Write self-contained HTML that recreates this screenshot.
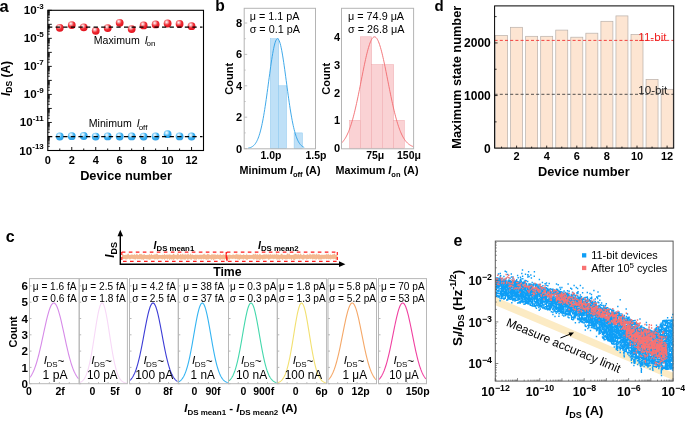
<!DOCTYPE html>
<html><head><meta charset="utf-8"><style>html,body{margin:0;padding:0;background:#fff;width:685px;height:422px;overflow:hidden}svg{display:block;filter:blur(0.35px)}text{font-family:"Liberation Sans",sans-serif}</style></head>
<body><svg width="685" height="422" viewBox="0 0 685 422" font-family="Liberation Sans, sans-serif"><text x="-0.50" y="12.00" font-size="16.5" font-weight="bold" text-anchor="start" fill="#000" >a</text>
<path d="M47.80 150.50h4 M47.80 146.28h2 M47.80 143.81h2 M47.80 142.06h2 M47.80 140.70h2 M47.80 139.59h2 M47.80 138.65h2 M47.80 137.84h2 M47.80 137.12h2 M47.80 136.48h4 M47.80 132.26h2 M47.80 129.79h2 M47.80 128.04h2 M47.80 126.68h2 M47.80 125.57h2 M47.80 124.63h2 M47.80 123.82h2 M47.80 123.10h2 M47.80 122.46h4 M47.80 118.24h2 M47.80 115.77h2 M47.80 114.02h2 M47.80 112.66h2 M47.80 111.55h2 M47.80 110.61h2 M47.80 109.80h2 M47.80 109.08h2 M47.80 108.44h4 M47.80 104.22h2 M47.80 101.75h2 M47.80 100.00h2 M47.80 98.64h2 M47.80 97.53h2 M47.80 96.59h2 M47.80 95.78h2 M47.80 95.06h2 M47.80 94.42h4 M47.80 90.20h2 M47.80 87.73h2 M47.80 85.98h2 M47.80 84.62h2 M47.80 83.51h2 M47.80 82.57h2 M47.80 81.76h2 M47.80 81.04h2 M47.80 80.40h4 M47.80 76.18h2 M47.80 73.71h2 M47.80 71.96h2 M47.80 70.60h2 M47.80 69.49h2 M47.80 68.55h2 M47.80 67.74h2 M47.80 67.02h2 M47.80 66.38h4 M47.80 62.16h2 M47.80 59.69h2 M47.80 57.94h2 M47.80 56.58h2 M47.80 55.47h2 M47.80 54.53h2 M47.80 53.72h2 M47.80 53.00h2 M47.80 52.36h4 M47.80 48.14h2 M47.80 45.67h2 M47.80 43.92h2 M47.80 42.56h2 M47.80 41.45h2 M47.80 40.51h2 M47.80 39.70h2 M47.80 38.98h2 M47.80 38.34h4 M47.80 34.12h2 M47.80 31.65h2 M47.80 29.90h2 M47.80 28.54h2 M47.80 27.43h2 M47.80 26.49h2 M47.80 25.68h2 M47.80 24.96h2 M47.80 24.32h4 M47.80 20.10h2 M47.80 17.63h2 M47.80 15.88h2 M47.80 14.52h2 M47.80 13.41h2 M47.80 12.47h2 M47.80 11.66h2 M47.80 10.94h2 M47.80 10.30h4 M59.78 150.50v-2 M71.76 150.50v-3.5 M83.74 150.50v-2 M95.72 150.50v-3.5 M107.70 150.50v-2 M119.68 150.50v-3.5 M131.66 150.50v-2 M143.64 150.50v-3.5 M155.62 150.50v-2 M167.60 150.50v-3.5 M179.58 150.50v-2 M191.56 150.50v-3.5" stroke="#000" stroke-width="0.9" fill="none"/>
<rect x="47.80" y="10.30" width="155.70" height="140.20" fill="none" stroke="#000" stroke-width="1.1" />
<defs>
<radialGradient id="gr" cx="0.38" cy="0.32" r="0.7"><stop offset="0" stop-color="#fff"/><stop offset="0.25" stop-color="#f7a0a4"/><stop offset="0.55" stop-color="#ee2c34"/><stop offset="1" stop-color="#e0101c"/></radialGradient>
<radialGradient id="gb" cx="0.38" cy="0.32" r="0.7"><stop offset="0" stop-color="#fff"/><stop offset="0.25" stop-color="#b0e0fa"/><stop offset="0.55" stop-color="#3cb0f0"/><stop offset="1" stop-color="#2a9ce4"/></radialGradient>
</defs>
<circle cx="59.78" cy="27.80" r="3.9" fill="url(#gr)"/>
<circle cx="71.76" cy="25.05" r="3.9" fill="url(#gr)"/>
<circle cx="83.74" cy="27.30" r="3.9" fill="url(#gr)"/>
<circle cx="95.72" cy="30.80" r="3.9" fill="url(#gr)"/>
<circle cx="107.70" cy="28.10" r="3.9" fill="url(#gr)"/>
<circle cx="119.68" cy="22.80" r="3.9" fill="url(#gr)"/>
<circle cx="131.66" cy="29.10" r="3.9" fill="url(#gr)"/>
<circle cx="143.64" cy="25.40" r="3.9" fill="url(#gr)"/>
<circle cx="155.62" cy="24.40" r="3.9" fill="url(#gr)"/>
<circle cx="167.60" cy="23.50" r="3.9" fill="url(#gr)"/>
<circle cx="179.58" cy="24.00" r="3.9" fill="url(#gr)"/>
<circle cx="191.56" cy="26.20" r="3.9" fill="url(#gr)"/>
<circle cx="59.78" cy="136.50" r="3.9" fill="url(#gb)"/>
<circle cx="71.76" cy="136.20" r="3.9" fill="url(#gb)"/>
<circle cx="83.74" cy="136.00" r="3.9" fill="url(#gb)"/>
<circle cx="95.72" cy="136.60" r="3.9" fill="url(#gb)"/>
<circle cx="107.70" cy="136.40" r="3.9" fill="url(#gb)"/>
<circle cx="119.68" cy="136.50" r="3.9" fill="url(#gb)"/>
<circle cx="131.66" cy="136.40" r="3.9" fill="url(#gb)"/>
<circle cx="143.64" cy="136.60" r="3.9" fill="url(#gb)"/>
<circle cx="155.62" cy="136.50" r="3.9" fill="url(#gb)"/>
<circle cx="167.60" cy="134.20" r="3.9" fill="url(#gb)"/>
<circle cx="179.58" cy="136.40" r="3.9" fill="url(#gb)"/>
<circle cx="191.56" cy="136.50" r="3.9" fill="url(#gb)"/>
<line x1="48.00" y1="27.10" x2="202.50" y2="27.10" stroke="#000" stroke-width="1.3" stroke-dasharray="4.3 3.3"/>
<line x1="48.00" y1="136.60" x2="202.50" y2="136.60" stroke="#000" stroke-width="1.3" stroke-dasharray="4.3 3.3"/>
<text x="47.80" y="164.20" font-size="11" font-weight="bold" text-anchor="middle" fill="#000" >0</text>
<text x="71.76" y="164.20" font-size="11" font-weight="bold" text-anchor="middle" fill="#000" >2</text>
<text x="95.72" y="164.20" font-size="11" font-weight="bold" text-anchor="middle" fill="#000" >4</text>
<text x="119.68" y="164.20" font-size="11" font-weight="bold" text-anchor="middle" fill="#000" >6</text>
<text x="143.64" y="164.20" font-size="11" font-weight="bold" text-anchor="middle" fill="#000" >8</text>
<text x="167.60" y="164.20" font-size="11" font-weight="bold" text-anchor="middle" fill="#000" >10</text>
<text x="191.56" y="164.20" font-size="11" font-weight="bold" text-anchor="middle" fill="#000" >12</text>
<text x="43.8" y="14.30" font-size="11.6" font-weight="bold" text-anchor="end">10<tspan font-size="8" dy="-5.3">-3</tspan></text>
<text x="43.8" y="42.34" font-size="11.6" font-weight="bold" text-anchor="end">10<tspan font-size="8" dy="-5.3">-5</tspan></text>
<text x="43.8" y="70.38" font-size="11.6" font-weight="bold" text-anchor="end">10<tspan font-size="8" dy="-5.3">-7</tspan></text>
<text x="43.8" y="98.42" font-size="11.6" font-weight="bold" text-anchor="end">10<tspan font-size="8" dy="-5.3">-9</tspan></text>
<text x="43.8" y="126.46" font-size="11.6" font-weight="bold" text-anchor="end">10<tspan font-size="8" dy="-5.3">-11</tspan></text>
<text x="43.8" y="154.50" font-size="11.6" font-weight="bold" text-anchor="end">10<tspan font-size="8" dy="-5.3">-13</tspan></text>
<text x="93.80" y="43.60" font-size="10.6" text-anchor="start" fill="#000" >Maximum <tspan font-style="italic" dx="2">I</tspan><tspan font-size="8" dy="2.5" dx="-1">on</tspan></text>
<text x="88.80" y="127.00" font-size="10.6" text-anchor="start" fill="#000" >Minimum <tspan font-style="italic" dx="2">I</tspan><tspan font-size="8" dy="2.5" dx="-1">off</tspan></text>
<text transform="translate(9.8,78.5) rotate(-90)" font-size="12" font-weight="bold" text-anchor="middle"><tspan font-style="italic">I</tspan><tspan font-size="8.5" dy="2.5">DS</tspan><tspan dy="-2.5"> (A)</tspan></text>
<text x="126.00" y="180.20" font-size="12.8" font-weight="bold" text-anchor="middle" fill="#000" >Device number</text>
<text x="215.30" y="11.20" font-size="15.6" font-weight="bold" text-anchor="start" fill="#000" >b</text>
<rect x="270.40" y="38.70" width="8.30" height="109.90" fill="#bfe0f7" stroke="#8cc8ef" stroke-width="0.5" />
<rect x="278.70" y="85.80" width="7.80" height="62.80" fill="#bfe0f7" stroke="#8cc8ef" stroke-width="0.5" />
<rect x="294.10" y="132.90" width="8.30" height="15.70" fill="#bfe0f7" stroke="#8cc8ef" stroke-width="0.5" />
<path d="M248.20,148.11 L248.70,148.01 L249.20,147.90 L249.70,147.76 L250.20,147.60 L250.70,147.42 L251.20,147.20 L251.70,146.95 L252.20,146.67 L252.70,146.34 L253.20,145.96 L253.70,145.52 L254.20,145.03 L254.70,144.47 L255.20,143.84 L255.70,143.13 L256.20,142.33 L256.70,141.44 L257.20,140.45 L257.70,139.35 L258.20,138.13 L258.70,136.79 L259.20,135.33 L259.70,133.73 L260.20,131.98 L260.70,130.10 L261.20,128.06 L261.70,125.87 L262.20,123.52 L262.70,121.02 L263.20,118.37 L263.70,115.57 L264.20,112.62 L264.70,109.53 L265.20,106.31 L265.70,102.97 L266.20,99.52 L266.70,95.97 L267.20,92.34 L267.70,88.66 L268.20,84.94 L268.70,81.19 L269.20,77.46 L269.70,73.75 L270.20,70.09 L270.70,66.52 L271.20,63.06 L271.70,59.73 L272.20,56.56 L272.70,53.58 L273.20,50.81 L273.70,48.27 L274.20,46.00 L274.70,44.01 L275.20,42.31 L275.70,40.92 L276.20,39.87 L276.70,39.14 L277.20,38.76 L277.70,38.73 L278.20,39.04 L278.70,39.69 L279.20,40.69 L279.70,42.01 L280.20,43.64 L280.70,45.58 L281.20,47.80 L281.70,50.28 L282.20,53.00 L282.70,55.94 L283.20,59.08 L283.70,62.38 L284.20,65.82 L284.70,69.37 L285.20,73.01 L285.70,76.71 L286.20,80.44 L286.70,84.19 L287.20,87.92 L287.70,91.61 L288.20,95.25 L288.70,98.81 L289.20,102.28 L289.70,105.65 L290.20,108.90 L290.70,112.01 L291.20,114.99 L291.70,117.82 L292.20,120.51 L292.70,123.04 L293.20,125.41 L293.70,127.63 L294.20,129.70 L294.70,131.62 L295.20,133.39 L295.70,135.02 L296.20,136.51 L296.70,137.87 L297.20,139.11 L297.70,140.24 L298.20,141.25 L298.70,142.16 L299.20,142.98 L299.70,143.70 L300.20,144.35 L300.70,144.92 L301.20,145.43 L301.70,145.87 L302.20,146.26 L302.70,146.60 L303.20,146.90 L303.70,147.16 L304.20,147.38" stroke="#2a9fe6" stroke-width="0.9" fill="none"/>
<rect x="244.20" y="8.30" width="71.30" height="140.50" fill="none" stroke="#b4b4b4" stroke-width="1" />
<path d="M244.20 148.60h3 M244.20 132.90h1.5 M244.20 117.20h3 M244.20 101.50h1.5 M244.20 85.80h3 M244.20 70.10h1.5 M244.20 54.40h3 M244.20 38.70h1.5 M244.20 23.00h3" stroke="#b4b4b4" stroke-width="0.8"/>
<text x="242.00" y="152.60" font-size="11" font-weight="bold" text-anchor="end" fill="#000" >0</text>
<text x="242.00" y="121.20" font-size="11" font-weight="bold" text-anchor="end" fill="#000" >2</text>
<text x="242.00" y="89.80" font-size="11" font-weight="bold" text-anchor="end" fill="#000" >4</text>
<text x="242.00" y="58.40" font-size="11" font-weight="bold" text-anchor="end" fill="#000" >6</text>
<text x="242.00" y="27.00" font-size="11" font-weight="bold" text-anchor="end" fill="#000" >8</text>
<text x="249.70" y="20.20" font-size="10.8" text-anchor="start" fill="#000" >μ = 1.1 pA</text>
<text x="249.70" y="33.00" font-size="10.8" text-anchor="start" fill="#000" >σ = 0.1 pA</text>
<text x="271.00" y="158.60" font-size="10.5" font-weight="bold" text-anchor="middle" fill="#000" >1.0p</text>
<text x="316.00" y="158.60" font-size="10.5" font-weight="bold" text-anchor="middle" fill="#000" >1.5p</text>
<text transform="translate(233,78.8) rotate(-90)" font-size="11" font-weight="bold" text-anchor="middle">Count</text>
<text x="280.00" y="174.40" font-size="10.8" font-weight="bold" text-anchor="middle" fill="#000" >Minimum <tspan font-style="italic">I</tspan><tspan font-size="7.5" dy="3">off</tspan><tspan dy="-3"> (A)</tspan></text>
<rect x="349.60" y="120.35" width="10.90" height="27.85" fill="#fad2d4" stroke="#f0a8ac" stroke-width="0.5" />
<rect x="360.50" y="36.80" width="11.10" height="111.40" fill="#fad2d4" stroke="#f0a8ac" stroke-width="0.5" />
<rect x="371.60" y="64.65" width="10.70" height="83.55" fill="#fad2d4" stroke="#f0a8ac" stroke-width="0.5" />
<rect x="382.30" y="64.65" width="11.30" height="83.55" fill="#fad2d4" stroke="#f0a8ac" stroke-width="0.5" />
<rect x="393.60" y="120.35" width="10.70" height="27.85" fill="#fad2d4" stroke="#f0a8ac" stroke-width="0.5" />
<path d="M341.50,143.07 L342.00,142.57 L342.50,142.04 L343.00,141.46 L343.50,140.83 L344.00,140.17 L344.50,139.45 L345.00,138.68 L345.50,137.86 L346.00,136.99 L346.50,136.05 L347.00,135.06 L347.50,134.01 L348.00,132.90 L348.50,131.72 L349.00,130.47 L349.50,129.16 L350.00,127.78 L350.50,126.33 L351.00,124.81 L351.50,123.23 L352.00,121.57 L352.50,119.84 L353.00,118.04 L353.50,116.17 L354.00,114.24 L354.50,112.24 L355.00,110.17 L355.50,108.05 L356.00,105.86 L356.50,103.62 L357.00,101.33 L357.50,98.98 L358.00,96.60 L358.50,94.17 L359.00,91.71 L359.50,89.22 L360.00,86.71 L360.50,84.19 L361.00,81.65 L361.50,79.11 L362.00,76.57 L362.50,74.05 L363.00,71.55 L363.50,69.07 L364.00,66.63 L364.50,64.23 L365.00,61.88 L365.50,59.60 L366.00,57.38 L366.50,55.23 L367.00,53.18 L367.50,51.21 L368.00,49.34 L368.50,47.58 L369.00,45.93 L369.50,44.40 L370.00,43.00 L370.50,41.73 L371.00,40.59 L371.50,39.60 L372.00,38.75 L372.50,38.05 L373.00,37.51 L373.50,37.11 L374.00,36.88 L374.50,36.80 L375.00,36.88 L375.50,37.11 L376.00,37.51 L376.50,38.05 L377.00,38.75 L377.50,39.60 L378.00,40.59 L378.50,41.73 L379.00,43.00 L379.50,44.40 L380.00,45.93 L380.50,47.58 L381.00,49.34 L381.50,51.21 L382.00,53.18 L382.50,55.23 L383.00,57.38 L383.50,59.60 L384.00,61.88 L384.50,64.23 L385.00,66.63 L385.50,69.07 L386.00,71.55 L386.50,74.05 L387.00,76.57 L387.50,79.11 L388.00,81.65 L388.50,84.19 L389.00,86.71 L389.50,89.22 L390.00,91.71 L390.50,94.17 L391.00,96.60 L391.50,98.98 L392.00,101.33 L392.50,103.62 L393.00,105.86 L393.50,108.05 L394.00,110.17 L394.50,112.24 L395.00,114.24 L395.50,116.17 L396.00,118.04 L396.50,119.84 L397.00,121.57 L397.50,123.23 L398.00,124.81 L398.50,126.33 L399.00,127.78 L399.50,129.16 L400.00,130.47 L400.50,131.72 L401.00,132.90 L401.50,134.01 L402.00,135.06 L402.50,136.05 L403.00,136.99 L403.50,137.86 L404.00,138.68 L404.50,139.45 L405.00,140.17 L405.50,140.83 L406.00,141.46 L406.50,142.04 L407.00,142.57 L407.50,143.07 L408.00,143.53 L408.50,143.96 L409.00,144.35 L409.50,144.71 L410.00,145.04 L410.50,145.34 L411.00,145.62 L411.50,145.88 L412.00,146.11 L412.50,146.32 L413.00,146.51 L413.50,146.69" stroke="#f26a6e" stroke-width="0.9" fill="none"/>
<rect x="341.50" y="8.30" width="72.10" height="140.50" fill="none" stroke="#b4b4b4" stroke-width="1" />
<text x="340.00" y="152.20" font-size="11" font-weight="bold" text-anchor="end" fill="#000" >0</text>
<text x="340.00" y="124.35" font-size="11" font-weight="bold" text-anchor="end" fill="#000" >1</text>
<text x="340.00" y="96.50" font-size="11" font-weight="bold" text-anchor="end" fill="#000" >2</text>
<text x="340.00" y="68.65" font-size="11" font-weight="bold" text-anchor="end" fill="#000" >3</text>
<text x="340.00" y="40.80" font-size="11" font-weight="bold" text-anchor="end" fill="#000" >4</text>
<text x="348.10" y="20.20" font-size="10.8" text-anchor="start" fill="#000" >μ = 74.9 μA</text>
<text x="348.10" y="33.00" font-size="10.8" text-anchor="start" fill="#000" >σ = 26.8 μA</text>
<text x="375.20" y="158.60" font-size="10.5" font-weight="bold" text-anchor="middle" fill="#000" >75μ</text>
<text x="409.00" y="158.60" font-size="10.5" font-weight="bold" text-anchor="middle" fill="#000" >150μ</text>
<text transform="translate(329.9,78.8) rotate(-90)" font-size="11" font-weight="bold" text-anchor="middle">Count</text>
<text x="377.00" y="174.40" font-size="10.8" font-weight="bold" text-anchor="middle" fill="#000" >Maximum <tspan font-style="italic">I</tspan><tspan font-size="7.5" dy="3">on</tspan><tspan dy="-3"> (A)</tspan></text>
<text x="434.50" y="11.40" font-size="15" font-weight="bold" text-anchor="start" fill="#000" >d</text>
<rect x="495.55" y="35.50" width="12.00" height="112.60" fill="#fde5d2" stroke="#b8b0aa" stroke-width="0.7" />
<rect x="510.60" y="27.30" width="12.00" height="120.80" fill="#fde5d2" stroke="#b8b0aa" stroke-width="0.7" />
<rect x="525.65" y="36.30" width="12.00" height="111.80" fill="#fde5d2" stroke="#b8b0aa" stroke-width="0.7" />
<rect x="540.70" y="36.30" width="12.00" height="111.80" fill="#fde5d2" stroke="#b8b0aa" stroke-width="0.7" />
<rect x="555.75" y="30.10" width="12.00" height="118.00" fill="#fde5d2" stroke="#b8b0aa" stroke-width="0.7" />
<rect x="570.80" y="37.20" width="12.00" height="110.90" fill="#fde5d2" stroke="#b8b0aa" stroke-width="0.7" />
<rect x="585.85" y="33.20" width="12.00" height="114.90" fill="#fde5d2" stroke="#b8b0aa" stroke-width="0.7" />
<rect x="600.90" y="21.30" width="12.00" height="126.80" fill="#fde5d2" stroke="#b8b0aa" stroke-width="0.7" />
<rect x="615.95" y="15.90" width="12.00" height="132.20" fill="#fde5d2" stroke="#b8b0aa" stroke-width="0.7" />
<rect x="631.00" y="34.40" width="12.00" height="113.70" fill="#fde5d2" stroke="#b8b0aa" stroke-width="0.7" />
<rect x="646.05" y="79.40" width="12.00" height="68.70" fill="#fde5d2" stroke="#b8b0aa" stroke-width="0.7" />
<rect x="661.10" y="89.30" width="12.00" height="58.80" fill="#fde5d2" stroke="#b8b0aa" stroke-width="0.7" />
<line x1="494.60" y1="40.40" x2="673.70" y2="40.40" stroke="#f03030" stroke-width="0.9" stroke-dasharray="3 2.2"/>
<line x1="494.60" y1="94.30" x2="673.70" y2="94.30" stroke="#404040" stroke-width="0.9" stroke-dasharray="3 2.2"/>
<rect x="494.60" y="5.90" width="179.10" height="142.20" fill="none" stroke="#000" stroke-width="1" />
<path d="M494.60 121.88h2 M494.60 95.56h3 M494.60 69.24h2 M494.60 42.93h3 M494.60 16.61h2 M501.55 148.10v-1.5 M516.60 148.10v-2.5 M531.65 148.10v-1.5 M546.70 148.10v-2.5 M561.75 148.10v-1.5 M576.80 148.10v-2.5 M591.85 148.10v-1.5 M606.90 148.10v-2.5 M621.95 148.10v-1.5 M637.00 148.10v-2.5 M652.05 148.10v-1.5 M667.10 148.10v-2.5" stroke="#000" stroke-width="0.8"/>
<text x="490.80" y="152.50" font-size="12" font-weight="bold" text-anchor="end" fill="#000" >0</text>
<text x="490.80" y="99.86" font-size="12" font-weight="bold" text-anchor="end" fill="#000" >1000</text>
<text x="490.80" y="47.23" font-size="12" font-weight="bold" text-anchor="end" fill="#000" >2000</text>
<text x="516.60" y="160.40" font-size="11" font-weight="bold" text-anchor="middle" fill="#000" >2</text>
<text x="546.70" y="160.40" font-size="11" font-weight="bold" text-anchor="middle" fill="#000" >4</text>
<text x="576.80" y="160.40" font-size="11" font-weight="bold" text-anchor="middle" fill="#000" >6</text>
<text x="606.90" y="160.40" font-size="11" font-weight="bold" text-anchor="middle" fill="#000" >8</text>
<text x="637.00" y="160.40" font-size="11" font-weight="bold" text-anchor="middle" fill="#000" >10</text>
<text x="667.10" y="160.40" font-size="11" font-weight="bold" text-anchor="middle" fill="#000" >12</text>
<text x="583.80" y="176.20" font-size="12.8" font-weight="bold" text-anchor="middle" fill="#000" >Device number</text>
<text transform="translate(460.6,77.2) rotate(-90)" font-size="12.8" font-weight="bold" text-anchor="middle">Maximum state number</text>
<text x="638.30" y="40.60" font-size="11.6" text-anchor="start" fill="#f02020" >11-bit</text>
<text x="638.30" y="93.50" font-size="11.6" text-anchor="start" fill="#222" >10-bit</text>
<text x="5.80" y="241.70" font-size="16" font-weight="bold" text-anchor="start" fill="#000" >c</text>
<path d="M122.0,254.89 L122.6,254.38 L123.2,254.62 L123.8,255.00 L124.4,255.00 L125.0,255.00 L125.6,254.79 L126.2,254.99 L126.8,254.44 L127.4,254.54 L128.0,253.30 L128.6,253.77 L129.2,254.99 L129.8,254.90 L130.4,254.98 L131.0,254.41 L131.6,254.60 L132.2,255.00 L132.8,254.31 L133.4,254.90 L134.0,254.75 L134.6,253.99 L135.2,254.95 L135.8,254.64 L136.4,254.18 L137.0,253.29 L137.6,254.80 L138.2,254.98 L138.8,255.00 L139.4,254.08 L140.0,253.71 L140.6,254.27 L141.2,254.54 L141.8,253.84 L142.4,254.72 L143.0,255.00 L143.6,254.39 L144.2,253.90 L144.8,254.83 L145.4,255.00 L146.0,254.98 L146.6,255.00 L147.2,254.99 L147.8,254.83 L148.4,255.00 L149.0,254.60 L149.6,253.91 L150.2,254.93 L150.8,254.86 L151.4,253.38 L152.0,254.98 L152.6,254.95 L153.2,254.52 L153.8,255.00 L154.4,254.85 L155.0,253.40 L155.6,254.66 L156.2,254.32 L156.8,253.62 L157.4,253.71 L158.0,254.83 L158.6,254.99 L159.2,255.00 L159.8,254.96 L160.4,254.88 L161.0,255.00 L161.6,254.99 L162.2,255.00 L162.8,254.47 L163.4,254.94 L164.0,254.86 L164.6,253.80 L165.2,254.73 L165.8,255.00 L166.4,254.88 L167.0,253.87 L167.6,255.00 L168.2,254.63 L168.8,254.61 L169.4,254.64 L170.0,253.75 L170.6,254.94 L171.2,254.98 L171.8,254.63 L172.4,254.89 L173.0,253.93 L173.6,253.79 L174.2,253.91 L174.8,254.96 L175.4,254.86 L176.0,255.00 L176.6,254.94 L177.2,253.39 L177.8,253.47 L178.4,253.40 L179.0,254.96 L179.6,254.97 L180.2,254.45 L180.8,253.83 L181.4,254.38 L182.0,255.00 L182.6,253.58 L183.2,254.12 L183.8,254.98 L184.4,254.89 L185.0,253.32 L185.6,254.82 L186.2,254.19 L186.8,254.99 L187.4,253.60 L188.0,254.99 L188.6,253.29 L189.2,254.87 L189.8,254.99 L190.4,253.33 L191.0,254.64 L191.6,254.78 L192.2,253.88 L192.8,254.94 L193.4,254.95 L194.0,254.94 L194.6,254.99 L195.2,254.87 L195.8,254.53 L196.4,254.79 L197.0,254.68 L197.6,254.64 L198.2,254.77 L198.8,255.00 L199.4,254.98 L200.0,254.19 L200.6,254.89 L201.2,254.59 L201.8,254.99 L202.4,254.94 L203.0,254.06 L203.6,254.57 L204.2,253.57 L204.8,254.47 L205.4,254.66 L206.0,254.75 L206.6,254.72 L207.2,254.26 L207.8,253.45 L208.4,254.58 L209.0,253.84 L209.6,254.99 L210.2,255.00 L210.8,255.00 L211.4,254.02 L212.0,254.98 L212.6,254.36 L213.2,253.68 L213.8,254.96 L214.4,254.82 L215.0,253.25 L215.6,254.98 L216.2,254.66 L216.8,254.97 L217.4,254.20 L218.0,254.59 L218.6,255.00 L219.2,254.45 L219.8,255.00 L220.4,254.01 L221.0,254.99 L221.6,255.00 L222.2,254.93 L222.8,254.79 L223.4,253.91 L224.0,254.98 L224.6,254.56 L225.2,255.00 L225.8,254.29 L226.4,255.00 L227.0,254.42 L227.6,255.00 L228.2,255.00 L228.8,254.75 L229.4,254.59 L230.0,254.93 L230.6,254.64 L231.2,254.99 L231.8,255.00 L232.4,254.90 L233.0,254.10 L233.6,254.68 L234.2,254.87 L234.8,254.94 L235.4,254.17 L236.0,254.97 L236.6,253.48 L237.2,253.91 L237.8,254.69 L238.4,254.83 L239.0,254.29 L239.6,254.88 L240.2,254.24 L240.8,254.81 L241.4,255.00 L242.0,255.00 L242.6,254.94 L243.2,255.00 L243.8,253.73 L244.4,254.92 L245.0,254.92 L245.6,254.98 L246.2,254.94 L246.8,253.32 L247.4,254.95 L248.0,254.90 L248.6,255.00 L249.2,254.72 L249.8,254.97 L250.4,255.00 L251.0,255.00 L251.6,255.00 L252.2,254.91 L252.8,254.53 L253.4,254.12 L254.0,254.22 L254.6,254.83 L255.2,253.27 L255.8,254.20 L256.4,255.00 L257.0,253.65 L257.6,254.17 L258.2,254.99 L258.8,254.67 L259.4,253.95 L260.0,254.53 L260.6,254.31 L261.2,254.95 L261.8,254.99 L262.4,254.99 L263.0,254.58 L263.6,254.44 L264.2,254.70 L264.8,253.98 L265.4,254.68 L266.0,254.36 L266.6,254.16 L267.2,255.00 L267.8,254.18 L268.4,254.15 L269.0,254.69 L269.6,254.71 L270.2,254.07 L270.8,254.40 L271.4,254.98 L272.0,254.14 L272.6,254.56 L273.2,255.00 L273.8,254.33 L274.4,254.32 L275.0,254.65 L275.6,254.73 L276.2,253.64 L276.8,253.30 L277.4,255.00 L278.0,253.90 L278.6,254.76 L279.2,254.96 L279.8,254.96 L280.4,254.99 L281.0,253.41 L281.6,253.90 L282.2,253.67 L282.8,254.95 L283.4,254.70 L284.0,255.00 L284.6,254.75 L285.2,254.99 L285.8,254.90 L286.4,255.00 L287.0,253.84 L287.6,253.51 L288.2,253.61 L288.8,254.85 L289.4,253.21 L290.0,254.86 L290.6,254.93 L291.2,254.99 L291.8,254.92 L292.4,254.94 L293.0,254.66 L293.6,254.85 L294.2,253.68 L294.8,254.43 L295.4,253.46 L296.0,254.21 L296.6,254.17 L297.2,254.12 L297.8,254.92 L298.4,253.51 L299.0,254.72 L299.6,254.91 L300.2,253.30 L300.8,254.37 L301.4,254.58 L302.0,254.98 L302.6,254.96 L303.2,254.69 L303.8,253.59 L304.4,254.76 L305.0,254.97 L305.6,254.88 L306.2,254.95 L306.8,254.56 L307.4,254.12 L308.0,254.80 L308.6,254.84 L309.2,255.00 L309.8,253.34 L310.4,254.68 L311.0,253.76 L311.6,254.93 L312.2,254.82 L312.8,253.40 L313.4,253.72 L314.0,255.00 L314.6,253.63 L315.2,254.52 L315.8,254.83 L316.4,253.89 L317.0,253.32 L317.6,254.99 L318.2,254.65 L318.8,253.45 L319.4,254.39 L320.0,254.75 L320.6,255.00 L321.2,254.95 L321.8,254.40 L322.4,254.99 L323.0,254.42 L323.6,254.99 L324.2,254.64 L324.8,254.83 L325.4,254.50 L326.0,254.91 L326.6,253.38 L327.2,253.68 L327.8,254.95 L328.4,253.37 L329.0,254.91 L329.6,254.68 L330.2,254.79 L330.8,254.35 L331.4,254.96 L332.0,254.88 L332.6,254.31 L333.2,253.98 L333.8,254.67 L334.4,253.33 L335.0,253.90 L335.6,254.96 L336.2,254.91 L336.8,254.69 L337.4,254.96 L337.4,258.97 L336.8,258.82 L336.2,260.13 L335.6,259.56 L335.0,258.84 L334.4,258.88 L333.8,258.83 L333.2,259.50 L332.6,258.83 L332.0,258.97 L331.4,258.80 L330.8,260.03 L330.2,258.85 L329.6,259.36 L329.0,258.80 L328.4,259.43 L327.8,258.85 L327.2,259.03 L326.6,259.30 L326.0,259.02 L325.4,258.80 L324.8,258.84 L324.2,259.19 L323.6,258.80 L323.0,259.41 L322.4,258.85 L321.8,258.88 L321.2,260.02 L320.6,259.61 L320.0,259.14 L319.4,259.57 L318.8,259.46 L318.2,259.38 L317.6,258.81 L317.0,258.85 L316.4,259.82 L315.8,260.04 L315.2,258.80 L314.6,259.03 L314.0,259.44 L313.4,258.80 L312.8,259.80 L312.2,259.00 L311.6,258.85 L311.0,258.83 L310.4,259.27 L309.8,258.81 L309.2,258.86 L308.6,258.90 L308.0,259.10 L307.4,258.96 L306.8,259.91 L306.2,258.85 L305.6,258.80 L305.0,258.80 L304.4,258.81 L303.8,260.29 L303.2,258.83 L302.6,259.97 L302.0,258.82 L301.4,258.95 L300.8,258.87 L300.2,258.85 L299.6,259.50 L299.0,258.90 L298.4,258.81 L297.8,258.80 L297.2,259.30 L296.6,259.00 L296.0,258.80 L295.4,259.14 L294.8,260.00 L294.2,259.69 L293.6,260.14 L293.0,258.82 L292.4,258.85 L291.8,260.07 L291.2,259.75 L290.6,258.80 L290.0,258.98 L289.4,259.20 L288.8,258.95 L288.2,258.87 L287.6,259.44 L287.0,258.81 L286.4,259.53 L285.8,259.77 L285.2,258.90 L284.6,258.88 L284.0,259.05 L283.4,258.80 L282.8,259.95 L282.2,259.42 L281.6,259.08 L281.0,258.81 L280.4,259.10 L279.8,259.19 L279.2,260.10 L278.6,258.86 L278.0,260.18 L277.4,259.01 L276.8,260.07 L276.2,258.83 L275.6,258.81 L275.0,259.02 L274.4,258.87 L273.8,259.40 L273.2,258.86 L272.6,258.80 L272.0,258.88 L271.4,258.85 L270.8,258.80 L270.2,259.25 L269.6,259.38 L269.0,258.94 L268.4,260.21 L267.8,258.83 L267.2,258.85 L266.6,258.85 L266.0,258.80 L265.4,259.11 L264.8,259.53 L264.2,258.80 L263.6,259.37 L263.0,259.27 L262.4,259.76 L261.8,258.92 L261.2,258.80 L260.6,259.40 L260.0,259.93 L259.4,259.73 L258.8,259.76 L258.2,259.10 L257.6,259.69 L257.0,259.27 L256.4,259.76 L255.8,259.30 L255.2,258.81 L254.6,258.89 L254.0,259.89 L253.4,259.33 L252.8,259.11 L252.2,258.84 L251.6,258.80 L251.0,258.95 L250.4,258.85 L249.8,259.07 L249.2,259.07 L248.6,258.93 L248.0,258.91 L247.4,260.17 L246.8,259.13 L246.2,260.16 L245.6,259.00 L245.0,259.01 L244.4,258.84 L243.8,259.35 L243.2,259.77 L242.6,258.82 L242.0,259.51 L241.4,258.81 L240.8,258.91 L240.2,259.28 L239.6,259.75 L239.0,260.24 L238.4,259.07 L237.8,259.75 L237.2,258.98 L236.6,258.81 L236.0,259.03 L235.4,259.14 L234.8,258.80 L234.2,258.80 L233.6,258.82 L233.0,258.87 L232.4,258.88 L231.8,258.83 L231.2,258.82 L230.6,258.84 L230.0,258.81 L229.4,260.04 L228.8,258.90 L228.2,259.84 L227.6,259.82 L227.0,259.66 L226.4,260.08 L225.8,258.98 L225.2,258.80 L224.6,259.42 L224.0,260.02 L223.4,258.85 L222.8,259.99 L222.2,258.81 L221.6,259.60 L221.0,258.85 L220.4,260.20 L219.8,260.24 L219.2,259.08 L218.6,258.89 L218.0,258.99 L217.4,258.80 L216.8,258.89 L216.2,258.90 L215.6,258.98 L215.0,259.75 L214.4,259.05 L213.8,260.13 L213.2,260.18 L212.6,258.81 L212.0,259.45 L211.4,259.94 L210.8,259.35 L210.2,258.84 L209.6,258.99 L209.0,258.81 L208.4,260.10 L207.8,258.85 L207.2,259.88 L206.6,260.09 L206.0,259.11 L205.4,259.40 L204.8,259.07 L204.2,259.00 L203.6,259.56 L203.0,259.08 L202.4,258.86 L201.8,259.15 L201.2,259.62 L200.6,259.09 L200.0,259.15 L199.4,259.03 L198.8,259.66 L198.2,258.82 L197.6,258.80 L197.0,259.11 L196.4,260.01 L195.8,259.97 L195.2,259.01 L194.6,259.98 L194.0,258.97 L193.4,259.20 L192.8,258.87 L192.2,258.83 L191.6,259.86 L191.0,260.06 L190.4,259.31 L189.8,258.80 L189.2,259.13 L188.6,259.33 L188.0,259.73 L187.4,259.68 L186.8,258.81 L186.2,258.82 L185.6,260.11 L185.0,258.95 L184.4,259.66 L183.8,259.63 L183.2,259.04 L182.6,259.61 L182.0,259.33 L181.4,259.66 L180.8,259.04 L180.2,259.95 L179.6,258.83 L179.0,258.84 L178.4,258.92 L177.8,260.26 L177.2,259.00 L176.6,259.40 L176.0,258.86 L175.4,258.80 L174.8,259.09 L174.2,259.51 L173.6,259.68 L173.0,260.24 L172.4,258.84 L171.8,259.60 L171.2,259.59 L170.6,258.92 L170.0,259.41 L169.4,260.22 L168.8,258.80 L168.2,258.81 L167.6,260.12 L167.0,258.82 L166.4,258.85 L165.8,258.81 L165.2,259.04 L164.6,260.27 L164.0,258.81 L163.4,258.91 L162.8,258.81 L162.2,259.87 L161.6,258.92 L161.0,258.81 L160.4,258.80 L159.8,258.82 L159.2,258.80 L158.6,259.28 L158.0,258.95 L157.4,259.65 L156.8,259.61 L156.2,258.80 L155.6,259.25 L155.0,259.39 L154.4,259.16 L153.8,258.97 L153.2,258.85 L152.6,259.05 L152.0,258.84 L151.4,258.81 L150.8,259.90 L150.2,258.97 L149.6,259.84 L149.0,259.90 L148.4,259.00 L147.8,259.86 L147.2,258.85 L146.6,259.58 L146.0,258.81 L145.4,259.02 L144.8,259.35 L144.2,258.86 L143.6,260.27 L143.0,259.42 L142.4,259.34 L141.8,260.10 L141.2,259.01 L140.6,259.21 L140.0,258.88 L139.4,259.17 L138.8,259.35 L138.2,259.05 L137.6,259.55 L137.0,258.81 L136.4,258.87 L135.8,259.87 L135.2,259.18 L134.6,259.41 L134.0,258.87 L133.4,259.19 L132.8,258.98 L132.2,258.83 L131.6,258.80 L131.0,258.93 L130.4,259.19 L129.8,259.70 L129.2,258.81 L128.6,258.87 L128.0,258.80 L127.4,258.95 L126.8,260.11 L126.2,258.84 L125.6,259.73 L125.0,258.80 L124.4,258.99 L123.8,259.08 L123.2,258.92 L122.6,258.80 L122.0,258.81Z" fill="#f4b890"/>
<line x1="121.80" y1="252.10" x2="337.30" y2="252.10" stroke="#ff1c1c" stroke-width="1.3" stroke-dasharray="3.6 3.4"/>
<line x1="121.80" y1="261.30" x2="337.30" y2="261.30" stroke="#ff1c1c" stroke-width="1.3" stroke-dasharray="3.6 3.4" stroke-dashoffset="-1.2"/>
<line x1="337.30" y1="252.10" x2="337.30" y2="261.30" stroke="#ff1c1c" stroke-width="1.2" stroke-dasharray="3 2"/>
<line x1="121.80" y1="252.10" x2="121.80" y2="261.30" stroke="#ff1c1c" stroke-width="1.2" stroke-dasharray="3 2"/>
<path d="M225.6 252.1 L227.6 252.1 L226.6 254.5 L227.6 257.5 L227.6 261.3 L226.6 261.3 L225.6 257.5 Z" fill="#ff1c1c"/>
<line x1="120.30" y1="264.20" x2="341.00" y2="264.20" stroke="#000" stroke-width="1.4" />
<line x1="120.30" y1="264.90" x2="120.30" y2="234.00" stroke="#000" stroke-width="1.4" />
<path d="M117.5 236.2 L120.3 229.8 L123.1 236.2 Z" fill="#000"/>
<path d="M339 261.3 L345.4 264.2 L339 267.1 Z" fill="#000"/>
<text transform="translate(114.3,249.8) rotate(-90)" font-size="12" font-weight="bold" text-anchor="middle"><tspan font-style="italic">I</tspan><tspan font-size="9" dy="2.5">DS</tspan></text>
<text x="153.60" y="248.70" font-size="10.5" font-weight="bold" text-anchor="start" fill="#000" ><tspan font-style="italic">I</tspan><tspan font-size="7.8" dy="2.2">DS mean1</tspan></text>
<text x="258.00" y="248.70" font-size="10.5" font-weight="bold" text-anchor="start" fill="#000" ><tspan font-style="italic">I</tspan><tspan font-size="7.8" dy="2.2">DS mean2</tspan></text>
<text x="227.40" y="275.80" font-size="12.3" font-weight="bold" text-anchor="middle" fill="#000" >Time</text>
<path d="M30.00,377.42 L30.50,376.73 L31.00,375.97 L31.50,375.16 L32.00,374.27 L32.50,373.32 L33.00,372.29 L33.50,371.19 L34.00,370.01 L34.50,368.75 L35.00,367.40 L35.50,365.98 L36.00,364.48 L36.50,362.89 L37.00,361.22 L37.50,359.47 L38.00,357.65 L38.50,355.74 L39.00,353.77 L39.50,351.73 L40.00,349.63 L40.50,347.47 L41.00,345.26 L41.50,343.01 L42.00,340.72 L42.50,338.40 L43.00,336.08 L43.50,333.74 L44.00,331.41 L44.50,329.09 L45.00,326.80 L45.50,324.55 L46.00,322.35 L46.50,320.22 L47.00,318.16 L47.50,316.18 L48.00,314.31 L48.50,312.54 L49.00,310.90 L49.50,309.39 L50.00,308.02 L50.50,306.80 L51.00,305.74 L51.50,304.84 L52.00,304.12 L52.50,303.57 L53.00,303.21 L53.50,303.02 L54.00,303.02 L54.50,303.21 L55.00,303.57 L55.50,304.12 L56.00,304.84 L56.50,305.74 L57.00,306.80 L57.50,308.02 L58.00,309.39 L58.50,310.90 L59.00,312.54 L59.50,314.31 L60.00,316.18 L60.50,318.16 L61.00,320.22 L61.50,322.35 L62.00,324.55 L62.50,326.80 L63.00,329.09 L63.50,331.41 L64.00,333.74 L64.50,336.08 L65.00,338.40 L65.50,340.72 L66.00,343.01 L66.50,345.26 L67.00,347.47 L67.50,349.63 L68.00,351.73 L68.50,353.77 L69.00,355.74 L69.50,357.65 L70.00,359.47 L70.50,361.22 L71.00,362.89 L71.50,364.48 L72.00,365.98 L72.50,367.40 L73.00,368.75 L73.50,370.01 L74.00,371.19 L74.50,372.29 L75.00,373.32 L75.50,374.27 L76.00,375.16 L76.50,375.97 L77.00,376.73 L77.50,377.42 L78.00,378.05 L78.50,378.63" stroke="#d68ae8" stroke-width="1.1" fill="none"/>
<path d="M29.50 383.70h2 M29.50 367.40h2 M29.50 351.10h2 M29.50 334.80h2 M29.50 318.50h2 M29.50 302.20h2 M29.50 285.90h2 M39.44 383.70v-1.5 M49.38 383.70v-1.5 M59.32 383.70v-1.5 M69.26 383.70v-1.5" stroke="#999" stroke-width="0.7"/>
<rect x="29.50" y="278.60" width="49.70" height="105.10" fill="none" stroke="#b8b8b8" stroke-width="1" />
<text x="54.65" y="289.70" font-size="10.1" text-anchor="middle" fill="#000" >μ = 1.6 fA</text>
<text x="54.65" y="301.50" font-size="10.1" text-anchor="middle" fill="#000" >σ = 0.6 fA</text>
<text x="54.15" y="364.20" font-size="11.8" text-anchor="middle" fill="#000" ><tspan font-style="italic">I</tspan><tspan font-size="8" dy="3" dx="-0.6">DS</tspan><tspan dy="-2.6">~</tspan></text>
<text x="55.05" y="378.80" font-size="12" text-anchor="middle" fill="#000" textLength="25.1" lengthAdjust="spacingAndGlyphs">1 pA</text>
<text x="29.00" y="394.80" font-size="10.5" font-weight="bold" text-anchor="middle" fill="#000" >0</text>
<text x="60.10" y="394.80" font-size="10.5" font-weight="bold" text-anchor="middle" fill="#000" >2f</text>
<path d="M79.70,382.57 L80.20,382.37 L80.70,382.13 L81.20,381.84 L81.70,381.51 L82.20,381.12 L82.70,380.66 L83.20,380.14 L83.70,379.53 L84.20,378.83 L84.70,378.04 L85.20,377.14 L85.70,376.13 L86.20,374.99 L86.70,373.72 L87.20,372.31 L87.70,370.76 L88.20,369.05 L88.70,367.18 L89.20,365.16 L89.70,362.98 L90.20,360.64 L90.70,358.14 L91.20,355.50 L91.70,352.72 L92.20,349.81 L92.70,346.80 L93.20,343.69 L93.70,340.51 L94.20,337.28 L94.70,334.02 L95.20,330.78 L95.70,327.57 L96.20,324.42 L96.70,321.38 L97.20,318.47 L97.70,315.73 L98.20,313.18 L98.70,310.86 L99.20,308.80 L99.70,307.02 L100.20,305.54 L100.70,304.39 L101.20,303.58 L101.70,303.11 L102.20,303.01 L102.70,303.26 L103.20,303.86 L103.70,304.81 L104.20,306.09 L104.70,307.69 L105.20,309.59 L105.70,311.76 L106.20,314.17 L106.70,316.80 L107.20,319.62 L107.70,322.58 L108.20,325.67 L108.70,328.84 L109.20,332.07 L109.70,335.33 L110.20,338.57 L110.70,341.79 L111.20,344.94 L111.70,348.02 L112.20,350.99 L112.70,353.85 L113.20,356.57 L113.70,359.16 L114.20,361.59 L114.70,363.87 L115.20,365.99 L115.70,367.95 L116.20,369.75 L116.70,371.40 L117.20,372.89 L117.70,374.25 L118.20,375.46 L118.70,376.55 L119.20,377.52 L119.70,378.37 L120.20,379.12 L120.70,379.78 L121.20,380.36 L121.70,380.85 L122.20,381.28 L122.70,381.65 L123.20,381.96 L123.70,382.23 L124.20,382.45 L124.70,382.64 L125.20,382.80 L125.70,382.93 L126.20,383.04 L126.70,383.13" stroke="#f7d8f7" stroke-width="1.1" fill="none"/>
<path d="M79.20 383.70h2 M79.20 367.40h2 M79.20 351.10h2 M79.20 334.80h2 M79.20 318.50h2 M79.20 302.20h2 M79.20 285.90h2 M88.84 383.70v-1.5 M98.48 383.70v-1.5 M108.12 383.70v-1.5 M117.76 383.70v-1.5" stroke="#999" stroke-width="0.7"/>
<rect x="79.20" y="278.60" width="48.20" height="105.10" fill="none" stroke="#b8b8b8" stroke-width="1" />
<text x="103.60" y="289.70" font-size="10.1" text-anchor="middle" fill="#000" >μ = 2.5 fA</text>
<text x="103.60" y="301.50" font-size="10.1" text-anchor="middle" fill="#000" >σ = 1.8 fA</text>
<text x="101.60" y="364.20" font-size="11.8" text-anchor="middle" fill="#000" ><tspan font-style="italic">I</tspan><tspan font-size="8" dy="3" dx="-0.6">DS</tspan><tspan dy="-2.6">~</tspan></text>
<text x="102.35" y="378.80" font-size="12" text-anchor="middle" fill="#000" textLength="30.7" lengthAdjust="spacingAndGlyphs">10 pA</text>
<text x="92.50" y="394.80" font-size="10.5" font-weight="bold" text-anchor="middle" fill="#000" >0</text>
<text x="114.90" y="394.80" font-size="10.5" font-weight="bold" text-anchor="middle" fill="#000" >5f</text>
<path d="M130.00,380.31 L130.50,379.84 L131.00,379.31 L131.50,378.71 L132.00,378.05 L132.50,377.31 L133.00,376.50 L133.50,375.60 L134.00,374.61 L134.50,373.54 L135.00,372.36 L135.50,371.09 L136.00,369.71 L136.50,368.22 L137.00,366.63 L137.50,364.93 L138.00,363.12 L138.50,361.20 L139.00,359.17 L139.50,357.04 L140.00,354.81 L140.50,352.49 L141.00,350.08 L141.50,347.59 L142.00,345.04 L142.50,342.43 L143.00,339.78 L143.50,337.10 L144.00,334.40 L144.50,331.71 L145.00,329.04 L145.50,326.40 L146.00,323.81 L146.50,321.30 L147.00,318.88 L147.50,316.57 L148.00,314.39 L148.50,312.36 L149.00,310.49 L149.50,308.80 L150.00,307.30 L150.50,306.01 L151.00,304.94 L151.50,304.10 L152.00,303.49 L152.50,303.12 L153.00,303.00 L153.50,303.12 L154.00,303.49 L154.50,304.10 L155.00,304.94 L155.50,306.01 L156.00,307.30 L156.50,308.80 L157.00,310.49 L157.50,312.36 L158.00,314.39 L158.50,316.57 L159.00,318.88 L159.50,321.30 L160.00,323.81 L160.50,326.40 L161.00,329.04 L161.50,331.71 L162.00,334.40 L162.50,337.10 L163.00,339.78 L163.50,342.43 L164.00,345.04 L164.50,347.59 L165.00,350.08 L165.50,352.49 L166.00,354.81 L166.50,357.04 L167.00,359.17 L167.50,361.20 L168.00,363.12 L168.50,364.93 L169.00,366.63 L169.50,368.22 L170.00,369.71 L170.50,371.09 L171.00,372.36 L171.50,373.54 L172.00,374.61 L172.50,375.60 L173.00,376.50 L173.50,377.31 L174.00,378.05 L174.50,378.71 L175.00,379.31 L175.50,379.84 L176.00,380.31 L176.50,380.74 L177.00,381.11 L177.50,381.44" stroke="#3c3cd6" stroke-width="1.1" fill="none"/>
<path d="M129.50 383.70h2 M129.50 367.40h2 M129.50 351.10h2 M129.50 334.80h2 M129.50 318.50h2 M129.50 302.20h2 M129.50 285.90h2 M139.26 383.70v-1.5 M149.02 383.70v-1.5 M158.78 383.70v-1.5 M168.54 383.70v-1.5" stroke="#999" stroke-width="0.7"/>
<rect x="129.50" y="278.60" width="48.80" height="105.10" fill="none" stroke="#b8b8b8" stroke-width="1" />
<text x="154.20" y="289.70" font-size="10.1" text-anchor="middle" fill="#000" >μ = 4.2 fA</text>
<text x="154.20" y="301.50" font-size="10.1" text-anchor="middle" fill="#000" >σ = 2.5 fA</text>
<text x="153.75" y="364.20" font-size="11.8" text-anchor="middle" fill="#000" ><tspan font-style="italic">I</tspan><tspan font-size="8" dy="3" dx="-0.6">DS</tspan><tspan dy="-2.6">~</tspan></text>
<text x="154.20" y="378.80" font-size="12" text-anchor="middle" fill="#000" textLength="38.0" lengthAdjust="spacingAndGlyphs">100 pA</text>
<text x="138.20" y="394.80" font-size="10.5" font-weight="bold" text-anchor="middle" fill="#000" >0</text>
<text x="167.90" y="394.80" font-size="10.5" font-weight="bold" text-anchor="middle" fill="#000" >8f</text>
<path d="M178.80,381.82 L179.30,381.52 L179.80,381.18 L180.30,380.78 L180.80,380.34 L181.30,379.83 L181.80,379.26 L182.30,378.61 L182.80,377.88 L183.30,377.07 L183.80,376.17 L184.30,375.17 L184.80,374.07 L185.30,372.86 L185.80,371.54 L186.30,370.10 L186.80,368.53 L187.30,366.85 L187.80,365.03 L188.30,363.10 L188.80,361.03 L189.30,358.85 L189.80,356.55 L190.30,354.13 L190.80,351.61 L191.30,349.00 L191.80,346.30 L192.30,343.54 L192.80,340.71 L193.30,337.85 L193.80,334.96 L194.30,332.08 L194.80,329.21 L195.30,326.38 L195.80,323.62 L196.30,320.94 L196.80,318.37 L197.30,315.93 L197.80,313.64 L198.30,311.53 L198.80,309.62 L199.30,307.92 L199.80,306.45 L200.30,305.22 L200.80,304.26 L201.30,303.56 L201.80,303.14 L202.30,303.00 L202.80,303.14 L203.30,303.56 L203.80,304.26 L204.30,305.22 L204.80,306.45 L205.30,307.92 L205.80,309.62 L206.30,311.53 L206.80,313.64 L207.30,315.93 L207.80,318.37 L208.30,320.94 L208.80,323.62 L209.30,326.38 L209.80,329.21 L210.30,332.08 L210.80,334.96 L211.30,337.85 L211.80,340.71 L212.30,343.54 L212.80,346.30 L213.30,349.00 L213.80,351.61 L214.30,354.13 L214.80,356.55 L215.30,358.85 L215.80,361.03 L216.30,363.10 L216.80,365.03 L217.30,366.85 L217.80,368.53 L218.30,370.10 L218.80,371.54 L219.30,372.86 L219.80,374.07 L220.30,375.17 L220.80,376.17 L221.30,377.07 L221.80,377.88 L222.30,378.61 L222.80,379.26 L223.30,379.83 L223.80,380.34 L224.30,380.78 L224.80,381.18 L225.30,381.52 L225.80,381.82 L226.30,382.07 L226.80,382.30 L227.30,382.49 L227.80,382.65" stroke="#34b4f2" stroke-width="1.1" fill="none"/>
<path d="M178.30 383.70h2 M178.30 367.40h2 M178.30 351.10h2 M178.30 334.80h2 M178.30 318.50h2 M178.30 302.20h2 M178.30 285.90h2 M188.34 383.70v-1.5 M198.38 383.70v-1.5 M208.42 383.70v-1.5 M218.46 383.70v-1.5" stroke="#999" stroke-width="0.7"/>
<rect x="178.30" y="278.60" width="50.20" height="105.10" fill="none" stroke="#b8b8b8" stroke-width="1" />
<text x="203.70" y="289.70" font-size="10.1" text-anchor="middle" fill="#000" >μ = 38 fA</text>
<text x="203.70" y="301.50" font-size="10.1" text-anchor="middle" fill="#000" >σ = 37 fA</text>
<text x="202.30" y="364.20" font-size="11.8" text-anchor="middle" fill="#000" ><tspan font-style="italic">I</tspan><tspan font-size="8" dy="3" dx="-0.6">DS</tspan><tspan dy="-2.6">~</tspan></text>
<text x="202.70" y="378.80" font-size="12" text-anchor="middle" fill="#000" textLength="24.2" lengthAdjust="spacingAndGlyphs">1 nA</text>
<text x="194.30" y="394.80" font-size="10.5" font-weight="bold" text-anchor="middle" fill="#000" >0</text>
<text x="213.00" y="394.80" font-size="10.5" font-weight="bold" text-anchor="middle" fill="#000" >90f</text>
<path d="M229.00,380.89 L229.50,380.46 L230.00,379.96 L230.50,379.40 L231.00,378.77 L231.50,378.06 L232.00,377.27 L232.50,376.38 L233.00,375.40 L233.50,374.31 L234.00,373.12 L234.50,371.81 L235.00,370.38 L235.50,368.83 L236.00,367.16 L236.50,365.36 L237.00,363.43 L237.50,361.37 L238.00,359.19 L238.50,356.90 L239.00,354.48 L239.50,351.96 L240.00,349.35 L240.50,346.64 L241.00,343.87 L241.50,341.03 L242.00,338.16 L242.50,335.26 L243.00,332.35 L243.50,329.46 L244.00,326.61 L244.50,323.83 L245.00,321.13 L245.50,318.53 L246.00,316.07 L246.50,313.76 L247.00,311.63 L247.50,309.69 L248.00,307.97 L248.50,306.49 L249.00,305.25 L249.50,304.27 L250.00,303.57 L250.50,303.14 L251.00,303.00 L251.50,303.14 L252.00,303.57 L252.50,304.27 L253.00,305.25 L253.50,306.49 L254.00,307.97 L254.50,309.69 L255.00,311.63 L255.50,313.76 L256.00,316.07 L256.50,318.53 L257.00,321.13 L257.50,323.83 L258.00,326.61 L258.50,329.46 L259.00,332.35 L259.50,335.26 L260.00,338.16 L260.50,341.03 L261.00,343.87 L261.50,346.64 L262.00,349.35 L262.50,351.96 L263.00,354.48 L263.50,356.90 L264.00,359.19 L264.50,361.37 L265.00,363.43 L265.50,365.36 L266.00,367.16 L266.50,368.83 L267.00,370.38 L267.50,371.81 L268.00,373.12 L268.50,374.31 L269.00,375.40 L269.50,376.38 L270.00,377.27 L270.50,378.06 L271.00,378.77 L271.50,379.40 L272.00,379.96 L272.50,380.46 L273.00,380.89 L273.50,381.27 L274.00,381.60 L274.50,381.89 L275.00,382.14 L275.50,382.36 L276.00,382.54 L276.50,382.70" stroke="#44d8ac" stroke-width="1.1" fill="none"/>
<path d="M228.50 383.70h2 M228.50 367.40h2 M228.50 351.10h2 M228.50 334.80h2 M228.50 318.50h2 M228.50 302.20h2 M228.50 285.90h2 M238.26 383.70v-1.5 M248.02 383.70v-1.5 M257.78 383.70v-1.5 M267.54 383.70v-1.5" stroke="#999" stroke-width="0.7"/>
<rect x="228.50" y="278.60" width="48.80" height="105.10" fill="none" stroke="#b8b8b8" stroke-width="1" />
<text x="253.20" y="289.70" font-size="10.1" text-anchor="middle" fill="#000" >μ = 0.3 pA</text>
<text x="253.20" y="301.50" font-size="10.1" text-anchor="middle" fill="#000" >σ = 0.3 pA</text>
<text x="251.35" y="364.20" font-size="11.8" text-anchor="middle" fill="#000" ><tspan font-style="italic">I</tspan><tspan font-size="8" dy="3" dx="-0.6">DS</tspan><tspan dy="-2.6">~</tspan></text>
<text x="251.50" y="378.80" font-size="12" text-anchor="middle" fill="#000" textLength="31.2" lengthAdjust="spacingAndGlyphs">10 nA</text>
<text x="243.40" y="394.80" font-size="10.5" font-weight="bold" text-anchor="middle" fill="#000" >0</text>
<text x="263.70" y="394.80" font-size="10.5" font-weight="bold" text-anchor="middle" fill="#000" >900f</text>
<path d="M277.80,382.69 L278.30,382.52 L278.80,382.31 L279.30,382.08 L279.80,381.80 L280.30,381.47 L280.80,381.09 L281.30,380.66 L281.80,380.16 L282.30,379.58 L282.80,378.93 L283.30,378.18 L283.80,377.34 L284.30,376.40 L284.80,375.35 L285.30,374.18 L285.80,372.88 L286.30,371.45 L286.80,369.89 L287.30,368.18 L287.80,366.33 L288.30,364.34 L288.80,362.20 L289.30,359.91 L289.80,357.49 L290.30,354.93 L290.80,352.26 L291.30,349.46 L291.80,346.57 L292.30,343.60 L292.80,340.56 L293.30,337.47 L293.80,334.36 L294.30,331.26 L294.80,328.18 L295.30,325.16 L295.80,322.23 L296.30,319.41 L296.80,316.73 L297.30,314.21 L297.80,311.90 L298.30,309.81 L298.80,307.96 L299.30,306.38 L299.80,305.09 L300.30,304.10 L300.80,303.42 L301.30,303.06 L301.80,303.03 L302.30,303.32 L302.80,303.94 L303.30,304.87 L303.80,306.10 L304.30,307.62 L304.80,309.42 L305.30,311.46 L305.80,313.74 L306.30,316.21 L306.80,318.86 L307.30,321.65 L307.80,324.57 L308.30,327.57 L308.80,330.64 L309.30,333.74 L309.80,336.85 L310.30,339.94 L310.80,342.99 L311.30,345.98 L311.80,348.89 L312.30,351.71 L312.80,354.41 L313.30,356.99 L313.80,359.44 L314.30,361.75 L314.80,363.92 L315.30,365.94 L315.80,367.82 L316.30,369.56 L316.80,371.15 L317.30,372.61 L317.80,373.93 L318.30,375.12 L318.80,376.20 L319.30,377.16 L319.80,378.02 L320.30,378.78 L320.80,379.46 L321.30,380.05 L321.80,380.56 L322.30,381.01 L322.80,381.40 L323.30,381.74 L323.80,382.02 L324.30,382.27 L324.80,382.48 L325.30,382.66 L325.80,382.80" stroke="#f2e070" stroke-width="1.1" fill="none"/>
<path d="M277.30 383.70h2 M277.30 367.40h2 M277.30 351.10h2 M277.30 334.80h2 M277.30 318.50h2 M277.30 302.20h2 M277.30 285.90h2 M287.16 383.70v-1.5 M297.02 383.70v-1.5 M306.88 383.70v-1.5 M316.74 383.70v-1.5" stroke="#999" stroke-width="0.7"/>
<rect x="277.30" y="278.60" width="49.30" height="105.10" fill="none" stroke="#b8b8b8" stroke-width="1" />
<text x="302.25" y="289.70" font-size="10.1" text-anchor="middle" fill="#000" >μ = 1.8 pA</text>
<text x="302.25" y="301.50" font-size="10.1" text-anchor="middle" fill="#000" >σ = 1.3 pA</text>
<text x="303.05" y="364.20" font-size="11.8" text-anchor="middle" fill="#000" ><tspan font-style="italic">I</tspan><tspan font-size="8" dy="3" dx="-0.6">DS</tspan><tspan dy="-2.6">~</tspan></text>
<text x="303.45" y="378.80" font-size="12" text-anchor="middle" fill="#000" textLength="37.3" lengthAdjust="spacingAndGlyphs">100 nA</text>
<text x="295.60" y="394.80" font-size="10.5" font-weight="bold" text-anchor="middle" fill="#000" >0</text>
<text x="321.60" y="394.80" font-size="10.5" font-weight="bold" text-anchor="middle" fill="#000" >6p</text>
<path d="M328.50,379.61 L329.00,379.08 L329.50,378.50 L330.00,377.86 L330.50,377.15 L331.00,376.37 L331.50,375.52 L332.00,374.60 L332.50,373.59 L333.00,372.49 L333.50,371.31 L334.00,370.04 L334.50,368.67 L335.00,367.21 L335.50,365.65 L336.00,364.00 L336.50,362.25 L337.00,360.41 L337.50,358.47 L338.00,356.44 L338.50,354.33 L339.00,352.14 L339.50,349.87 L340.00,347.54 L340.50,345.14 L341.00,342.70 L341.50,340.22 L342.00,337.71 L342.50,335.18 L343.00,332.65 L343.50,330.13 L344.00,327.64 L344.50,325.19 L345.00,322.79 L345.50,320.47 L346.00,318.23 L346.50,316.09 L347.00,314.07 L347.50,312.18 L348.00,310.44 L348.50,308.85 L349.00,307.44 L349.50,306.20 L350.00,305.16 L350.50,304.31 L351.00,303.67 L351.50,303.24 L352.00,303.03 L352.50,303.03 L353.00,303.24 L353.50,303.67 L354.00,304.31 L354.50,305.16 L355.00,306.20 L355.50,307.44 L356.00,308.85 L356.50,310.44 L357.00,312.18 L357.50,314.07 L358.00,316.09 L358.50,318.23 L359.00,320.47 L359.50,322.79 L360.00,325.19 L360.50,327.64 L361.00,330.13 L361.50,332.65 L362.00,335.18 L362.50,337.71 L363.00,340.22 L363.50,342.70 L364.00,345.14 L364.50,347.54 L365.00,349.87 L365.50,352.14 L366.00,354.33 L366.50,356.44 L367.00,358.47 L367.50,360.41 L368.00,362.25 L368.50,364.00 L369.00,365.65 L369.50,367.21 L370.00,368.67 L370.50,370.04 L371.00,371.31 L371.50,372.49 L372.00,373.59 L372.50,374.60 L373.00,375.52 L373.50,376.37 L374.00,377.15 L374.50,377.86 L375.00,378.50 L375.50,379.08 L376.00,379.61" stroke="#f5a868" stroke-width="1.1" fill="none"/>
<path d="M328.00 383.70h2 M328.00 367.40h2 M328.00 351.10h2 M328.00 334.80h2 M328.00 318.50h2 M328.00 302.20h2 M328.00 285.90h2 M337.70 383.70v-1.5 M347.40 383.70v-1.5 M357.10 383.70v-1.5 M366.80 383.70v-1.5" stroke="#999" stroke-width="0.7"/>
<rect x="328.00" y="278.60" width="48.50" height="105.10" fill="none" stroke="#b8b8b8" stroke-width="1" />
<text x="352.55" y="289.70" font-size="10.1" text-anchor="middle" fill="#000" >μ = 5.8 pA</text>
<text x="352.55" y="301.50" font-size="10.1" text-anchor="middle" fill="#000" >σ = 5.2 pA</text>
<text x="354.15" y="364.20" font-size="11.8" text-anchor="middle" fill="#000" ><tspan font-style="italic">I</tspan><tspan font-size="8" dy="3" dx="-0.6">DS</tspan><tspan dy="-2.6">~</tspan></text>
<text x="354.80" y="378.80" font-size="12" text-anchor="middle" fill="#000" textLength="24.6" lengthAdjust="spacingAndGlyphs">1 μA</text>
<text x="340.70" y="394.80" font-size="10.5" font-weight="bold" text-anchor="middle" fill="#000" >0</text>
<text x="360.60" y="394.80" font-size="10.5" font-weight="bold" text-anchor="middle" fill="#000" >12p</text>
<path d="M379.00,379.43 L379.50,378.89 L380.00,378.29 L380.50,377.63 L381.00,376.91 L381.50,376.11 L382.00,375.24 L382.50,374.29 L383.00,373.26 L383.50,372.15 L384.00,370.95 L384.50,369.65 L385.00,368.27 L385.50,366.79 L386.00,365.21 L386.50,363.54 L387.00,361.78 L387.50,359.92 L388.00,357.97 L388.50,355.93 L389.00,353.81 L389.50,351.61 L390.00,349.34 L390.50,347.00 L391.00,344.61 L391.50,342.17 L392.00,339.69 L392.50,337.19 L393.00,334.67 L393.50,332.16 L394.00,329.66 L394.50,327.19 L395.00,324.76 L395.50,322.38 L396.00,320.08 L396.50,317.87 L397.00,315.76 L397.50,313.77 L398.00,311.92 L398.50,310.20 L399.00,308.65 L399.50,307.26 L400.00,306.06 L400.50,305.04 L401.00,304.23 L401.50,303.61 L402.00,303.21 L402.50,303.02 L403.00,303.04 L403.50,303.27 L404.00,303.72 L404.50,304.37 L405.00,305.23 L405.50,306.28 L406.00,307.53 L406.50,308.95 L407.00,310.53 L407.50,312.28 L408.00,314.16 L408.50,316.18 L409.00,318.31 L409.50,320.54 L410.00,322.85 L410.50,325.24 L411.00,327.68 L411.50,330.16 L412.00,332.66 L412.50,335.18 L413.00,337.69 L413.50,340.19 L414.00,342.66 L414.50,345.09 L415.00,347.47 L415.50,349.80 L416.00,352.05 L416.50,354.24 L417.00,356.34 L417.50,358.36 L418.00,360.30 L418.50,362.14 L419.00,363.88 L419.50,365.54 L420.00,367.09 L420.50,368.55 L421.00,369.92 L421.50,371.19 L422.00,372.38 L422.50,373.48 L423.00,374.49 L423.50,375.42 L424.00,376.28 L424.50,377.06 L425.00,377.77 L425.50,378.42 L426.00,379.00" stroke="#f040a0" stroke-width="1.1" fill="none"/>
<path d="M378.50 383.70h2 M378.50 367.40h2 M378.50 351.10h2 M378.50 334.80h2 M378.50 318.50h2 M378.50 302.20h2 M378.50 285.90h2 M388.10 383.70v-1.5 M397.70 383.70v-1.5 M407.30 383.70v-1.5 M416.90 383.70v-1.5" stroke="#999" stroke-width="0.7"/>
<rect x="378.50" y="278.60" width="48.00" height="105.10" fill="none" stroke="#b8b8b8" stroke-width="1" />
<text x="402.80" y="289.70" font-size="10.1" text-anchor="middle" fill="#000" >μ = 70 pA</text>
<text x="402.80" y="301.50" font-size="10.1" text-anchor="middle" fill="#000" >σ = 53 pA</text>
<text x="403.80" y="364.20" font-size="11.8" text-anchor="middle" fill="#000" ><tspan font-style="italic">I</tspan><tspan font-size="8" dy="3" dx="-0.6">DS</tspan><tspan dy="-2.6">~</tspan></text>
<text x="403.95" y="378.80" font-size="12" text-anchor="middle" fill="#000" textLength="29.5" lengthAdjust="spacingAndGlyphs">10 μA</text>
<text x="389.10" y="394.80" font-size="10.5" font-weight="bold" text-anchor="middle" fill="#000" >0</text>
<text x="417.60" y="394.80" font-size="10.5" font-weight="bold" text-anchor="middle" fill="#000" >150p</text>
<text x="28.00" y="387.90" font-size="11.6" font-weight="bold" text-anchor="end" fill="#000" >0</text>
<text x="28.00" y="371.60" font-size="11.6" font-weight="bold" text-anchor="end" fill="#000" >1</text>
<text x="28.00" y="355.30" font-size="11.6" font-weight="bold" text-anchor="end" fill="#000" >2</text>
<text x="28.00" y="339.00" font-size="11.6" font-weight="bold" text-anchor="end" fill="#000" >3</text>
<text x="28.00" y="322.70" font-size="11.6" font-weight="bold" text-anchor="end" fill="#000" >4</text>
<text x="28.00" y="306.40" font-size="11.6" font-weight="bold" text-anchor="end" fill="#000" >5</text>
<text x="28.00" y="290.10" font-size="11.6" font-weight="bold" text-anchor="end" fill="#000" >6</text>
<text transform="translate(16.9,332) rotate(-90)" font-size="10.8" font-weight="bold" text-anchor="middle">Count</text>
<text x="240.80" y="412.20" font-size="11.5" font-weight="bold" text-anchor="middle" fill="#000" ><tspan font-style="italic">I</tspan><tspan font-size="8" dy="2.7">DS mean1</tspan><tspan dy="-2.7"> - </tspan><tspan font-style="italic">I</tspan><tspan font-size="8" dy="2.7">DS mean2</tspan><tspan dy="-2.7"> (A)</tspan></text>
<text x="453.50" y="246.20" font-size="16" font-weight="bold" text-anchor="start" fill="#000" >e</text>
<path d="M495.3 296.93 L673.1 372.85 L673.1 380.00 L495.3 305.33 Z" fill="#fcebc4"/>
<path d="M495.6 278.1h1.4M495.5 279.2h1.4M495.7 280.3h1.4M495.5 281.5h1.4M496.1 282.7h1.4M495.6 284.1h1.4M496.0 285.3h1.4M495.8 286.6h1.4M495.6 287.8h1.4M495.5 289.1h1.4M496.0 290.1h1.4M495.5 291.9h1.4M495.9 293.1h1.4M495.7 294.4h1.4M495.7 295.5h1.4M495.7 296.3h1.4M496.8 277.9h1.4M497.2 279.3h1.4M497.0 280.7h1.4M497.2 282.1h1.4M496.8 283.3h1.4M497.1 284.3h1.4M496.9 285.5h1.4M496.8 287.1h1.4M496.9 288.0h1.4M496.9 290.8h1.4M497.3 291.6h1.4M497.2 293.3h1.4M496.9 295.4h1.4M497.3 296.9h1.4M498.3 278.2h1.4M498.5 279.9h1.4M498.1 281.0h1.4M498.0 282.3h1.4M498.5 283.3h1.4M498.3 284.4h1.4M498.3 285.9h1.4M498.1 287.1h1.4M498.3 288.1h1.4M498.3 289.8h1.4M498.3 291.0h1.4M498.1 293.6h1.4M498.0 296.1h1.4M498.5 297.1h1.4M499.6 273.5h1.4M499.4 278.5h1.4M499.3 279.7h1.4M499.5 281.0h1.4M499.6 282.0h1.4M499.7 283.5h1.4M499.6 284.7h1.4M499.3 286.3h1.4M499.7 288.4h1.4M499.8 291.3h1.4M499.7 292.5h1.4M499.5 293.7h1.4M499.8 294.7h1.4M499.3 296.0h1.4M499.4 298.5h1.4M499.4 300.8h1.4M500.9 278.6h1.4M500.5 279.8h1.4M500.8 281.3h1.4M500.6 282.3h1.4M500.5 283.5h1.4M500.6 284.9h1.4M500.9 286.3h1.4M500.9 287.5h1.4M501.1 288.6h1.4M500.6 290.1h1.4M501.0 291.2h1.4M500.5 292.6h1.4M500.7 293.8h1.4M501.1 295.1h1.4M501.0 296.0h1.4M500.7 297.3h1.4M501.0 298.5h1.4M502.3 279.9h1.4M501.9 281.6h1.4M502.2 282.6h1.4M501.9 283.8h1.4M502.1 285.3h1.4M502.3 286.5h1.4M502.2 287.9h1.4M502.2 289.0h1.4M501.9 290.3h1.4M502.3 291.3h1.4M501.8 293.0h1.4M501.8 293.7h1.4M502.2 295.3h1.4M502.2 296.2h1.4M502.0 297.9h1.4M503.2 276.6h1.4M503.4 279.2h1.4M503.5 280.2h1.4M503.1 281.4h1.4M503.5 283.2h1.4M503.3 284.2h1.4M503.1 285.4h1.4M503.5 286.5h1.4M503.2 287.8h1.4M503.3 289.0h1.4M503.0 290.6h1.4M503.5 291.8h1.4M503.2 292.9h1.4M503.1 294.4h1.4M503.1 295.3h1.4M503.2 298.2h1.4M503.3 299.2h1.4M504.4 279.5h1.4M504.4 280.6h1.4M504.5 282.1h1.4M504.6 283.2h1.4M504.3 284.5h1.4M504.7 285.9h1.4M504.6 287.1h1.4M504.4 288.3h1.4M504.7 289.5h1.4M504.7 290.7h1.4M504.4 292.0h1.4M504.5 293.3h1.4M504.6 294.3h1.4M504.5 295.7h1.4M504.7 297.2h1.4M504.6 298.3h1.4M505.8 272.1h1.4M505.6 281.1h1.4M505.6 281.9h1.4M506.0 283.4h1.4M505.8 284.5h1.4M505.7 286.0h1.4M506.0 287.1h1.4M505.8 288.1h1.4M505.7 289.8h1.4M505.7 290.7h1.4M505.6 291.8h1.4M505.7 293.2h1.4M505.8 294.6h1.4M505.9 295.8h1.4M506.0 299.9h1.4M507.0 274.6h1.4M507.3 281.1h1.4M507.1 282.5h1.4M507.0 283.9h1.4M507.1 284.9h1.4M507.1 286.2h1.4M506.9 287.6h1.4M507.0 288.8h1.4M507.2 289.9h1.4M507.3 291.0h1.4M507.1 292.5h1.4M507.0 293.5h1.4M507.2 294.7h1.4M507.0 296.1h1.4M507.1 297.6h1.4M507.2 298.5h1.4M506.9 299.9h1.4M508.2 279.9h1.4M508.2 281.3h1.4M508.6 282.3h1.4M508.0 283.6h1.4M508.3 285.3h1.4M508.0 286.2h1.4M508.6 287.8h1.4M508.2 288.6h1.4M508.1 289.8h1.4M508.0 291.4h1.4M508.6 292.3h1.4M508.1 293.5h1.4M508.1 295.2h1.4M508.0 296.5h1.4M508.5 297.7h1.4M508.4 298.9h1.4M509.5 280.5h1.4M509.7 281.6h1.4M509.7 282.6h1.4M509.4 284.0h1.4M509.7 285.5h1.4M509.7 286.7h1.4M509.6 287.6h1.4M509.7 289.1h1.4M509.5 290.0h1.4M509.7 291.3h1.4M509.8 292.6h1.4M509.7 294.0h1.4M509.4 295.4h1.4M509.5 296.3h1.4M509.7 297.6h1.4M509.8 299.2h1.4M510.6 274.0h1.4M510.8 277.0h1.4M510.9 281.7h1.4M511.1 282.8h1.4M510.9 284.5h1.4M510.7 285.5h1.4M511.1 287.0h1.4M510.5 287.8h1.4M511.0 289.5h1.4M510.5 290.7h1.4M510.9 292.0h1.4M510.6 293.1h1.4M510.9 294.1h1.4M511.0 295.2h1.4M510.7 296.5h1.4M510.6 297.8h1.4M510.9 298.9h1.4M511.1 302.8h1.4M512.3 277.1h1.4M511.9 280.5h1.4M512.3 282.2h1.4M511.9 284.7h1.4M512.2 285.6h1.4M512.2 288.1h1.4M511.8 289.7h1.4M511.9 290.7h1.4M511.9 292.0h1.4M511.9 293.4h1.4M511.9 294.2h1.4M512.1 295.7h1.4M511.9 297.0h1.4M512.2 298.3h1.4M511.8 299.6h1.4M512.2 300.4h1.4M513.1 281.0h1.4M513.0 282.2h1.4M513.3 283.5h1.4M513.5 284.8h1.4M513.1 285.9h1.4M513.2 286.9h1.4M513.1 288.5h1.4M513.1 289.7h1.4M513.1 291.1h1.4M513.2 292.1h1.4M513.3 293.4h1.4M513.5 294.6h1.4M513.2 295.9h1.4M513.5 298.6h1.4M513.0 299.7h1.4M514.6 280.9h1.4M514.3 282.3h1.4M514.4 283.5h1.4M514.6 285.1h1.4M514.6 286.2h1.4M514.7 287.4h1.4M514.6 288.6h1.4M514.4 289.7h1.4M514.5 291.2h1.4M514.5 292.6h1.4M514.6 293.6h1.4M514.8 294.8h1.4M514.3 295.9h1.4M514.5 297.1h1.4M514.5 298.8h1.4M514.4 300.2h1.4M514.3 301.0h1.4M516.0 281.3h1.4M515.6 282.5h1.4M515.8 283.9h1.4M516.1 285.0h1.4M516.0 286.6h1.4M515.8 287.8h1.4M515.5 288.9h1.4M516.1 290.3h1.4M516.1 291.4h1.4M515.9 292.5h1.4M515.9 293.8h1.4M515.9 295.1h1.4M515.7 296.3h1.4M515.8 297.8h1.4M515.8 300.2h1.4M516.9 275.5h1.4M516.9 281.7h1.4M517.3 282.9h1.4M516.8 283.9h1.4M516.8 285.1h1.4M517.1 286.8h1.4M517.2 287.6h1.4M517.2 289.0h1.4M517.0 290.1h1.4M516.8 291.8h1.4M517.0 292.8h1.4M516.8 294.3h1.4M517.3 295.3h1.4M516.9 296.3h1.4M517.3 297.7h1.4M517.2 298.9h1.4M517.3 300.3h1.4M517.0 302.9h1.4M518.2 282.1h1.4M518.6 283.0h1.4M518.3 284.1h1.4M518.2 285.8h1.4M518.2 286.6h1.4M518.1 288.3h1.4M518.3 289.3h1.4M518.5 290.5h1.4M518.3 291.7h1.4M518.1 292.8h1.4M518.2 294.4h1.4M518.3 295.4h1.4M518.2 296.5h1.4M518.1 297.8h1.4M518.2 299.2h1.4M518.5 302.0h1.4M518.2 302.8h1.4M519.8 277.2h1.4M519.8 279.6h1.4M519.4 280.5h1.4M519.4 282.2h1.4M519.3 283.4h1.4M519.7 284.7h1.4M519.3 286.0h1.4M519.8 287.1h1.4M519.7 288.3h1.4M519.3 289.6h1.4M519.6 291.0h1.4M519.7 291.7h1.4M519.7 293.1h1.4M519.8 294.6h1.4M519.4 295.5h1.4M519.5 296.8h1.4M519.3 298.4h1.4M519.4 299.3h1.4M519.5 301.0h1.4M519.4 302.2h1.4M519.6 303.1h1.4M521.1 273.6h1.4M520.5 281.1h1.4M520.7 282.0h1.4M521.0 283.7h1.4M521.0 284.9h1.4M520.7 285.8h1.4M520.7 287.1h1.4M520.7 288.7h1.4M520.5 289.8h1.4M521.0 291.1h1.4M521.1 292.2h1.4M520.6 293.3h1.4M520.5 294.8h1.4M520.8 296.2h1.4M520.5 297.2h1.4M520.9 298.2h1.4M521.0 299.9h1.4M520.7 301.1h1.4M520.8 302.1h1.4M521.9 276.3h1.4M522.1 278.7h1.4M522.1 282.4h1.4M521.9 284.0h1.4M521.8 285.2h1.4M521.8 286.3h1.4M522.0 287.5h1.4M522.1 288.5h1.4M522.1 289.7h1.4M521.8 291.2h1.4M522.1 292.6h1.4M521.8 294.0h1.4M521.8 295.2h1.4M521.9 296.5h1.4M522.2 297.3h1.4M521.8 298.6h1.4M521.8 300.0h1.4M521.9 301.4h1.4M522.3 302.6h1.4M523.5 281.6h1.4M523.5 283.1h1.4M523.2 283.8h1.4M523.5 285.5h1.4M523.1 286.7h1.4M523.2 287.8h1.4M523.5 289.0h1.4M523.4 290.0h1.4M523.1 291.8h1.4M523.0 292.6h1.4M523.3 294.1h1.4M523.2 295.0h1.4M523.2 296.2h1.4M523.6 297.5h1.4M523.4 298.9h1.4M523.3 300.1h1.4M523.3 301.8h1.4M523.3 304.2h1.4M524.8 274.3h1.4M524.4 280.5h1.4M524.8 283.0h1.4M524.3 285.4h1.4M524.8 286.7h1.4M524.5 288.3h1.4M524.5 289.6h1.4M524.4 290.3h1.4M524.4 291.9h1.4M524.5 292.9h1.4M524.8 294.4h1.4M524.7 295.8h1.4M524.3 297.0h1.4M524.5 297.9h1.4M524.6 299.5h1.4M524.8 300.4h1.4M524.7 301.9h1.4M524.7 303.0h1.4M524.5 304.0h1.4M525.5 280.8h1.4M525.7 283.7h1.4M526.0 284.4h1.4M525.6 285.6h1.4M525.8 286.9h1.4M525.7 288.1h1.4M525.9 289.9h1.4M525.5 291.0h1.4M526.1 292.1h1.4M525.7 293.5h1.4M525.7 294.8h1.4M525.9 295.6h1.4M525.7 297.3h1.4M525.8 298.3h1.4M526.1 299.7h1.4M525.7 300.7h1.4M525.6 301.9h1.4M525.9 303.2h1.4M527.3 274.7h1.4M527.0 281.4h1.4M526.9 286.3h1.4M526.8 287.4h1.4M527.0 288.4h1.4M527.3 289.8h1.4M526.8 291.1h1.4M527.0 292.2h1.4M526.8 293.8h1.4M526.8 294.8h1.4M527.3 296.1h1.4M527.3 297.6h1.4M526.9 298.5h1.4M526.8 299.6h1.4M527.0 301.2h1.4M526.8 302.5h1.4M527.1 303.7h1.4M528.4 276.6h1.4M528.2 284.1h1.4M528.3 285.3h1.4M528.2 286.5h1.4M528.1 287.8h1.4M528.5 288.9h1.4M528.3 290.2h1.4M528.1 291.7h1.4M528.3 292.7h1.4M528.1 293.7h1.4M528.3 295.3h1.4M528.5 296.7h1.4M528.2 297.9h1.4M528.1 298.7h1.4M528.1 300.1h1.4M528.3 301.4h1.4M528.2 303.0h1.4M528.3 303.9h1.4M529.4 284.0h1.4M529.5 285.5h1.4M529.8 286.9h1.4M529.6 288.0h1.4M529.8 289.2h1.4M529.8 290.4h1.4M529.6 291.9h1.4M529.7 292.9h1.4M529.7 294.3h1.4M529.7 295.2h1.4M529.3 296.9h1.4M529.3 298.1h1.4M529.3 299.3h1.4M529.5 300.2h1.4M529.5 301.8h1.4M529.8 304.0h1.4M529.6 305.2h1.4M530.9 284.5h1.4M531.0 286.7h1.4M530.9 288.0h1.4M530.5 289.6h1.4M531.1 290.8h1.4M530.8 292.1h1.4M530.7 293.1h1.4M530.6 294.8h1.4M530.6 295.5h1.4M531.1 297.0h1.4M530.7 298.5h1.4M530.6 299.2h1.4M530.5 301.0h1.4M530.6 302.1h1.4M530.8 303.1h1.4M531.0 305.6h1.4M532.1 285.1h1.4M532.3 286.1h1.4M531.9 287.3h1.4M532.2 288.4h1.4M531.9 289.5h1.4M531.8 291.1h1.4M532.1 292.3h1.4M532.1 293.3h1.4M531.8 294.8h1.4M532.0 296.1h1.4M531.9 297.6h1.4M532.3 298.8h1.4M531.8 299.6h1.4M531.8 301.0h1.4M531.8 302.3h1.4M532.1 303.6h1.4M531.9 304.7h1.4M531.8 305.9h1.4M533.6 276.3h1.4M533.2 283.6h1.4M533.1 285.0h1.4M533.3 288.8h1.4M533.5 290.2h1.4M533.1 291.4h1.4M533.5 292.3h1.4M533.2 293.6h1.4M533.4 295.2h1.4M533.5 296.6h1.4M533.4 297.8h1.4M533.4 298.8h1.4M533.5 300.3h1.4M533.6 301.4h1.4M533.6 304.0h1.4M533.5 304.9h1.4M533.3 306.2h1.4M534.7 283.9h1.4M534.8 285.3h1.4M534.8 286.7h1.4M534.5 287.9h1.4M534.8 290.2h1.4M534.3 291.6h1.4M534.4 293.1h1.4M534.7 294.0h1.4M534.3 295.4h1.4M534.6 296.6h1.4M534.8 298.0h1.4M534.6 299.1h1.4M534.6 301.7h1.4M534.6 303.0h1.4M534.5 305.7h1.4M534.8 306.7h1.4M535.9 284.2h1.4M535.5 285.5h1.4M536.1 287.2h1.4M535.7 288.4h1.4M535.7 289.4h1.4M535.7 290.6h1.4M536.1 291.8h1.4M536.0 293.1h1.4M535.9 294.6h1.4M535.6 295.8h1.4M535.8 297.0h1.4M535.7 298.1h1.4M535.8 299.3h1.4M535.7 300.8h1.4M536.0 302.0h1.4M536.1 303.0h1.4M535.5 304.4h1.4M535.9 305.6h1.4M535.7 308.3h1.4M537.1 286.2h1.4M537.2 287.3h1.4M536.9 288.2h1.4M537.2 289.6h1.4M536.9 290.7h1.4M537.3 292.4h1.4M537.2 293.2h1.4M536.9 294.4h1.4M536.8 295.8h1.4M537.0 297.2h1.4M536.8 298.7h1.4M536.9 299.8h1.4M536.9 301.0h1.4M537.2 302.0h1.4M537.2 303.5h1.4M537.2 304.4h1.4M537.0 305.7h1.4M538.4 286.0h1.4M538.0 287.7h1.4M538.4 288.6h1.4M538.1 290.1h1.4M538.0 292.3h1.4M538.5 293.9h1.4M538.1 294.8h1.4M538.5 296.2h1.4M538.5 298.7h1.4M538.1 299.8h1.4M538.3 301.1h1.4M538.0 302.7h1.4M538.6 304.0h1.4M538.4 304.9h1.4M538.5 306.0h1.4M538.1 307.5h1.4M538.5 310.2h1.4M539.4 284.3h1.4M539.7 286.7h1.4M539.7 287.5h1.4M539.8 289.2h1.4M539.3 290.1h1.4M539.4 291.6h1.4M539.6 293.0h1.4M539.3 293.7h1.4M539.3 295.6h1.4M539.4 296.7h1.4M539.6 297.5h1.4M539.8 299.3h1.4M539.8 300.3h1.4M539.6 301.6h1.4M539.7 302.5h1.4M539.6 303.9h1.4M539.3 305.4h1.4M539.7 306.7h1.4M539.6 308.9h1.4M540.9 286.7h1.4M540.7 288.0h1.4M540.8 289.6h1.4M541.1 290.7h1.4M541.1 292.0h1.4M540.6 293.0h1.4M540.6 294.6h1.4M540.7 295.7h1.4M541.0 297.0h1.4M540.6 298.3h1.4M540.9 299.2h1.4M541.1 300.4h1.4M540.9 301.8h1.4M540.7 303.3h1.4M541.1 304.1h1.4M540.7 305.8h1.4M540.7 306.9h1.4M542.2 285.7h1.4M542.2 288.2h1.4M541.9 289.9h1.4M542.1 290.9h1.4M541.9 291.9h1.4M542.3 293.3h1.4M542.1 294.4h1.4M541.8 296.1h1.4M542.3 297.0h1.4M541.8 298.5h1.4M542.0 299.6h1.4M541.9 301.0h1.4M542.0 302.3h1.4M541.9 303.2h1.4M542.0 304.7h1.4M542.3 305.6h1.4M542.3 306.9h1.4M542.0 308.1h1.4M543.1 287.7h1.4M543.1 288.4h1.4M543.3 289.6h1.4M543.4 291.2h1.4M543.3 292.5h1.4M543.1 293.8h1.4M543.4 295.1h1.4M543.5 296.0h1.4M543.4 297.6h1.4M543.1 298.4h1.4M543.1 299.7h1.4M543.3 301.4h1.4M543.4 302.1h1.4M543.3 304.9h1.4M543.6 307.5h1.4M543.5 308.5h1.4M544.4 283.8h1.4M544.6 287.9h1.4M544.6 288.9h1.4M544.4 290.3h1.4M544.7 291.7h1.4M544.3 294.2h1.4M544.4 295.3h1.4M544.4 296.4h1.4M544.7 297.4h1.4M544.6 298.9h1.4M544.7 299.9h1.4M544.7 301.6h1.4M544.4 303.0h1.4M544.4 303.9h1.4M544.5 306.7h1.4M544.7 308.9h1.4M545.8 283.1h1.4M545.5 285.3h1.4M545.6 287.8h1.4M546.1 288.9h1.4M546.1 290.8h1.4M545.7 291.7h1.4M545.8 293.0h1.4M545.5 294.0h1.4M545.6 295.5h1.4M545.7 296.9h1.4M545.7 298.0h1.4M546.1 299.3h1.4M545.6 300.6h1.4M545.9 301.6h1.4M546.0 302.7h1.4M545.6 304.3h1.4M546.0 305.3h1.4M545.9 306.8h1.4M545.6 308.0h1.4M545.9 309.1h1.4M547.1 285.8h1.4M547.1 288.4h1.4M546.8 289.4h1.4M546.9 290.9h1.4M546.9 292.0h1.4M547.2 293.2h1.4M547.3 294.8h1.4M546.8 295.7h1.4M546.9 296.7h1.4M546.8 299.5h1.4M546.9 300.5h1.4M547.2 302.0h1.4M547.0 303.0h1.4M546.9 305.9h1.4M546.8 306.8h1.4M547.1 308.5h1.4M546.9 309.7h1.4M548.5 283.6h1.4M548.2 289.8h1.4M548.2 291.0h1.4M548.1 292.6h1.4M548.4 293.8h1.4M548.1 295.1h1.4M548.6 296.2h1.4M548.5 297.2h1.4M548.2 298.8h1.4M548.3 299.7h1.4M548.2 301.3h1.4M548.5 302.1h1.4M548.4 303.7h1.4M548.0 305.1h1.4M548.3 306.0h1.4M548.5 307.6h1.4M548.2 308.4h1.4M548.2 309.6h1.4M549.5 288.7h1.4M549.7 290.0h1.4M549.8 291.4h1.4M549.7 292.9h1.4M549.4 293.8h1.4M549.4 295.2h1.4M549.7 296.2h1.4M549.8 297.7h1.4M549.4 299.2h1.4M549.7 300.4h1.4M549.8 301.2h1.4M549.6 302.9h1.4M549.8 303.9h1.4M549.6 304.9h1.4M549.7 306.4h1.4M549.4 307.5h1.4M549.6 308.9h1.4M549.3 310.1h1.4M551.1 289.2h1.4M550.6 291.8h1.4M550.6 292.7h1.4M551.1 294.2h1.4M550.8 295.4h1.4M550.7 296.5h1.4M550.8 297.7h1.4M550.9 299.1h1.4M551.1 300.4h1.4M550.7 301.8h1.4M550.9 303.2h1.4M550.7 304.4h1.4M550.9 305.6h1.4M551.1 306.8h1.4M550.6 307.7h1.4M550.7 311.7h1.4M552.3 289.3h1.4M551.8 290.5h1.4M552.1 291.8h1.4M551.9 293.4h1.4M552.3 294.5h1.4M552.0 296.9h1.4M552.3 298.6h1.4M551.9 299.4h1.4M552.0 300.9h1.4M552.1 302.2h1.4M552.0 303.5h1.4M552.0 304.8h1.4M552.0 305.7h1.4M552.3 308.3h1.4M551.9 309.5h1.4M552.2 312.2h1.4M552.2 314.5h1.4M553.3 290.1h1.4M553.5 290.9h1.4M553.1 292.6h1.4M553.4 293.5h1.4M553.4 294.6h1.4M553.4 296.0h1.4M553.2 297.3h1.4M553.6 298.9h1.4M553.3 300.1h1.4M553.3 301.3h1.4M553.6 302.4h1.4M553.4 303.4h1.4M553.0 305.2h1.4M553.4 305.9h1.4M553.2 307.2h1.4M553.0 308.6h1.4M553.5 310.1h1.4M553.3 311.1h1.4M554.3 290.2h1.4M554.4 291.4h1.4M554.7 292.7h1.4M554.8 293.9h1.4M554.6 298.0h1.4M554.6 298.8h1.4M554.4 300.0h1.4M554.6 301.5h1.4M554.7 302.6h1.4M554.6 304.0h1.4M554.7 305.1h1.4M554.4 306.7h1.4M554.8 307.4h1.4M554.6 308.8h1.4M554.3 310.4h1.4M554.7 311.7h1.4M554.3 316.4h1.4M555.9 289.3h1.4M556.0 290.4h1.4M555.6 291.6h1.4M556.0 292.8h1.4M555.8 294.3h1.4M555.8 295.2h1.4M555.8 296.6h1.4M555.6 298.2h1.4M555.6 299.3h1.4M555.7 300.7h1.4M555.9 302.0h1.4M555.8 303.3h1.4M555.6 304.0h1.4M555.7 305.3h1.4M555.8 306.7h1.4M556.1 307.9h1.4M555.7 309.2h1.4M555.8 311.6h1.4M555.6 313.2h1.4M557.0 289.4h1.4M557.2 290.9h1.4M557.2 293.5h1.4M556.9 294.3h1.4M557.2 295.7h1.4M557.0 297.2h1.4M557.3 298.3h1.4M556.8 299.7h1.4M557.1 300.6h1.4M557.2 301.9h1.4M557.2 303.0h1.4M557.0 304.8h1.4M557.3 307.3h1.4M557.1 308.6h1.4M557.3 309.6h1.4M557.1 310.8h1.4M557.0 312.1h1.4M558.2 290.9h1.4M558.4 292.4h1.4M558.2 293.7h1.4M558.5 295.1h1.4M558.3 296.1h1.4M558.6 297.2h1.4M558.2 298.9h1.4M558.2 300.1h1.4M558.3 301.0h1.4M558.2 302.2h1.4M558.3 303.6h1.4M558.2 304.6h1.4M558.2 305.9h1.4M558.5 307.3h1.4M558.4 308.5h1.4M558.4 310.0h1.4M558.1 311.4h1.4M558.4 313.7h1.4M558.2 316.2h1.4M559.3 287.5h1.4M559.4 291.6h1.4M559.8 292.5h1.4M559.5 293.9h1.4M559.4 295.5h1.4M559.5 296.6h1.4M559.4 297.5h1.4M559.5 298.8h1.4M559.6 300.1h1.4M559.8 301.4h1.4M559.8 302.6h1.4M559.3 304.1h1.4M559.5 305.2h1.4M559.7 306.5h1.4M559.5 307.9h1.4M559.4 309.3h1.4M559.7 310.2h1.4M559.4 311.3h1.4M559.7 312.6h1.4M560.5 291.7h1.4M560.5 293.1h1.4M560.6 294.2h1.4M561.1 295.8h1.4M561.1 296.8h1.4M560.7 298.3h1.4M560.9 299.1h1.4M561.1 300.6h1.4M561.0 301.6h1.4M560.8 303.2h1.4M560.6 304.6h1.4M560.9 305.8h1.4M560.9 306.7h1.4M560.6 308.3h1.4M560.8 309.3h1.4M561.0 310.7h1.4M560.7 311.6h1.4M560.9 313.1h1.4M562.1 292.3h1.4M562.3 293.2h1.4M562.2 294.7h1.4M561.9 296.0h1.4M562.2 297.0h1.4M562.1 298.3h1.4M561.8 299.7h1.4M561.8 300.9h1.4M561.8 302.3h1.4M561.8 303.2h1.4M561.9 304.4h1.4M561.9 305.8h1.4M562.0 307.3h1.4M561.8 308.2h1.4M561.9 309.4h1.4M562.2 311.2h1.4M561.8 312.3h1.4M562.3 313.3h1.4M561.8 314.9h1.4M563.4 290.9h1.4M563.4 293.6h1.4M563.2 294.9h1.4M563.1 296.2h1.4M563.6 297.4h1.4M563.1 299.0h1.4M563.4 300.1h1.4M563.5 301.1h1.4M563.0 302.4h1.4M563.1 303.7h1.4M563.2 304.7h1.4M563.3 306.5h1.4M563.1 307.5h1.4M563.0 308.7h1.4M563.2 310.0h1.4M563.0 311.5h1.4M563.2 312.6h1.4M563.2 313.5h1.4M563.1 316.0h1.4M564.6 292.6h1.4M564.7 295.3h1.4M564.8 296.3h1.4M564.6 297.6h1.4M564.7 298.8h1.4M564.3 300.3h1.4M564.7 301.2h1.4M564.8 302.7h1.4M564.5 304.1h1.4M564.6 305.2h1.4M564.6 306.3h1.4M564.8 307.9h1.4M564.8 310.1h1.4M564.7 311.8h1.4M564.8 312.6h1.4M564.5 313.9h1.4M564.7 315.5h1.4M565.6 293.2h1.4M566.0 294.4h1.4M566.1 295.8h1.4M565.7 297.1h1.4M565.6 298.0h1.4M566.1 299.4h1.4M566.1 300.8h1.4M565.8 302.0h1.4M565.6 303.2h1.4M565.6 304.5h1.4M565.6 305.4h1.4M565.7 307.1h1.4M566.0 309.4h1.4M566.1 310.4h1.4M565.8 311.6h1.4M565.7 313.4h1.4M566.0 314.5h1.4M567.0 293.3h1.4M567.1 294.6h1.4M567.3 296.0h1.4M567.1 297.5h1.4M567.0 298.4h1.4M567.3 299.7h1.4M567.1 300.9h1.4M567.3 301.9h1.4M567.3 303.2h1.4M566.8 304.8h1.4M566.9 305.8h1.4M567.2 307.2h1.4M566.9 308.5h1.4M567.2 309.9h1.4M567.1 310.8h1.4M567.2 312.0h1.4M567.2 313.7h1.4M566.9 314.7h1.4M567.3 317.1h1.4M568.1 293.9h1.4M568.2 294.7h1.4M568.5 296.2h1.4M568.1 297.3h1.4M568.5 298.5h1.4M568.5 299.7h1.4M568.1 301.1h1.4M568.5 302.4h1.4M568.0 303.6h1.4M568.5 305.1h1.4M568.3 306.4h1.4M568.2 307.4h1.4M568.4 308.6h1.4M568.2 310.2h1.4M568.3 311.2h1.4M568.6 312.5h1.4M568.5 313.6h1.4M568.1 315.0h1.4M568.3 317.8h1.4M569.5 296.3h1.4M569.6 297.9h1.4M569.8 299.0h1.4M569.5 300.1h1.4M569.6 301.6h1.4M569.4 302.7h1.4M569.5 304.3h1.4M569.4 305.0h1.4M569.5 306.7h1.4M569.4 308.0h1.4M569.6 309.1h1.4M569.3 310.4h1.4M569.5 311.8h1.4M569.4 312.5h1.4M569.6 313.9h1.4M569.5 315.0h1.4M571.0 289.1h1.4M570.6 294.6h1.4M571.0 295.6h1.4M571.0 296.7h1.4M570.5 298.0h1.4M571.0 299.5h1.4M570.9 300.7h1.4M570.8 301.9h1.4M570.6 303.0h1.4M570.6 304.3h1.4M570.8 305.4h1.4M570.6 307.0h1.4M570.6 308.0h1.4M570.7 309.6h1.4M570.7 310.8h1.4M570.8 311.7h1.4M570.7 315.5h1.4M570.8 317.1h1.4M571.0 318.0h1.4M571.0 319.2h1.4M572.1 294.9h1.4M571.9 296.1h1.4M572.3 297.1h1.4M572.3 298.4h1.4M571.9 301.0h1.4M571.8 302.4h1.4M572.2 303.5h1.4M572.3 304.5h1.4M572.2 305.8h1.4M572.0 307.4h1.4M572.3 308.4h1.4M572.0 309.9h1.4M572.1 310.7h1.4M571.8 312.4h1.4M572.0 313.7h1.4M572.2 317.3h1.4M572.3 319.7h1.4M573.2 293.7h1.4M573.3 294.7h1.4M573.5 297.6h1.4M573.5 298.7h1.4M573.1 300.1h1.4M573.5 301.1h1.4M573.5 302.7h1.4M573.1 304.8h1.4M573.4 306.4h1.4M573.3 307.6h1.4M573.4 308.9h1.4M573.3 310.2h1.4M573.1 311.2h1.4M573.3 312.6h1.4M573.2 313.7h1.4M573.6 314.8h1.4M573.4 316.2h1.4M573.4 317.4h1.4M573.0 319.0h1.4M574.4 295.5h1.4M574.8 296.9h1.4M574.6 297.6h1.4M574.6 299.2h1.4M574.3 300.1h1.4M574.4 301.5h1.4M574.8 302.9h1.4M574.6 304.0h1.4M574.3 305.2h1.4M574.8 306.4h1.4M574.3 307.7h1.4M574.5 309.3h1.4M574.5 310.3h1.4M574.8 311.6h1.4M574.4 313.1h1.4M574.7 314.0h1.4M574.3 315.6h1.4M574.7 316.6h1.4M574.4 317.7h1.4M574.7 322.8h1.4M576.1 292.9h1.4M575.6 295.6h1.4M575.6 298.2h1.4M575.8 299.2h1.4M575.6 300.5h1.4M575.8 301.9h1.4M575.9 303.4h1.4M575.5 304.6h1.4M575.7 305.5h1.4M576.0 306.7h1.4M576.0 308.3h1.4M575.9 309.6h1.4M575.6 310.8h1.4M575.6 311.7h1.4M575.6 313.1h1.4M575.8 314.4h1.4M575.6 315.6h1.4M576.9 292.5h1.4M577.2 293.5h1.4M577.0 296.0h1.4M577.3 297.0h1.4M577.2 298.6h1.4M577.2 300.0h1.4M576.8 300.8h1.4M576.8 302.3h1.4M576.8 303.5h1.4M577.2 304.7h1.4M576.9 306.3h1.4M577.2 307.1h1.4M577.0 308.7h1.4M577.3 309.9h1.4M577.1 311.2h1.4M577.3 311.9h1.4M577.2 313.5h1.4M576.8 314.6h1.4M577.2 315.9h1.4M576.8 318.3h1.4M577.1 319.6h1.4M578.3 297.4h1.4M578.4 299.1h1.4M578.0 300.0h1.4M578.4 301.1h1.4M578.2 302.8h1.4M578.2 303.6h1.4M578.4 305.3h1.4M578.3 306.5h1.4M578.1 308.7h1.4M578.6 311.2h1.4M578.6 312.4h1.4M578.2 313.9h1.4M578.6 315.3h1.4M578.5 316.0h1.4M578.6 317.4h1.4M578.3 318.7h1.4M578.4 319.8h1.4M578.4 322.5h1.4M579.7 285.4h1.4M579.7 295.1h1.4M579.5 296.9h1.4M579.4 297.9h1.4M579.5 299.3h1.4M579.7 300.2h1.4M579.6 301.6h1.4M579.3 303.0h1.4M579.5 303.9h1.4M579.7 305.4h1.4M579.7 306.7h1.4M579.4 307.9h1.4M579.8 309.4h1.4M579.4 310.2h1.4M579.7 311.5h1.4M579.8 312.8h1.4M579.5 314.2h1.4M579.4 315.3h1.4M579.4 317.9h1.4M579.6 319.4h1.4M579.3 320.1h1.4M579.5 321.4h1.4M580.8 296.8h1.4M581.0 298.5h1.4M580.6 299.3h1.4M581.0 301.0h1.4M580.6 302.3h1.4M580.7 303.0h1.4M581.0 306.0h1.4M581.1 307.2h1.4M581.1 308.1h1.4M580.6 309.5h1.4M581.1 310.6h1.4M580.6 312.4h1.4M580.9 313.3h1.4M580.7 314.5h1.4M580.9 316.1h1.4M581.0 317.2h1.4M580.7 318.4h1.4M580.6 319.5h1.4M580.5 321.0h1.4M580.9 321.9h1.4M581.9 292.8h1.4M582.1 298.9h1.4M581.9 300.1h1.4M582.1 301.4h1.4M581.8 302.3h1.4M582.3 304.1h1.4M582.2 304.9h1.4M581.9 306.5h1.4M582.2 307.5h1.4M581.9 308.9h1.4M581.9 310.0h1.4M582.2 311.1h1.4M581.9 312.7h1.4M582.1 314.0h1.4M581.9 315.1h1.4M581.9 316.1h1.4M582.0 317.8h1.4M581.8 318.7h1.4M582.1 319.8h1.4M582.1 321.4h1.4M582.2 322.4h1.4M583.3 298.0h1.4M583.0 299.4h1.4M583.2 301.7h1.4M583.3 303.2h1.4M583.1 304.1h1.4M583.2 305.5h1.4M583.3 306.9h1.4M583.4 308.1h1.4M583.2 309.0h1.4M583.3 310.6h1.4M583.4 311.7h1.4M583.2 313.3h1.4M583.2 314.6h1.4M583.2 315.6h1.4M583.1 318.2h1.4M583.2 319.5h1.4M583.5 320.3h1.4M583.5 323.1h1.4M584.6 297.6h1.4M584.3 299.8h1.4M584.7 300.9h1.4M584.8 302.0h1.4M584.3 303.7h1.4M584.8 304.7h1.4M584.4 305.8h1.4M584.3 307.3h1.4M584.5 308.7h1.4M584.6 309.8h1.4M584.6 311.0h1.4M584.7 312.4h1.4M584.3 313.3h1.4M584.6 315.1h1.4M584.3 317.5h1.4M584.5 318.9h1.4M584.3 319.6h1.4M584.6 321.1h1.4M584.3 322.0h1.4M584.4 325.0h1.4M584.7 326.3h1.4M584.6 329.9h1.4M585.9 297.5h1.4M585.7 300.3h1.4M585.6 301.5h1.4M585.9 302.9h1.4M585.6 303.9h1.4M585.9 305.4h1.4M585.8 306.8h1.4M585.8 307.7h1.4M586.1 309.1h1.4M585.7 310.1h1.4M585.8 311.6h1.4M586.0 312.6h1.4M585.9 314.1h1.4M585.8 315.0h1.4M586.0 316.6h1.4M585.6 318.1h1.4M585.6 319.2h1.4M586.0 320.4h1.4M585.6 321.5h1.4M585.7 322.6h1.4M585.5 326.6h1.4M587.0 298.5h1.4M586.8 299.7h1.4M587.0 300.9h1.4M586.9 302.2h1.4M586.9 303.5h1.4M587.1 304.7h1.4M587.0 305.9h1.4M587.0 306.8h1.4M587.1 309.4h1.4M586.9 311.0h1.4M587.1 312.2h1.4M587.3 313.3h1.4M587.3 314.4h1.4M587.0 315.6h1.4M587.2 317.1h1.4M587.3 318.1h1.4M587.2 319.6h1.4M586.9 320.7h1.4M587.0 322.3h1.4M587.1 325.6h1.4M587.1 328.6h1.4M588.6 299.8h1.4M588.2 301.1h1.4M588.2 304.0h1.4M588.4 305.0h1.4M588.6 306.2h1.4M588.3 307.4h1.4M588.3 309.0h1.4M588.0 310.3h1.4M588.5 311.0h1.4M588.1 312.4h1.4M588.5 313.8h1.4M588.2 315.1h1.4M588.6 316.1h1.4M588.3 317.5h1.4M588.0 318.9h1.4M588.6 320.0h1.4M588.2 321.3h1.4M588.4 322.5h1.4M588.2 323.8h1.4M588.4 325.2h1.4M588.1 326.1h1.4M588.1 327.4h1.4M589.3 293.4h1.4M589.6 300.4h1.4M589.8 301.9h1.4M589.4 303.1h1.4M589.7 304.1h1.4M589.6 305.5h1.4M589.5 306.8h1.4M589.4 307.9h1.4M589.7 309.2h1.4M589.3 310.3h1.4M589.5 311.6h1.4M589.8 313.0h1.4M589.5 314.3h1.4M589.8 315.6h1.4M589.4 316.6h1.4M589.8 318.0h1.4M589.6 319.1h1.4M589.7 320.4h1.4M589.3 321.5h1.4M589.6 323.1h1.4M589.6 325.3h1.4M589.8 330.6h1.4M590.8 294.6h1.4M591.0 297.2h1.4M591.0 298.7h1.4M590.8 301.3h1.4M590.8 302.3h1.4M590.9 303.3h1.4M591.1 305.0h1.4M590.7 305.8h1.4M590.8 307.5h1.4M590.6 308.7h1.4M590.8 310.0h1.4M590.7 311.1h1.4M590.8 312.2h1.4M590.7 313.5h1.4M590.8 314.9h1.4M590.9 316.1h1.4M591.1 317.2h1.4M591.1 318.4h1.4M590.6 319.6h1.4M590.8 320.8h1.4M590.8 322.1h1.4M591.0 323.5h1.4M590.9 324.6h1.4M590.9 325.8h1.4M590.7 327.5h1.4M591.9 301.5h1.4M591.9 302.9h1.4M592.2 304.1h1.4M591.8 305.5h1.4M592.1 306.4h1.4M592.0 308.0h1.4M591.8 309.0h1.4M591.8 310.4h1.4M592.2 311.5h1.4M592.0 313.0h1.4M592.1 313.9h1.4M591.9 315.1h1.4M592.3 316.5h1.4M592.2 317.7h1.4M591.8 319.3h1.4M591.8 320.3h1.4M592.2 321.4h1.4M592.1 322.6h1.4M592.3 324.0h1.4M592.3 325.5h1.4M592.3 326.4h1.4M592.2 327.8h1.4M593.2 290.6h1.4M593.5 302.2h1.4M593.4 303.2h1.4M593.2 304.7h1.4M593.1 305.7h1.4M593.0 306.8h1.4M593.1 308.6h1.4M593.4 309.7h1.4M593.3 311.1h1.4M593.2 312.4h1.4M593.6 313.2h1.4M593.2 314.7h1.4M593.4 315.6h1.4M593.3 318.5h1.4M593.4 319.7h1.4M593.4 320.6h1.4M593.2 322.1h1.4M593.3 323.3h1.4M593.5 324.4h1.4M593.1 325.6h1.4M593.6 326.8h1.4M593.5 328.5h1.4M594.6 299.0h1.4M594.6 301.4h1.4M594.5 302.6h1.4M594.8 303.8h1.4M594.7 304.8h1.4M594.4 306.2h1.4M594.4 307.9h1.4M594.5 308.9h1.4M594.3 310.1h1.4M594.5 311.5h1.4M594.4 312.4h1.4M594.5 313.7h1.4M594.7 315.3h1.4M594.7 316.1h1.4M594.3 317.4h1.4M594.4 318.8h1.4M594.6 320.0h1.4M594.7 321.2h1.4M594.8 322.7h1.4M594.4 323.7h1.4M594.3 325.3h1.4M594.6 326.1h1.4M594.5 327.9h1.4M594.6 328.6h1.4M596.0 297.1h1.4M595.8 303.2h1.4M595.5 304.3h1.4M595.7 305.5h1.4M595.7 307.0h1.4M595.8 308.3h1.4M595.8 309.5h1.4M595.7 310.4h1.4M595.9 311.9h1.4M595.6 313.1h1.4M596.0 314.4h1.4M595.8 315.7h1.4M596.1 316.9h1.4M595.6 317.8h1.4M595.9 319.4h1.4M595.8 320.7h1.4M596.0 321.6h1.4M595.5 323.1h1.4M595.5 324.3h1.4M596.0 325.3h1.4M596.0 326.6h1.4M596.1 328.0h1.4M595.6 329.2h1.4M595.9 330.8h1.4M595.8 336.5h1.4M596.9 298.4h1.4M597.3 302.1h1.4M597.3 306.3h1.4M597.3 307.0h1.4M597.1 308.7h1.4M596.8 309.8h1.4M597.2 310.9h1.4M597.3 312.2h1.4M597.3 313.7h1.4M597.0 314.8h1.4M596.8 315.9h1.4M597.3 317.2h1.4M597.1 318.8h1.4M597.2 319.8h1.4M597.1 321.0h1.4M596.8 322.4h1.4M597.0 323.6h1.4M597.3 327.6h1.4M597.1 328.4h1.4M597.0 330.0h1.4M598.1 302.8h1.4M598.2 305.5h1.4M598.6 306.3h1.4M598.2 308.0h1.4M598.4 309.3h1.4M598.0 311.6h1.4M598.1 312.7h1.4M598.3 313.8h1.4M598.0 315.6h1.4M598.3 316.8h1.4M598.1 317.7h1.4M598.4 319.1h1.4M598.5 320.3h1.4M598.4 321.8h1.4M598.3 322.6h1.4M598.3 324.3h1.4M598.6 325.4h1.4M598.6 326.8h1.4M598.1 328.1h1.4M598.6 329.3h1.4M598.6 330.4h1.4M598.4 331.4h1.4M598.4 332.8h1.4M598.3 333.9h1.4M599.3 296.1h1.4M599.8 304.7h1.4M599.7 307.0h1.4M599.7 308.6h1.4M599.5 309.6h1.4M599.3 310.8h1.4M599.7 312.0h1.4M599.7 313.2h1.4M599.8 314.5h1.4M599.5 316.0h1.4M599.4 317.0h1.4M599.3 318.6h1.4M599.7 319.5h1.4M599.5 320.9h1.4M599.8 322.1h1.4M599.3 323.2h1.4M599.6 324.4h1.4M599.4 325.9h1.4M599.6 327.2h1.4M599.3 328.4h1.4M599.7 329.8h1.4M599.8 330.7h1.4M599.3 332.3h1.4M599.5 333.3h1.4M600.9 302.9h1.4M600.7 305.3h1.4M600.6 307.9h1.4M600.8 308.8h1.4M601.1 310.1h1.4M600.7 311.3h1.4M601.1 312.8h1.4M601.0 314.1h1.4M600.8 315.1h1.4M600.8 316.3h1.4M601.1 317.5h1.4M600.5 318.8h1.4M600.9 320.2h1.4M600.6 321.6h1.4M600.8 322.7h1.4M600.8 323.9h1.4M600.9 325.3h1.4M601.0 326.3h1.4M600.7 327.9h1.4M600.7 330.0h1.4M600.9 331.1h1.4M601.1 332.4h1.4M602.3 305.4h1.4M602.1 308.3h1.4M602.2 309.7h1.4M602.0 310.5h1.4M602.3 312.0h1.4M602.1 313.0h1.4M602.0 314.5h1.4M602.1 315.6h1.4M602.2 316.9h1.4M602.2 318.1h1.4M602.3 319.5h1.4M602.2 320.7h1.4M601.8 322.2h1.4M602.0 323.4h1.4M602.1 324.2h1.4M602.0 325.7h1.4M601.8 327.2h1.4M601.9 327.9h1.4M601.9 329.5h1.4M601.9 331.9h1.4M602.0 333.3h1.4M601.8 334.5h1.4M601.8 337.0h1.4M602.3 338.3h1.4M603.2 306.1h1.4M603.2 307.5h1.4M603.4 308.8h1.4M603.4 310.2h1.4M603.2 311.3h1.4M603.6 312.7h1.4M603.2 313.5h1.4M603.5 314.8h1.4M603.4 316.3h1.4M603.2 317.8h1.4M603.2 318.8h1.4M603.3 320.2h1.4M603.5 321.1h1.4M603.3 322.6h1.4M603.5 323.7h1.4M603.5 325.1h1.4M603.4 326.3h1.4M603.0 327.4h1.4M603.4 328.6h1.4M603.1 329.8h1.4M603.3 331.3h1.4M603.3 332.4h1.4M603.0 333.6h1.4M603.1 335.0h1.4M603.4 336.5h1.4M603.0 337.8h1.4M603.4 338.9h1.4M603.5 339.8h1.4M604.8 305.5h1.4M604.5 307.9h1.4M604.6 309.6h1.4M604.4 310.3h1.4M604.7 311.9h1.4M604.7 313.2h1.4M604.3 314.6h1.4M604.3 315.4h1.4M604.4 317.1h1.4M604.5 318.1h1.4M604.4 319.6h1.4M604.6 320.9h1.4M604.7 321.9h1.4M604.4 323.2h1.4M604.6 324.3h1.4M604.7 325.8h1.4M604.5 326.9h1.4M604.6 329.1h1.4M604.3 330.4h1.4M604.4 332.0h1.4M604.3 333.3h1.4M604.8 335.8h1.4M604.7 337.1h1.4M604.5 339.5h1.4M605.6 303.8h1.4M605.5 307.7h1.4M605.8 308.7h1.4M605.7 309.8h1.4M606.0 311.3h1.4M605.8 312.7h1.4M605.7 313.7h1.4M605.9 316.2h1.4M606.0 317.2h1.4M605.7 318.8h1.4M605.7 319.7h1.4M605.9 321.2h1.4M606.1 322.3h1.4M606.0 323.5h1.4M605.7 325.2h1.4M606.1 326.4h1.4M605.7 327.4h1.4M606.0 328.6h1.4M605.6 329.9h1.4M605.6 331.1h1.4M605.8 332.5h1.4M606.0 333.7h1.4M605.6 334.8h1.4M605.6 336.4h1.4M605.9 337.4h1.4M606.0 338.9h1.4M607.0 307.8h1.4M607.3 310.3h1.4M607.1 311.7h1.4M607.3 312.9h1.4M606.9 314.5h1.4M607.2 315.4h1.4M607.2 316.8h1.4M606.8 317.9h1.4M607.3 319.2h1.4M606.8 320.6h1.4M607.2 321.6h1.4M606.9 323.1h1.4M607.3 324.2h1.4M607.2 325.4h1.4M607.0 326.7h1.4M606.9 328.2h1.4M607.3 329.4h1.4M607.3 330.2h1.4M607.1 331.5h1.4M606.8 333.1h1.4M607.0 334.2h1.4M606.9 335.6h1.4M606.8 337.0h1.4M606.9 337.9h1.4M607.0 339.5h1.4M607.1 340.6h1.4M608.2 308.9h1.4M608.4 310.0h1.4M608.2 311.4h1.4M608.4 312.3h1.4M608.0 313.8h1.4M608.4 314.8h1.4M608.0 316.0h1.4M608.4 317.2h1.4M608.5 318.5h1.4M608.0 320.0h1.4M608.3 320.8h1.4M608.0 322.6h1.4M608.2 323.6h1.4M608.1 324.9h1.4M608.6 325.8h1.4M608.1 327.2h1.4M608.0 328.8h1.4M608.4 330.0h1.4M608.0 331.1h1.4M608.4 332.4h1.4M608.5 333.6h1.4M608.3 334.8h1.4M608.4 336.3h1.4M608.0 337.3h1.4M608.1 338.6h1.4M608.3 339.7h1.4M608.4 340.9h1.4M609.8 309.3h1.4M609.3 312.9h1.4M609.5 314.3h1.4M609.8 315.2h1.4M609.7 316.5h1.4M609.4 317.9h1.4M609.4 319.4h1.4M609.8 320.2h1.4M609.5 321.8h1.4M609.8 323.2h1.4M609.4 324.1h1.4M609.5 325.6h1.4M609.4 326.7h1.4M609.6 327.7h1.4M609.4 329.3h1.4M609.5 330.6h1.4M609.5 331.9h1.4M609.6 333.0h1.4M609.6 334.1h1.4M609.6 335.5h1.4M609.7 336.6h1.4M609.5 337.8h1.4M609.7 339.2h1.4M609.7 340.1h1.4M609.7 341.4h1.4M611.0 309.9h1.4M610.9 310.8h1.4M610.9 312.1h1.4M610.6 313.8h1.4M611.1 314.8h1.4M610.9 316.1h1.4M610.9 317.4h1.4M610.6 318.8h1.4M610.8 320.0h1.4M610.6 322.1h1.4M610.6 323.3h1.4M610.5 324.8h1.4M610.9 325.8h1.4M610.6 326.9h1.4M610.7 328.4h1.4M610.7 329.8h1.4M610.7 331.2h1.4M611.0 332.5h1.4M610.5 333.3h1.4M610.8 334.7h1.4M610.6 336.0h1.4M610.6 337.4h1.4M611.0 338.6h1.4M610.8 339.6h1.4M610.9 340.9h1.4M610.7 342.1h1.4M611.0 343.4h1.4M612.1 310.1h1.4M612.1 311.4h1.4M612.1 312.5h1.4M612.0 313.9h1.4M612.1 315.4h1.4M612.1 316.7h1.4M612.3 318.1h1.4M612.2 319.1h1.4M611.8 320.3h1.4M612.2 321.8h1.4M612.3 322.7h1.4M612.0 324.1h1.4M611.9 325.0h1.4M611.9 326.8h1.4M611.8 327.8h1.4M611.9 329.3h1.4M611.8 330.4h1.4M612.1 331.8h1.4M611.8 332.8h1.4M612.0 334.0h1.4M611.9 335.4h1.4M611.9 336.8h1.4M611.9 337.6h1.4M612.2 339.0h1.4M612.1 340.2h1.4M612.1 341.3h1.4M612.2 343.0h1.4M611.9 344.0h1.4M613.0 310.6h1.4M613.0 312.2h1.4M613.3 313.5h1.4M613.1 314.8h1.4M613.6 317.4h1.4M613.3 318.3h1.4M613.1 319.5h1.4M613.3 321.2h1.4M613.0 322.1h1.4M613.1 323.4h1.4M613.5 324.5h1.4M613.6 326.2h1.4M613.2 327.2h1.4M613.4 328.5h1.4M613.4 329.5h1.4M613.1 330.9h1.4M613.2 332.0h1.4M613.2 333.7h1.4M613.3 334.6h1.4M613.5 335.9h1.4M613.2 336.9h1.4M613.1 338.3h1.4M613.2 339.7h1.4M613.5 340.9h1.4M613.3 342.3h1.4M613.1 343.4h1.4M613.4 344.6h1.4M613.6 346.9h1.4M614.6 312.6h1.4M614.5 313.9h1.4M614.4 315.2h1.4M614.3 316.6h1.4M614.4 317.6h1.4M614.5 319.1h1.4M614.6 320.3h1.4M614.3 321.5h1.4M614.7 322.7h1.4M614.3 324.1h1.4M614.5 325.0h1.4M614.7 326.6h1.4M614.8 327.6h1.4M614.4 329.2h1.4M614.3 330.1h1.4M614.5 331.2h1.4M614.6 332.6h1.4M614.6 334.2h1.4M614.8 335.4h1.4M614.3 336.4h1.4M614.5 337.5h1.4M614.8 339.1h1.4M614.5 340.4h1.4M614.6 341.3h1.4M614.8 343.9h1.4M615.8 312.2h1.4M615.9 313.5h1.4M616.1 315.8h1.4M615.9 316.8h1.4M615.6 318.4h1.4M615.7 319.4h1.4M615.9 320.7h1.4M615.6 322.2h1.4M616.0 323.4h1.4M615.8 325.8h1.4M615.7 326.9h1.4M616.0 328.6h1.4M615.8 329.5h1.4M615.9 331.1h1.4M615.7 331.9h1.4M616.0 333.2h1.4M615.5 334.5h1.4M615.7 335.9h1.4M615.9 337.1h1.4M615.9 338.3h1.4M615.7 341.0h1.4M615.7 342.1h1.4M615.6 343.5h1.4M616.0 344.4h1.4M615.6 346.0h1.4M615.7 347.0h1.4M615.6 348.4h1.4M615.6 349.5h1.4M617.1 306.5h1.4M617.3 312.5h1.4M617.0 313.6h1.4M617.1 315.4h1.4M616.9 317.4h1.4M616.8 319.0h1.4M617.2 319.9h1.4M617.3 321.4h1.4M617.3 322.8h1.4M617.2 323.8h1.4M616.9 325.0h1.4M616.9 326.2h1.4M617.0 327.7h1.4M617.2 328.7h1.4M617.3 330.3h1.4M617.2 331.5h1.4M617.0 332.7h1.4M617.3 334.0h1.4M617.3 335.0h1.4M616.8 336.5h1.4M617.0 337.6h1.4M617.1 339.0h1.4M616.9 340.3h1.4M616.8 341.3h1.4M616.9 342.5h1.4M617.3 344.1h1.4M617.1 344.8h1.4M617.0 346.4h1.4M616.8 347.8h1.4M616.8 348.6h1.4M616.9 350.2h1.4M618.3 312.1h1.4M618.4 313.3h1.4M618.2 314.5h1.4M618.5 315.5h1.4M618.2 316.7h1.4M618.4 319.5h1.4M618.5 320.4h1.4M618.1 322.0h1.4M618.6 323.0h1.4M618.6 324.6h1.4M618.2 325.8h1.4M618.4 326.8h1.4M618.0 328.4h1.4M618.0 329.2h1.4M618.5 330.6h1.4M618.3 331.8h1.4M618.2 333.0h1.4M618.4 334.3h1.4M618.4 335.6h1.4M618.3 337.2h1.4M618.2 338.2h1.4M618.4 341.7h1.4M618.1 343.2h1.4M618.5 347.1h1.4M618.5 348.1h1.4M619.5 299.8h1.4M619.3 313.7h1.4M619.3 315.0h1.4M619.6 316.1h1.4M619.3 317.3h1.4M619.6 318.6h1.4M619.3 320.3h1.4M619.7 321.5h1.4M619.6 322.4h1.4M619.7 323.5h1.4M619.3 325.0h1.4M619.5 326.4h1.4M619.4 327.3h1.4M619.8 328.8h1.4M619.7 330.1h1.4M619.8 331.4h1.4M619.3 332.4h1.4M619.6 334.0h1.4M619.4 334.8h1.4M619.3 336.3h1.4M619.5 337.6h1.4M619.6 338.5h1.4M619.7 340.3h1.4M619.6 341.5h1.4M619.6 342.2h1.4M619.7 344.0h1.4M619.4 345.0h1.4M619.7 346.1h1.4M619.4 347.7h1.4M619.8 348.7h1.4M619.5 349.8h1.4M619.5 352.5h1.4M621.1 314.1h1.4M620.7 315.8h1.4M620.9 316.7h1.4M620.9 319.1h1.4M621.0 322.0h1.4M620.9 323.0h1.4M621.0 324.4h1.4M620.5 325.7h1.4M620.6 326.6h1.4M620.9 328.0h1.4M621.0 330.7h1.4M620.9 331.6h1.4M621.1 333.1h1.4M620.6 334.2h1.4M620.7 335.5h1.4M620.5 337.0h1.4M620.7 337.8h1.4M621.0 339.5h1.4M621.1 340.7h1.4M621.1 342.0h1.4M621.0 343.2h1.4M620.5 344.2h1.4M620.5 345.4h1.4M620.8 346.6h1.4M620.8 348.3h1.4M621.9 316.2h1.4M621.8 317.3h1.4M621.8 318.4h1.4M622.3 320.1h1.4M621.8 321.4h1.4M622.0 322.5h1.4M621.9 323.5h1.4M622.2 325.2h1.4M621.9 326.2h1.4M622.0 327.4h1.4M621.8 328.6h1.4M621.8 329.9h1.4M622.1 331.1h1.4M622.2 332.7h1.4M622.0 333.6h1.4M622.1 335.0h1.4M622.3 336.1h1.4M621.9 337.3h1.4M622.3 338.7h1.4M622.0 339.9h1.4M622.3 341.1h1.4M622.2 342.6h1.4M622.0 345.1h1.4M621.9 346.2h1.4M621.9 347.6h1.4M622.1 348.6h1.4M622.2 350.1h1.4M623.6 315.4h1.4M623.1 316.8h1.4M623.1 317.9h1.4M623.4 319.2h1.4M623.1 320.7h1.4M623.5 321.7h1.4M623.5 323.1h1.4M623.3 324.4h1.4M623.6 326.7h1.4M623.5 328.2h1.4M623.3 329.2h1.4M623.1 330.3h1.4M623.2 331.7h1.4M623.3 332.7h1.4M623.3 334.0h1.4M623.5 335.6h1.4M623.5 336.8h1.4M623.0 338.0h1.4M623.2 339.0h1.4M623.3 340.5h1.4M623.3 341.8h1.4M623.5 342.7h1.4M623.2 344.2h1.4M623.5 345.5h1.4M623.3 346.5h1.4M623.0 347.9h1.4M623.0 349.0h1.4M623.3 350.8h1.4M623.6 351.9h1.4M623.0 352.8h1.4M623.4 354.1h1.4M623.4 355.8h1.4M623.6 356.8h1.4M624.4 318.3h1.4M624.8 319.9h1.4M624.8 320.9h1.4M624.4 323.4h1.4M624.5 326.1h1.4M624.7 327.6h1.4M624.4 328.6h1.4M624.6 330.1h1.4M624.6 331.3h1.4M624.7 332.5h1.4M624.7 333.7h1.4M624.6 335.0h1.4M624.8 336.0h1.4M624.6 337.5h1.4M624.5 338.4h1.4M624.7 339.5h1.4M624.3 341.1h1.4M624.5 342.1h1.4M624.6 343.5h1.4M624.5 344.7h1.4M624.5 346.2h1.4M624.4 347.2h1.4M624.8 348.8h1.4M624.4 349.6h1.4M624.5 351.2h1.4M625.5 309.1h1.4M625.7 316.4h1.4M626.1 318.2h1.4M625.8 320.6h1.4M625.5 321.5h1.4M625.9 323.0h1.4M625.9 325.6h1.4M625.5 326.9h1.4M625.5 327.7h1.4M625.6 329.1h1.4M625.6 330.4h1.4M626.0 331.4h1.4M625.5 332.9h1.4M625.7 334.4h1.4M625.9 335.5h1.4M625.9 336.9h1.4M626.0 337.8h1.4M625.9 339.4h1.4M625.6 340.4h1.4M625.8 342.0h1.4M625.8 342.7h1.4M625.9 344.4h1.4M625.8 345.5h1.4M626.1 346.6h1.4M626.0 348.0h1.4M625.6 349.3h1.4M625.6 350.2h1.4M625.7 351.8h1.4M626.8 314.0h1.4M627.3 317.5h1.4M626.9 318.7h1.4M627.1 320.1h1.4M627.1 321.1h1.4M626.8 323.9h1.4M626.9 326.5h1.4M627.1 327.6h1.4M627.3 329.0h1.4M627.3 329.9h1.4M626.8 331.3h1.4M627.3 332.6h1.4M627.3 333.5h1.4M627.1 334.7h1.4M626.8 336.5h1.4M627.1 337.5h1.4M627.3 338.8h1.4M626.9 339.8h1.4M626.8 341.1h1.4M627.0 342.7h1.4M626.9 343.8h1.4M626.9 344.8h1.4M627.0 346.2h1.4M626.9 347.4h1.4M626.9 348.5h1.4M626.9 352.5h1.4M627.2 354.0h1.4M628.4 317.3h1.4M628.1 318.2h1.4M628.1 319.9h1.4M628.2 322.2h1.4M628.2 323.5h1.4M628.5 324.8h1.4M628.3 326.1h1.4M628.4 327.0h1.4M628.3 328.2h1.4M628.5 330.8h1.4M628.3 332.0h1.4M628.1 334.5h1.4M628.3 335.9h1.4M628.4 337.1h1.4M628.4 338.2h1.4M628.0 339.5h1.4M628.6 340.9h1.4M628.6 341.9h1.4M628.0 343.5h1.4M628.2 344.9h1.4M628.3 345.8h1.4M628.0 347.2h1.4M628.1 348.4h1.4M628.2 349.7h1.4M628.3 350.7h1.4M628.1 352.4h1.4M628.4 355.6h1.4M629.3 319.2h1.4M629.5 320.6h1.4M629.6 321.9h1.4M629.6 323.3h1.4M629.6 324.3h1.4M629.5 325.7h1.4M629.6 326.9h1.4M629.6 328.0h1.4M629.6 329.3h1.4M629.5 330.4h1.4M629.8 331.6h1.4M629.6 333.1h1.4M629.5 334.0h1.4M629.6 335.6h1.4M629.6 336.9h1.4M629.7 337.8h1.4M629.5 339.3h1.4M629.6 340.8h1.4M629.3 341.8h1.4M629.4 343.3h1.4M629.4 344.2h1.4M629.4 345.3h1.4M629.5 347.8h1.4M629.3 350.8h1.4M629.8 351.7h1.4M629.3 353.1h1.4M629.8 354.1h1.4M629.7 356.9h1.4M630.8 320.1h1.4M631.0 321.7h1.4M631.0 322.6h1.4M630.6 323.9h1.4M630.9 325.4h1.4M630.7 326.2h1.4M630.7 327.9h1.4M630.8 329.1h1.4M630.8 330.1h1.4M631.0 331.5h1.4M631.0 334.0h1.4M630.6 335.2h1.4M630.6 336.7h1.4M630.8 338.9h1.4M630.6 340.0h1.4M631.0 341.7h1.4M630.8 342.4h1.4M630.8 344.2h1.4M630.9 344.9h1.4M630.6 346.5h1.4M630.6 347.7h1.4M630.6 348.9h1.4M630.9 350.5h1.4M630.7 351.4h1.4M630.9 352.8h1.4M630.7 353.7h1.4M630.5 355.4h1.4M631.0 356.2h1.4M630.9 357.9h1.4M630.6 359.1h1.4M630.6 360.2h1.4M630.9 362.7h1.4M632.1 320.8h1.4M632.3 322.4h1.4M632.1 323.9h1.4M632.0 324.6h1.4M631.9 326.2h1.4M631.8 327.4h1.4M631.9 328.7h1.4M631.9 329.9h1.4M631.8 331.3h1.4M632.3 332.6h1.4M632.1 333.6h1.4M632.3 335.1h1.4M631.9 336.1h1.4M632.2 337.6h1.4M631.8 338.6h1.4M632.1 340.0h1.4M632.0 340.9h1.4M632.3 342.3h1.4M632.2 343.5h1.4M632.0 344.7h1.4M632.1 346.1h1.4M632.2 347.3h1.4M631.9 348.6h1.4M632.1 350.0h1.4M632.2 351.1h1.4M631.8 352.4h1.4M632.3 353.8h1.4M632.1 354.7h1.4M632.3 355.9h1.4M632.1 357.0h1.4M631.9 358.7h1.4M633.3 320.7h1.4M633.1 323.1h1.4M633.2 324.2h1.4M633.1 326.8h1.4M633.5 328.0h1.4M633.6 329.6h1.4M633.2 330.8h1.4M633.1 331.8h1.4M633.4 333.4h1.4M633.2 334.6h1.4M633.1 335.4h1.4M633.3 336.9h1.4M633.1 338.0h1.4M633.2 339.5h1.4M633.3 340.9h1.4M633.3 341.7h1.4M633.1 343.1h1.4M633.6 344.3h1.4M633.0 345.6h1.4M633.3 347.2h1.4M633.4 348.2h1.4M633.3 349.2h1.4M633.5 350.4h1.4M633.4 352.1h1.4M633.4 353.2h1.4M633.0 354.4h1.4M633.2 357.0h1.4M633.2 359.7h1.4M633.1 360.8h1.4M633.2 362.1h1.4M633.5 363.2h1.4M633.2 365.4h1.4M634.4 320.6h1.4M634.3 322.8h1.4M634.3 324.3h1.4M634.6 325.2h1.4M634.3 326.6h1.4M634.3 327.7h1.4M634.8 329.2h1.4M634.8 330.2h1.4M634.7 331.7h1.4M634.3 332.7h1.4M634.8 334.0h1.4M634.6 335.2h1.4M634.8 336.8h1.4M634.7 338.1h1.4M634.7 338.8h1.4M634.5 340.6h1.4M634.5 341.7h1.4M634.6 342.6h1.4M634.4 344.2h1.4M634.6 345.5h1.4M634.3 346.5h1.4M634.7 347.8h1.4M634.5 349.0h1.4M634.5 350.4h1.4M634.8 351.3h1.4M634.5 353.1h1.4M634.3 354.2h1.4M634.7 355.5h1.4M634.6 356.7h1.4M634.4 357.9h1.4M634.3 358.9h1.4M634.3 360.4h1.4M634.4 361.8h1.4M634.3 362.9h1.4M635.7 322.7h1.4M635.7 323.6h1.4M636.0 324.7h1.4M635.8 326.4h1.4M636.0 327.6h1.4M636.1 328.9h1.4M635.7 329.9h1.4M636.0 331.3h1.4M636.0 332.5h1.4M635.9 334.9h1.4M635.9 337.4h1.4M635.6 338.7h1.4M635.9 339.8h1.4M635.9 341.2h1.4M635.5 342.5h1.4M636.0 343.7h1.4M635.7 344.7h1.4M635.6 346.5h1.4M635.7 347.5h1.4M635.9 348.6h1.4M635.5 350.2h1.4M635.7 351.1h1.4M635.6 352.4h1.4M635.6 353.8h1.4M635.6 355.2h1.4M635.7 356.1h1.4M635.7 357.5h1.4M635.7 358.7h1.4M637.3 324.9h1.4M637.3 326.2h1.4M637.0 327.2h1.4M637.0 328.4h1.4M636.8 329.8h1.4M637.2 330.9h1.4M636.9 331.9h1.4M636.9 333.2h1.4M637.0 334.9h1.4M637.0 335.9h1.4M636.8 337.0h1.4M637.3 338.5h1.4M637.3 339.8h1.4M637.0 340.6h1.4M636.9 342.3h1.4M637.2 343.4h1.4M636.8 344.7h1.4M637.1 346.1h1.4M637.0 347.2h1.4M636.9 348.5h1.4M636.8 349.5h1.4M637.3 350.7h1.4M637.0 351.9h1.4M637.1 353.1h1.4M637.0 356.2h1.4M636.8 357.1h1.4M636.9 358.4h1.4M636.8 360.8h1.4M636.9 364.5h1.4M638.4 325.4h1.4M638.5 328.2h1.4M638.4 330.7h1.4M638.0 332.0h1.4M638.4 333.2h1.4M638.5 334.4h1.4M638.3 335.8h1.4M638.1 336.8h1.4M638.2 337.8h1.4M638.0 339.5h1.4M638.4 340.6h1.4M638.2 341.6h1.4M638.2 343.1h1.4M638.1 344.4h1.4M638.6 345.5h1.4M638.4 347.0h1.4M638.4 347.9h1.4M638.0 350.2h1.4M638.4 351.7h1.4M638.2 353.0h1.4M638.3 354.4h1.4M638.5 355.4h1.4M638.1 356.9h1.4M638.3 358.0h1.4M638.1 359.6h1.4M638.2 360.7h1.4M638.5 361.7h1.4M638.3 362.9h1.4M639.3 319.1h1.4M639.7 326.2h1.4M639.4 327.8h1.4M639.8 329.1h1.4M639.8 330.5h1.4M639.3 331.4h1.4M639.6 332.7h1.4M639.3 333.9h1.4M639.5 335.2h1.4M639.7 336.6h1.4M639.4 337.9h1.4M639.4 338.7h1.4M639.6 339.9h1.4M639.6 341.5h1.4M639.7 342.5h1.4M639.3 344.1h1.4M639.7 345.2h1.4M639.5 346.2h1.4M639.7 347.4h1.4M639.3 349.1h1.4M639.5 351.7h1.4M639.4 353.0h1.4M639.5 354.0h1.4M639.5 354.9h1.4M639.7 356.7h1.4M639.5 357.6h1.4M639.3 359.2h1.4M639.3 361.3h1.4M639.7 362.9h1.4M639.8 363.8h1.4M639.5 365.1h1.4M639.8 366.6h1.4M641.0 326.0h1.4M640.6 327.2h1.4M641.0 329.3h1.4M641.0 331.0h1.4M640.8 332.0h1.4M640.7 333.2h1.4M640.9 334.5h1.4M640.7 335.8h1.4M640.7 337.0h1.4M640.7 338.2h1.4M640.8 339.8h1.4M640.7 340.6h1.4M641.0 342.2h1.4M641.0 343.2h1.4M640.6 344.5h1.4M640.6 345.8h1.4M640.6 347.1h1.4M641.1 348.2h1.4M640.5 349.4h1.4M640.5 350.6h1.4M640.8 352.3h1.4M640.6 353.1h1.4M641.1 354.7h1.4M640.7 355.8h1.4M640.7 356.9h1.4M641.0 358.6h1.4M640.9 360.6h1.4M640.5 362.0h1.4M640.8 363.1h1.4M640.8 364.4h1.4M641.1 365.8h1.4M640.6 368.6h1.4M640.8 369.4h1.4M640.6 370.8h1.4M640.7 372.3h1.4M642.2 327.4h1.4M641.8 330.1h1.4M642.2 331.3h1.4M642.1 332.4h1.4M641.8 333.6h1.4M641.8 335.0h1.4M642.1 336.3h1.4M642.1 337.5h1.4M641.8 338.7h1.4M642.3 340.3h1.4M642.3 341.3h1.4M642.3 342.4h1.4M642.0 344.1h1.4M642.0 344.8h1.4M642.3 346.2h1.4M642.3 347.8h1.4M642.0 348.7h1.4M642.2 350.2h1.4M642.1 351.4h1.4M641.9 352.5h1.4M641.8 353.6h1.4M641.8 355.2h1.4M641.9 356.1h1.4M642.1 357.7h1.4M642.2 358.8h1.4M642.2 360.2h1.4M642.0 361.1h1.4M641.8 362.8h1.4M641.8 363.9h1.4M642.0 365.0h1.4M643.5 328.0h1.4M643.1 329.4h1.4M643.6 330.4h1.4M643.5 331.6h1.4M643.5 332.8h1.4M643.2 334.1h1.4M643.5 335.6h1.4M643.4 337.0h1.4M643.5 338.0h1.4M643.5 339.1h1.4M643.4 340.2h1.4M643.3 341.7h1.4M643.5 342.8h1.4M643.2 344.0h1.4M643.1 345.5h1.4M643.3 346.6h1.4M643.3 349.3h1.4M643.1 350.7h1.4M643.0 351.7h1.4M643.2 353.2h1.4M643.5 354.5h1.4M643.0 355.5h1.4M643.2 356.6h1.4M643.1 357.8h1.4M643.6 359.2h1.4M643.4 362.0h1.4M643.4 363.0h1.4M643.5 364.0h1.4M643.4 366.5h1.4M644.4 328.8h1.4M644.8 330.8h1.4M644.8 332.0h1.4M644.4 333.7h1.4M644.6 334.8h1.4M644.8 335.7h1.4M644.8 337.3h1.4M644.7 338.5h1.4M644.7 339.9h1.4M644.5 340.7h1.4M644.6 342.0h1.4M644.3 343.7h1.4M644.7 344.6h1.4M644.6 347.5h1.4M644.8 348.4h1.4M644.4 349.7h1.4M644.3 351.2h1.4M644.7 352.5h1.4M644.7 353.7h1.4M644.5 354.6h1.4M644.5 356.2h1.4M644.6 357.4h1.4M644.4 358.3h1.4M644.5 359.6h1.4M644.4 360.8h1.4M644.3 362.1h1.4M644.8 363.6h1.4M644.8 365.0h1.4M645.7 322.5h1.4M646.0 325.1h1.4M645.8 329.2h1.4M645.9 330.4h1.4M645.7 331.5h1.4M645.8 332.9h1.4M646.0 333.9h1.4M645.6 335.1h1.4M645.5 336.4h1.4M645.8 337.6h1.4M645.5 338.9h1.4M646.0 340.2h1.4M646.0 341.5h1.4M645.6 342.8h1.4M645.9 343.8h1.4M645.9 345.2h1.4M645.6 346.7h1.4M646.0 347.8h1.4M645.7 349.0h1.4M645.6 350.5h1.4M645.9 351.4h1.4M645.5 354.1h1.4M646.0 355.0h1.4M645.8 356.3h1.4M645.6 357.5h1.4M645.6 358.7h1.4M645.9 360.3h1.4M646.0 361.2h1.4M646.1 362.5h1.4M645.8 363.9h1.4M646.0 365.4h1.4M646.9 329.6h1.4M647.0 330.9h1.4M646.8 332.1h1.4M647.1 333.5h1.4M647.1 334.4h1.4M646.9 335.6h1.4M647.2 337.1h1.4M647.2 338.5h1.4M647.2 339.6h1.4M646.9 340.4h1.4M646.9 342.2h1.4M647.3 343.4h1.4M647.2 344.7h1.4M647.3 345.6h1.4M646.8 346.8h1.4M647.1 348.5h1.4M646.8 349.3h1.4M647.2 350.7h1.4M646.8 352.2h1.4M646.9 353.2h1.4M647.0 354.6h1.4M647.2 355.6h1.4M647.3 357.1h1.4M647.2 358.2h1.4M647.1 359.7h1.4M647.2 360.7h1.4M647.3 363.2h1.4M646.9 364.3h1.4M646.9 365.8h1.4M647.2 367.1h1.4M648.3 330.0h1.4M648.4 330.9h1.4M648.6 332.4h1.4M648.4 333.6h1.4M648.3 336.3h1.4M648.2 337.2h1.4M648.1 338.9h1.4M648.5 340.1h1.4M648.5 341.4h1.4M648.2 342.2h1.4M648.1 343.8h1.4M648.6 344.9h1.4M648.5 346.4h1.4M648.0 347.7h1.4M648.5 348.5h1.4M648.5 350.1h1.4M648.1 351.4h1.4M648.5 352.5h1.4M648.1 353.9h1.4M648.1 355.2h1.4M648.5 356.0h1.4M648.1 357.2h1.4M648.1 358.7h1.4M648.1 360.2h1.4M648.3 361.1h1.4M648.5 362.4h1.4M648.6 363.6h1.4M648.0 365.1h1.4M648.2 365.9h1.4M649.7 330.3h1.4M649.6 331.9h1.4M649.5 332.8h1.4M649.4 334.4h1.4M649.6 335.2h1.4M649.6 336.4h1.4M649.4 338.0h1.4M649.8 339.1h1.4M649.3 340.6h1.4M649.5 341.6h1.4M649.4 342.8h1.4M649.6 344.2h1.4M649.7 345.6h1.4M649.4 346.6h1.4M649.5 347.7h1.4M649.4 349.1h1.4M649.4 350.3h1.4M649.5 351.7h1.4M649.8 353.0h1.4M649.7 353.9h1.4M649.4 356.6h1.4M649.7 358.1h1.4M649.4 359.3h1.4M649.3 360.2h1.4M649.8 361.6h1.4M649.3 363.2h1.4M649.7 365.6h1.4M649.4 368.9h1.4M650.5 330.8h1.4M651.0 332.2h1.4M650.8 333.1h1.4M651.1 334.4h1.4M651.0 336.1h1.4M651.0 338.2h1.4M651.0 342.0h1.4M650.6 343.4h1.4M650.8 345.8h1.4M650.8 347.0h1.4M650.8 348.3h1.4M650.7 349.7h1.4M651.0 351.1h1.4M651.0 352.0h1.4M650.7 353.2h1.4M651.0 354.7h1.4M650.6 356.1h1.4M650.6 357.4h1.4M651.1 358.7h1.4M651.1 359.9h1.4M650.7 360.9h1.4M650.6 362.0h1.4M651.1 363.4h1.4M652.0 331.3h1.4M651.9 332.9h1.4M652.1 333.9h1.4M651.8 334.9h1.4M652.3 336.5h1.4M651.9 337.5h1.4M652.0 338.8h1.4M652.3 340.2h1.4M651.8 342.8h1.4M652.2 343.8h1.4M651.8 345.3h1.4M652.1 346.5h1.4M652.0 347.6h1.4M652.3 348.8h1.4M652.0 349.9h1.4M651.8 351.6h1.4M651.9 352.8h1.4M651.9 353.9h1.4M652.1 355.1h1.4M651.9 356.1h1.4M652.2 357.8h1.4M652.2 358.7h1.4M652.3 360.3h1.4M652.1 361.5h1.4M652.0 362.9h1.4M652.3 363.7h1.4M652.3 365.4h1.4M652.3 366.2h1.4M651.8 367.6h1.4M652.0 368.7h1.4M652.2 370.2h1.4M653.5 331.6h1.4M653.0 332.6h1.4M653.3 334.0h1.4M653.0 335.1h1.4M653.3 336.3h1.4M653.1 337.7h1.4M653.1 339.2h1.4M653.5 340.4h1.4M653.5 341.2h1.4M653.2 342.5h1.4M653.4 343.7h1.4M653.5 345.4h1.4M653.1 346.1h1.4M653.6 347.5h1.4M653.3 349.1h1.4M653.4 349.9h1.4M653.5 351.2h1.4M653.5 352.8h1.4M653.6 354.0h1.4M653.0 355.2h1.4M653.3 356.3h1.4M653.2 357.4h1.4M653.5 358.9h1.4M653.5 360.5h1.4M653.1 361.3h1.4M653.5 362.8h1.4M653.4 364.1h1.4M653.3 366.5h1.4M654.5 329.0h1.4M654.3 330.0h1.4M654.5 331.2h1.4M654.6 332.5h1.4M654.4 334.0h1.4M654.6 335.0h1.4M654.5 336.2h1.4M654.3 337.5h1.4M654.8 339.0h1.4M654.4 340.1h1.4M654.5 341.2h1.4M654.5 342.3h1.4M654.4 343.5h1.4M654.4 345.0h1.4M654.8 346.4h1.4M654.6 347.7h1.4M654.3 348.7h1.4M654.7 350.0h1.4M654.3 351.6h1.4M654.3 352.5h1.4M654.4 353.9h1.4M654.3 355.3h1.4M654.8 356.6h1.4M654.7 357.2h1.4M654.7 358.9h1.4M654.4 359.8h1.4M654.6 361.2h1.4M654.6 362.4h1.4M654.3 363.9h1.4M654.5 366.4h1.4M655.8 325.2h1.4M655.7 327.6h1.4M655.6 328.6h1.4M655.6 329.7h1.4M655.7 331.4h1.4M656.0 332.1h1.4M655.6 333.4h1.4M655.9 335.0h1.4M655.9 336.3h1.4M655.9 337.2h1.4M656.1 338.9h1.4M655.6 340.1h1.4M655.9 341.4h1.4M655.5 342.7h1.4M655.6 343.6h1.4M655.9 344.9h1.4M655.7 347.2h1.4M655.9 348.5h1.4M656.0 349.9h1.4M655.6 351.3h1.4M655.9 353.9h1.4M655.7 354.9h1.4M655.8 356.4h1.4M656.0 357.3h1.4M655.9 358.9h1.4M655.7 361.3h1.4M656.0 362.3h1.4M656.0 363.7h1.4M655.9 364.7h1.4M655.8 366.3h1.4M655.7 367.3h1.4M657.3 327.2h1.4M657.3 328.5h1.4M657.2 330.1h1.4M657.1 330.8h1.4M657.0 332.4h1.4M657.2 333.7h1.4M657.1 334.6h1.4M657.1 336.2h1.4M657.2 337.4h1.4M656.8 338.6h1.4M657.2 339.9h1.4M657.3 341.3h1.4M656.9 342.5h1.4M657.3 343.4h1.4M657.0 344.8h1.4M657.1 345.8h1.4M657.0 347.3h1.4M657.0 348.8h1.4M657.2 349.7h1.4M657.0 351.0h1.4M657.0 352.5h1.4M657.0 353.7h1.4M656.8 355.0h1.4M657.1 356.0h1.4M657.3 357.3h1.4M657.1 358.4h1.4M657.1 359.6h1.4M657.0 361.2h1.4M657.2 362.6h1.4M657.0 364.8h1.4M657.3 366.2h1.4M658.2 327.0h1.4M658.1 328.5h1.4M658.4 329.7h1.4M658.6 330.9h1.4M658.3 332.2h1.4M658.0 333.4h1.4M658.2 334.8h1.4M658.4 336.1h1.4M658.6 337.1h1.4M658.0 338.3h1.4M658.5 339.6h1.4M658.4 340.7h1.4M658.5 341.9h1.4M658.3 343.5h1.4M658.2 344.9h1.4M658.2 348.3h1.4M658.4 349.7h1.4M658.5 351.2h1.4M658.2 351.9h1.4M658.1 353.2h1.4M658.4 354.6h1.4M658.6 355.8h1.4M658.4 357.1h1.4M658.2 359.5h1.4M658.3 361.2h1.4M658.2 362.1h1.4M658.5 363.3h1.4M658.2 364.9h1.4M658.4 366.0h1.4M658.3 366.9h1.4M658.1 368.6h1.4M659.7 324.5h1.4M659.6 325.6h1.4M659.7 327.0h1.4M659.4 329.4h1.4M659.5 330.5h1.4M659.3 332.0h1.4M659.8 333.5h1.4M659.6 334.3h1.4M659.7 335.5h1.4M659.4 336.9h1.4M659.4 338.6h1.4M659.6 339.4h1.4M659.8 340.8h1.4M659.7 342.3h1.4M659.3 343.0h1.4M659.8 344.5h1.4M659.8 345.7h1.4M659.7 347.1h1.4M659.3 348.2h1.4M659.6 349.5h1.4M659.4 350.6h1.4M659.6 351.9h1.4M659.8 353.3h1.4M659.6 354.8h1.4M659.4 355.6h1.4M659.8 356.9h1.4M659.7 358.2h1.4M659.3 359.5h1.4M659.7 360.7h1.4M659.7 361.8h1.4M659.7 363.4h1.4M659.3 364.3h1.4M659.5 365.9h1.4M660.5 323.2h1.4M660.5 324.3h1.4M660.9 325.5h1.4M661.0 326.8h1.4M660.9 328.3h1.4M660.6 329.6h1.4M660.7 330.7h1.4M660.9 332.1h1.4M660.9 334.7h1.4M660.8 335.9h1.4M660.8 337.0h1.4M660.7 338.2h1.4M660.8 339.3h1.4M660.6 341.8h1.4M660.7 344.6h1.4M661.0 345.4h1.4M661.1 347.0h1.4M660.6 348.4h1.4M661.1 349.4h1.4M660.9 350.8h1.4M660.5 351.8h1.4M661.0 352.9h1.4M660.7 354.5h1.4M660.7 355.7h1.4M660.5 356.8h1.4M660.7 358.1h1.4M660.7 359.5h1.4M661.1 360.4h1.4M660.9 362.0h1.4M660.7 363.3h1.4M661.0 364.7h1.4M660.9 365.5h1.4M661.0 367.0h1.4M660.7 368.0h1.4M660.7 369.4h1.4M660.6 370.7h1.4M660.6 371.7h1.4M660.6 373.0h1.4M660.8 375.6h1.4M662.2 320.8h1.4M661.9 322.0h1.4M662.1 323.2h1.4M662.2 324.3h1.4M661.8 325.5h1.4M662.0 326.9h1.4M662.3 327.8h1.4M661.8 329.5h1.4M661.9 331.6h1.4M662.2 332.9h1.4M662.0 334.3h1.4M662.0 335.3h1.4M662.3 336.7h1.4M662.3 337.9h1.4M662.3 339.2h1.4M661.9 340.3h1.4M662.2 341.8h1.4M662.2 343.1h1.4M661.9 344.1h1.4M662.3 345.4h1.4M662.2 346.9h1.4M661.8 348.2h1.4M661.8 349.3h1.4M662.2 350.7h1.4M662.0 352.1h1.4M662.0 352.8h1.4M662.2 354.3h1.4M661.8 355.6h1.4M662.2 356.9h1.4M662.1 358.2h1.4M662.3 359.3h1.4M662.0 360.8h1.4M662.1 361.9h1.4M662.3 362.9h1.4M662.0 365.7h1.4M662.0 366.7h1.4M662.0 368.0h1.4M661.8 369.6h1.4M663.4 320.6h1.4M663.5 321.7h1.4M663.0 324.2h1.4M663.4 325.6h1.4M663.1 328.4h1.4M663.4 329.2h1.4M663.2 330.8h1.4M663.3 331.9h1.4M663.3 333.5h1.4M663.6 334.4h1.4M663.5 335.8h1.4M663.6 336.9h1.4M663.3 338.1h1.4M663.6 340.9h1.4M663.5 341.7h1.4M663.6 343.4h1.4M663.4 344.6h1.4M663.6 345.6h1.4M663.2 346.7h1.4M663.3 348.5h1.4M663.3 349.5h1.4M663.4 350.6h1.4M663.5 352.0h1.4M663.5 353.0h1.4M663.3 354.7h1.4M663.3 355.8h1.4M663.2 356.8h1.4M663.1 358.1h1.4M663.3 359.3h1.4M663.6 360.9h1.4M663.3 362.0h1.4M663.4 367.2h1.4M663.3 368.3h1.4M664.7 320.4h1.4M664.7 321.6h1.4M664.8 323.0h1.4M664.7 324.2h1.4M664.7 325.3h1.4M664.6 327.9h1.4M664.5 329.4h1.4M664.4 330.6h1.4M664.6 331.5h1.4M664.5 333.2h1.4M664.5 335.4h1.4M664.6 336.6h1.4M664.8 337.9h1.4M664.6 339.2h1.4M664.3 340.7h1.4M664.8 341.7h1.4M664.6 343.2h1.4M664.4 344.3h1.4M664.7 345.5h1.4M664.6 346.6h1.4M664.5 348.2h1.4M664.3 349.4h1.4M664.3 350.3h1.4M664.6 351.6h1.4M664.6 353.0h1.4M664.6 354.3h1.4M664.3 355.3h1.4M664.3 356.8h1.4M664.8 358.1h1.4M664.3 359.5h1.4M664.6 360.5h1.4M664.5 361.9h1.4M664.5 363.0h1.4M664.8 364.5h1.4M664.5 365.7h1.4M664.8 366.7h1.4M664.6 368.2h1.4M664.8 369.1h1.4M665.7 320.2h1.4M665.9 321.7h1.4M665.6 323.1h1.4M665.8 325.7h1.4M665.9 326.7h1.4M665.7 327.7h1.4M665.9 328.9h1.4M665.8 330.4h1.4M665.6 331.9h1.4M665.8 333.0h1.4M666.0 334.5h1.4M665.7 335.6h1.4M666.0 336.5h1.4M665.8 337.7h1.4M665.6 339.2h1.4M665.6 340.7h1.4M665.7 341.4h1.4M665.8 343.2h1.4M665.9 344.1h1.4M665.7 345.3h1.4M665.6 346.8h1.4M665.9 347.8h1.4M666.0 349.1h1.4M665.9 351.9h1.4M665.7 352.8h1.4M666.1 354.1h1.4M665.5 355.7h1.4M666.0 356.6h1.4M665.8 357.9h1.4M665.6 358.9h1.4M665.6 360.3h1.4M665.9 361.7h1.4M665.7 363.2h1.4M666.0 364.1h1.4M665.7 365.5h1.4M665.9 366.4h1.4M665.7 367.9h1.4M665.7 369.2h1.4M666.9 317.8h1.4M667.0 320.4h1.4M666.9 321.5h1.4M667.1 322.7h1.4M666.9 324.1h1.4M666.8 325.1h1.4M667.1 326.6h1.4M666.8 328.1h1.4M666.9 330.5h1.4M667.1 331.4h1.4M667.0 333.8h1.4M667.2 335.5h1.4M667.3 336.3h1.4M666.9 337.7h1.4M666.8 339.2h1.4M667.3 340.4h1.4M666.9 341.3h1.4M667.1 342.9h1.4M667.2 344.3h1.4M667.0 345.3h1.4M667.1 346.4h1.4M667.2 347.5h1.4M666.8 349.0h1.4M666.9 350.3h1.4M666.8 351.6h1.4M667.0 353.1h1.4M667.2 354.3h1.4M667.2 355.2h1.4M666.8 356.8h1.4M667.0 358.0h1.4M667.1 359.1h1.4M667.0 360.5h1.4M667.3 361.3h1.4M667.1 363.0h1.4M666.8 364.2h1.4M666.9 365.5h1.4M666.9 366.6h1.4M666.8 367.8h1.4M666.9 369.3h1.4M668.3 320.3h1.4M668.0 322.7h1.4M668.5 324.1h1.4M668.3 326.1h1.4M668.1 327.4h1.4M668.1 329.1h1.4M668.4 330.3h1.4M668.1 331.2h1.4M668.1 332.5h1.4M668.0 333.9h1.4M668.2 334.9h1.4M668.5 336.6h1.4M668.2 337.5h1.4M668.1 338.9h1.4M668.1 339.9h1.4M668.3 341.4h1.4M668.4 342.9h1.4M668.2 343.8h1.4M668.2 345.2h1.4M668.2 346.6h1.4M668.6 347.7h1.4M668.4 349.2h1.4M668.5 350.2h1.4M668.5 351.3h1.4M668.3 352.5h1.4M668.6 353.8h1.4M668.4 355.1h1.4M668.1 356.4h1.4M668.3 357.6h1.4M668.6 358.7h1.4M668.2 359.9h1.4M668.4 361.6h1.4M668.1 362.5h1.4M668.6 363.7h1.4M668.3 365.0h1.4M668.4 366.5h1.4M668.4 367.6h1.4M668.0 369.0h1.4M669.8 320.2h1.4M669.5 321.5h1.4M669.5 322.5h1.4M669.5 323.7h1.4M669.6 324.8h1.4M669.6 326.3h1.4M669.6 327.4h1.4M669.6 329.9h1.4M669.4 331.2h1.4M669.5 332.5h1.4M669.7 333.5h1.4M669.4 335.0h1.4M669.8 336.4h1.4M669.6 337.6h1.4M669.7 338.6h1.4M669.4 340.0h1.4M669.8 341.3h1.4M669.4 342.5h1.4M669.4 343.7h1.4M669.3 344.9h1.4M669.6 346.4h1.4M669.4 347.8h1.4M669.4 348.8h1.4M669.8 350.2h1.4M669.5 351.2h1.4M669.5 353.9h1.4M669.3 355.2h1.4M669.7 356.1h1.4M669.3 357.2h1.4M669.7 358.9h1.4M669.3 359.7h1.4M669.7 361.2h1.4M669.5 362.5h1.4M669.7 363.9h1.4M669.7 365.2h1.4M669.6 366.3h1.4M669.8 367.8h1.4M669.6 368.9h1.4M671.0 317.5h1.4M670.9 320.1h1.4M671.0 321.4h1.4M671.0 323.4h1.4M671.0 324.8h1.4M670.7 326.3h1.4M670.8 327.5h1.4M670.6 328.5h1.4M670.9 330.2h1.4M670.6 331.3h1.4M670.5 332.1h1.4M670.9 333.6h1.4M670.9 334.6h1.4M671.0 335.9h1.4M670.5 337.4h1.4M670.5 338.4h1.4M671.1 339.7h1.4M670.7 341.1h1.4M670.7 342.7h1.4M671.0 343.8h1.4M670.9 344.9h1.4M671.0 347.6h1.4M671.1 348.4h1.4M670.9 349.6h1.4M671.0 351.2h1.4M671.0 352.6h1.4M670.6 353.8h1.4M670.8 355.2h1.4M670.7 357.1h1.4M670.7 358.6h1.4M670.6 360.1h1.4M670.7 360.9h1.4M671.0 363.7h1.4M670.7 364.9h1.4M670.7 365.9h1.4M670.9 367.3h1.4M671.0 368.7h1.4M672.0 314.6h1.4M672.3 320.0h1.4M671.8 321.2h1.4M671.8 322.4h1.4M671.9 323.4h1.4M672.1 325.0h1.4M672.3 325.9h1.4M671.9 327.4h1.4M672.0 328.7h1.4M672.0 330.0h1.4M671.9 331.1h1.4M672.2 332.4h1.4M671.9 333.6h1.4M671.8 334.6h1.4M672.1 335.8h1.4M672.0 337.5h1.4M672.2 338.7h1.4M672.1 339.5h1.4M672.3 341.3h1.4M671.9 342.1h1.4M671.9 343.3h1.4M672.3 344.7h1.4M672.3 346.0h1.4M671.9 347.3h1.4M671.8 348.8h1.4M672.1 349.9h1.4M671.8 351.3h1.4M672.0 352.1h1.4M671.9 353.8h1.4M671.8 354.8h1.4M672.0 356.3h1.4M672.1 357.5h1.4M672.0 358.7h1.4M672.1 359.8h1.4M672.2 361.3h1.4M671.9 362.1h1.4M672.2 363.7h1.4M671.9 364.5h1.4M671.8 365.7h1.4M672.2 367.5h1.4M672.0 368.3h1.4M671.9 369.9h1.4M596.8 297.3h1.4M579.7 294.9h1.4M521.8 269.9h1.4M509.3 278.2h1.4M599.1 300.2h1.4M596.5 297.3h1.4M557.5 284.7h1.4M589.7 298.3h1.4M559.8 289.3h1.4M527.1 277.0h1.4M530.1 275.1h1.4M561.2 287.6h1.4M573.4 285.5h1.4M577.4 291.7h1.4M504.5 271.2h1.4M497.8 274.1h1.4M597.3 291.9h1.4M597.8 296.0h1.4M499.5 276.6h1.4M527.1 274.9h1.4M570.0 288.2h1.4M538.7 279.5h1.4M576.9 288.5h1.4M586.6 296.9h1.4M541.7 282.6h1.4M505.7 278.7h1.4M568.4 291.3h1.4M531.5 282.5h1.4M571.8 292.3h1.4M567.4 284.0h1.4M586.6 292.6h1.4M517.5 277.7h1.4M530.7 278.1h1.4M533.7 271.8h1.4M520.4 279.1h1.4M536.4 284.7h1.4M538.4 284.9h1.4M566.8 290.7h1.4M500.0 275.8h1.4M575.6 287.6h1.4M516.0 279.8h1.4M512.3 278.7h1.4M527.9 271.8h1.4M555.8 283.9h1.4M582.2 288.1h1.4" stroke="#0e9ef6" stroke-width="1.5" fill="none"/>
<path d="M495.8 279.0h1.4M496.0 281.6h1.4M497.1 275.3h1.4M496.9 278.9h1.4M496.9 284.1h1.4M498.1 282.1h1.4M498.3 284.6h1.4M499.6 277.4h1.4M500.7 278.9h1.4M501.0 280.4h1.4M501.0 282.9h1.4M501.8 278.3h1.4M503.3 280.0h1.4M503.3 282.5h1.4M503.1 283.4h1.4M504.6 279.0h1.4M505.5 274.6h1.4M505.6 277.9h1.4M506.0 282.0h1.4M506.0 283.2h1.4M506.9 277.0h1.4M508.0 275.3h1.4M508.2 277.8h1.4M508.2 282.7h1.4M508.5 286.3h1.4M509.3 283.4h1.4M509.6 285.7h1.4M509.6 286.7h1.4M509.3 289.6h1.4M511.1 279.9h1.4M511.0 283.5h1.4M510.6 285.7h1.4M512.3 277.6h1.4M512.2 281.3h1.4M512.0 282.7h1.4M512.1 283.8h1.4M512.2 286.6h1.4M513.3 279.3h1.4M513.1 280.8h1.4M513.4 289.1h1.4M514.8 288.1h1.4M516.0 282.5h1.4M515.7 288.6h1.4M517.3 282.5h1.4M517.1 285.1h1.4M516.8 287.8h1.4M518.1 285.6h1.4M518.0 288.9h1.4M519.4 284.3h1.4M519.3 285.5h1.4M519.7 286.8h1.4M519.4 288.1h1.4M519.3 292.2h1.4M520.6 283.3h1.4M522.0 285.0h1.4M522.1 288.4h1.4M523.5 286.5h1.4M524.8 281.7h1.4M524.6 284.3h1.4M524.3 285.2h1.4M524.7 286.4h1.4M525.8 285.9h1.4M525.9 286.9h1.4M527.3 286.8h1.4M527.1 290.8h1.4M528.1 286.2h1.4M528.1 287.5h1.4M528.2 288.5h1.4M528.4 291.4h1.4M528.3 292.6h1.4M529.4 286.6h1.4M529.4 289.9h1.4M530.8 285.5h1.4M531.0 288.9h1.4M532.2 286.7h1.4M531.8 288.1h1.4M532.3 290.4h1.4M532.1 293.3h1.4M531.9 295.7h1.4M533.1 288.5h1.4M533.4 291.1h1.4M533.3 293.1h1.4M533.5 294.6h1.4M534.4 283.4h1.4M534.6 287.4h1.4M534.5 288.8h1.4M534.7 291.0h1.4M536.0 287.6h1.4M536.0 288.9h1.4M535.7 293.6h1.4M537.3 288.9h1.4M536.8 290.4h1.4M538.2 284.5h1.4M538.1 289.7h1.4M538.1 290.7h1.4M538.1 291.9h1.4M539.7 284.9h1.4M539.5 287.0h1.4M539.6 289.9h1.4M539.3 291.9h1.4M540.9 287.3h1.4M541.1 288.8h1.4M540.5 294.7h1.4M540.7 296.0h1.4M541.8 287.8h1.4M541.9 293.0h1.4M543.2 288.0h1.4M543.4 290.6h1.4M543.3 292.1h1.4M543.1 293.0h1.4M543.1 295.7h1.4M543.1 299.3h1.4M544.3 286.0h1.4M544.6 288.9h1.4M544.7 291.0h1.4M544.5 292.0h1.4M544.5 295.1h1.4M545.7 294.1h1.4M545.6 295.0h1.4M547.3 291.9h1.4M547.0 293.2h1.4M546.9 295.8h1.4M547.2 296.7h1.4M548.4 292.4h1.4M548.5 293.6h1.4M548.5 294.7h1.4M548.4 296.1h1.4M549.6 290.2h1.4M549.8 295.3h1.4M549.8 296.3h1.4M549.3 297.7h1.4M549.5 300.1h1.4M550.7 291.7h1.4M550.7 294.1h1.4M551.0 295.4h1.4M550.7 296.9h1.4M550.9 297.6h1.4M550.5 299.4h1.4M550.6 300.2h1.4M552.0 294.4h1.4M553.1 289.9h1.4M553.1 291.4h1.4M553.5 294.7h1.4M554.5 290.5h1.4M554.4 293.8h1.4M554.8 296.4h1.4M555.9 290.8h1.4M555.9 293.1h1.4M556.0 295.3h1.4M555.7 296.7h1.4M555.9 298.4h1.4M555.7 299.5h1.4M555.7 300.8h1.4M557.2 292.4h1.4M556.9 295.0h1.4M557.0 295.9h1.4M557.2 297.4h1.4M557.2 298.3h1.4M557.0 299.6h1.4M558.6 295.0h1.4M558.4 297.6h1.4M558.5 299.1h1.4M558.5 300.1h1.4M558.2 302.5h1.4M559.4 294.3h1.4M559.6 295.7h1.4M559.4 296.7h1.4M559.7 299.2h1.4M559.8 300.7h1.4M559.6 302.7h1.4M561.0 293.1h1.4M560.9 294.6h1.4M560.8 295.7h1.4M560.5 297.3h1.4M561.0 298.4h1.4M560.9 299.4h1.4M561.0 302.3h1.4M562.1 295.0h1.4M562.1 296.1h1.4M562.3 297.2h1.4M562.3 299.0h1.4M562.1 300.1h1.4M561.9 303.9h1.4M563.1 294.3h1.4M563.4 295.1h1.4M563.4 298.1h1.4M563.0 299.2h1.4M563.4 300.2h1.4M563.1 301.6h1.4M563.4 302.7h1.4M564.3 293.3h1.4M564.8 294.4h1.4M564.4 296.9h1.4M564.5 298.1h1.4M564.8 299.4h1.4M564.8 300.5h1.4M564.3 301.7h1.4M565.7 295.8h1.4M565.5 297.3h1.4M566.1 300.0h1.4M565.8 300.8h1.4M565.7 302.4h1.4M565.8 303.5h1.4M567.2 297.7h1.4M567.2 299.1h1.4M567.3 300.4h1.4M566.8 301.7h1.4M567.2 304.1h1.4M568.4 293.2h1.4M568.3 296.7h1.4M568.3 298.3h1.4M568.6 301.6h1.4M568.5 309.5h1.4M569.7 297.2h1.4M569.6 299.5h1.4M569.6 302.3h1.4M569.5 303.3h1.4M569.5 306.2h1.4M570.7 297.6h1.4M571.1 301.5h1.4M570.8 302.4h1.4M571.0 303.9h1.4M571.1 305.3h1.4M570.9 306.1h1.4M572.3 292.8h1.4M571.8 294.5h1.4M571.8 296.9h1.4M571.8 299.1h1.4M572.0 301.4h1.4M572.3 304.4h1.4M572.2 306.7h1.4M573.5 293.5h1.4M573.2 299.4h1.4M573.4 304.8h1.4M573.0 308.4h1.4M573.5 309.6h1.4M574.4 297.3h1.4M574.5 298.8h1.4M574.8 301.2h1.4M574.3 302.2h1.4M574.6 303.8h1.4M574.5 304.7h1.4M574.8 309.8h1.4M576.0 295.2h1.4M575.9 299.2h1.4M575.6 302.9h1.4M575.7 303.9h1.4M576.0 305.2h1.4M577.3 299.7h1.4M576.8 303.0h1.4M577.0 304.7h1.4M576.9 307.8h1.4M577.1 310.5h1.4M578.3 301.3h1.4M578.4 302.5h1.4M578.3 303.7h1.4M578.5 304.5h1.4M578.3 305.8h1.4M578.2 309.8h1.4M578.1 312.4h1.4M579.7 299.8h1.4M579.4 301.6h1.4M579.3 302.5h1.4M579.7 303.6h1.4M579.6 306.3h1.4M579.8 307.9h1.4M581.0 298.2h1.4M580.7 300.6h1.4M580.7 301.9h1.4M581.0 303.2h1.4M580.9 304.5h1.4M580.5 305.9h1.4M580.6 307.9h1.4M580.5 310.6h1.4M580.7 311.8h1.4M582.3 304.0h1.4M581.9 305.0h1.4M581.9 306.3h1.4M582.2 307.4h1.4M582.2 308.8h1.4M583.3 301.7h1.4M583.2 303.2h1.4M583.3 304.3h1.4M583.0 308.2h1.4M583.1 309.0h1.4M584.4 298.6h1.4M584.3 299.6h1.4M584.8 303.6h1.4M584.6 305.0h1.4M584.5 306.1h1.4M584.4 308.6h1.4M584.5 309.9h1.4M584.6 310.9h1.4M585.8 301.3h1.4M586.0 304.3h1.4M586.0 305.4h1.4M585.5 308.0h1.4M586.1 309.1h1.4M587.3 299.9h1.4M587.3 301.0h1.4M587.1 303.4h1.4M586.8 307.3h1.4M587.1 308.2h1.4M587.3 309.6h1.4M587.3 310.7h1.4M587.1 313.6h1.4M588.5 304.1h1.4M588.4 305.3h1.4M588.1 306.4h1.4M588.4 308.7h1.4M589.7 303.4h1.4M589.7 307.0h1.4M589.8 313.6h1.4M590.8 301.2h1.4M590.7 307.7h1.4M590.8 308.9h1.4M590.6 310.3h1.4M590.7 311.6h1.4M591.1 313.6h1.4M591.0 317.4h1.4M591.9 305.9h1.4M592.2 308.2h1.4M592.1 309.1h1.4M592.3 310.5h1.4M591.8 311.8h1.4M592.2 314.6h1.4M593.2 300.0h1.4M593.2 303.5h1.4M593.1 305.2h1.4M593.5 307.7h1.4M593.2 308.9h1.4M593.0 310.3h1.4M593.5 311.4h1.4M593.1 312.6h1.4M593.4 313.8h1.4M593.3 314.8h1.4M594.4 302.9h1.4M594.8 306.6h1.4M594.5 308.2h1.4M594.7 309.3h1.4M594.5 310.3h1.4M594.7 311.8h1.4M594.4 314.1h1.4M595.7 303.6h1.4M595.6 306.2h1.4M595.6 307.3h1.4M596.1 308.3h1.4M595.5 309.9h1.4M595.6 312.4h1.4M596.1 313.7h1.4M595.8 316.1h1.4M597.0 306.4h1.4M596.9 309.3h1.4M597.2 311.7h1.4M597.0 312.6h1.4M597.1 314.1h1.4M597.3 316.9h1.4M598.5 308.7h1.4M598.4 309.6h1.4M598.4 311.2h1.4M598.6 312.4h1.4M598.5 313.7h1.4M598.5 314.7h1.4M598.2 316.0h1.4M598.4 319.9h1.4M599.8 309.3h1.4M599.4 310.1h1.4M599.4 311.7h1.4M599.3 313.8h1.4M599.3 315.3h1.4M599.7 316.8h1.4M600.8 309.5h1.4M600.8 310.8h1.4M601.1 313.5h1.4M601.0 314.5h1.4M600.8 315.9h1.4M600.9 317.0h1.4M602.1 311.2h1.4M602.0 312.4h1.4M601.9 313.7h1.4M602.3 314.9h1.4M602.0 316.0h1.4M602.2 317.3h1.4M603.1 308.9h1.4M603.2 311.9h1.4M603.3 312.7h1.4M603.2 314.4h1.4M603.6 315.3h1.4M603.5 316.4h1.4M604.7 306.9h1.4M604.6 309.7h1.4M604.6 310.9h1.4M604.4 312.1h1.4M604.4 314.5h1.4M604.5 317.1h1.4M604.3 318.1h1.4M606.0 310.1h1.4M605.7 312.5h1.4M605.8 313.9h1.4M605.5 316.5h1.4M606.0 317.5h1.4M605.5 318.7h1.4M605.5 321.2h1.4M607.0 309.4h1.4M607.1 311.4h1.4M607.2 312.7h1.4M607.3 314.1h1.4M607.0 315.5h1.4M607.0 317.0h1.4M607.3 317.9h1.4M607.0 319.4h1.4M607.2 320.3h1.4M608.4 309.6h1.4M608.6 313.4h1.4M608.4 314.4h1.4M608.5 316.9h1.4M608.4 318.2h1.4M608.1 319.8h1.4M608.0 323.5h1.4M609.6 315.2h1.4M609.6 316.3h1.4M609.6 322.9h1.4M611.1 311.9h1.4M610.8 314.0h1.4M611.0 315.4h1.4M610.8 320.7h1.4M610.6 321.5h1.4M612.1 308.8h1.4M612.3 312.5h1.4M612.2 313.7h1.4M612.0 314.9h1.4M612.3 315.9h1.4M611.9 317.1h1.4M612.3 319.9h1.4M611.8 322.0h1.4M613.1 315.0h1.4M613.2 316.5h1.4M613.2 319.1h1.4M613.2 319.9h1.4M613.1 321.5h1.4M613.3 322.8h1.4M613.2 323.9h1.4M614.8 314.5h1.4M614.5 315.7h1.4M614.4 316.7h1.4M614.8 318.4h1.4M614.6 319.5h1.4M614.5 320.6h1.4M614.4 321.7h1.4M614.6 322.9h1.4M614.8 324.5h1.4M615.6 312.3h1.4M615.8 314.6h1.4M615.7 316.1h1.4M615.7 317.2h1.4M615.6 318.6h1.4M615.6 320.1h1.4M615.8 322.4h1.4M615.7 323.7h1.4M617.3 311.3h1.4M617.0 313.8h1.4M617.1 320.1h1.4M617.1 321.8h1.4M617.2 322.6h1.4M618.5 316.7h1.4M618.4 318.4h1.4M618.3 319.6h1.4M618.2 320.9h1.4M618.3 321.6h1.4M618.2 325.4h1.4M619.6 317.3h1.4M619.6 318.9h1.4M619.8 320.0h1.4M619.8 321.0h1.4M619.6 322.6h1.4M619.8 323.7h1.4M620.8 316.8h1.4M620.6 319.0h1.4M620.9 320.6h1.4M620.6 321.7h1.4M620.7 323.0h1.4M621.0 324.0h1.4M620.9 325.3h1.4M620.6 329.3h1.4M621.8 315.1h1.4M621.9 316.1h1.4M621.9 322.2h1.4M621.8 323.9h1.4M622.0 324.6h1.4M622.2 327.2h1.4M621.8 328.6h1.4M623.3 316.7h1.4M623.2 319.3h1.4M623.0 320.3h1.4M623.4 321.5h1.4M623.5 323.1h1.4M623.2 324.3h1.4M623.0 325.4h1.4M623.1 326.7h1.4M623.4 327.9h1.4M623.4 329.3h1.4M623.4 335.5h1.4M624.4 321.4h1.4M624.6 322.8h1.4M624.3 323.5h1.4M624.4 325.0h1.4M624.7 326.1h1.4M624.8 327.5h1.4M624.7 329.0h1.4M625.7 313.3h1.4M625.6 319.7h1.4M625.8 321.9h1.4M625.8 323.1h1.4M625.8 326.8h1.4M625.8 329.1h1.4M625.8 330.4h1.4M625.8 331.9h1.4M625.5 333.1h1.4M625.6 334.5h1.4M625.8 335.8h1.4M625.8 337.0h1.4M626.8 321.4h1.4M627.0 322.8h1.4M626.9 323.7h1.4M627.1 325.4h1.4M627.0 326.3h1.4M626.9 327.6h1.4M626.9 328.8h1.4M627.3 330.1h1.4M626.8 331.4h1.4M626.8 332.6h1.4M627.0 334.0h1.4M626.8 336.4h1.4M628.3 322.0h1.4M628.6 323.4h1.4M628.4 325.6h1.4M628.5 327.1h1.4M628.3 328.2h1.4M628.1 329.4h1.4M628.0 331.0h1.4M628.5 333.1h1.4M628.5 335.7h1.4M628.3 336.9h1.4M628.4 338.5h1.4M629.6 321.5h1.4M629.7 322.6h1.4M629.8 325.1h1.4M629.3 326.3h1.4M629.4 328.0h1.4M629.5 329.2h1.4M629.3 330.5h1.4M629.4 331.3h1.4M629.8 332.7h1.4M629.5 333.8h1.4M629.5 335.1h1.4M629.5 337.9h1.4M629.8 339.1h1.4M629.4 341.7h1.4M629.7 343.8h1.4M629.6 345.0h1.4M630.6 319.7h1.4M631.1 320.5h1.4M630.9 323.2h1.4M631.1 327.0h1.4M631.1 329.6h1.4M630.6 330.9h1.4M631.1 332.2h1.4M630.9 333.0h1.4M630.9 334.2h1.4M630.6 335.5h1.4M631.0 337.1h1.4M631.1 338.0h1.4M630.8 339.3h1.4M632.2 322.4h1.4M632.3 323.4h1.4M632.1 327.0h1.4M631.8 329.8h1.4M632.0 331.2h1.4M631.8 332.2h1.4M631.9 334.9h1.4M631.8 336.1h1.4M631.8 337.4h1.4M632.2 339.6h1.4M631.8 340.8h1.4M631.8 344.5h1.4M633.4 329.1h1.4M633.3 330.2h1.4M633.1 331.5h1.4M633.4 333.9h1.4M633.1 335.0h1.4M633.1 336.3h1.4M633.5 337.9h1.4M633.3 340.2h1.4M633.4 341.3h1.4M633.4 342.9h1.4M633.3 352.8h1.4M634.7 325.5h1.4M634.3 326.9h1.4M634.4 327.8h1.4M634.8 332.9h1.4M634.4 334.0h1.4M634.3 335.4h1.4M634.4 336.9h1.4M634.6 338.2h1.4M634.7 339.2h1.4M634.8 340.6h1.4M634.8 341.8h1.4M634.3 344.3h1.4M634.3 346.8h1.4M635.6 321.9h1.4M636.0 323.6h1.4M635.8 326.9h1.4M635.9 329.7h1.4M635.8 330.9h1.4M635.8 331.9h1.4M635.6 333.6h1.4M635.5 334.4h1.4M635.8 336.1h1.4M635.5 337.2h1.4M636.1 339.5h1.4M635.9 341.0h1.4M636.0 341.9h1.4M635.9 347.3h1.4M635.6 350.7h1.4M635.9 353.1h1.4M636.8 320.1h1.4M637.2 323.4h1.4M637.3 326.3h1.4M637.1 332.3h1.4M636.8 333.6h1.4M636.8 335.0h1.4M636.9 336.4h1.4M637.1 337.4h1.4M637.3 338.8h1.4M636.9 340.1h1.4M636.8 343.4h1.4M637.2 344.6h1.4M637.0 346.3h1.4M637.2 347.7h1.4M637.0 348.8h1.4M638.5 324.0h1.4M638.5 325.5h1.4M638.0 328.9h1.4M638.6 330.2h1.4M638.2 332.4h1.4M638.4 333.7h1.4M638.3 335.5h1.4M638.0 336.6h1.4M638.1 338.0h1.4M638.6 339.2h1.4M638.4 340.0h1.4M638.2 341.4h1.4M638.0 342.9h1.4M638.3 344.9h1.4M638.1 346.7h1.4M638.3 347.6h1.4M638.2 350.0h1.4M639.4 323.0h1.4M639.5 329.5h1.4M639.8 333.0h1.4M639.6 335.8h1.4M639.4 336.8h1.4M639.4 338.2h1.4M639.5 339.3h1.4M639.6 340.8h1.4M639.5 341.8h1.4M639.8 342.9h1.4M639.4 344.1h1.4M639.5 348.3h1.4M639.8 350.3h1.4M639.7 355.8h1.4M640.8 328.6h1.4M640.6 330.9h1.4M641.1 331.9h1.4M640.8 333.6h1.4M640.7 334.8h1.4M640.6 335.6h1.4M640.8 337.2h1.4M641.0 338.3h1.4M641.1 339.4h1.4M640.8 340.9h1.4M641.1 342.0h1.4M640.5 343.6h1.4M640.6 345.8h1.4M640.8 347.3h1.4M640.7 352.0h1.4M640.8 356.2h1.4M642.2 332.7h1.4M642.2 333.6h1.4M642.3 335.0h1.4M641.9 337.2h1.4M641.9 338.5h1.4M642.2 340.0h1.4M642.2 341.3h1.4M642.3 342.5h1.4M641.8 343.6h1.4M642.2 345.1h1.4M641.8 346.4h1.4M641.9 347.3h1.4M641.8 348.7h1.4M642.0 349.9h1.4M642.2 350.9h1.4M642.3 352.4h1.4M643.2 330.1h1.4M643.2 331.7h1.4M643.1 333.1h1.4M643.1 334.3h1.4M643.4 335.6h1.4M643.1 336.3h1.4M643.3 337.8h1.4M643.0 338.8h1.4M643.2 340.6h1.4M643.0 341.6h1.4M643.1 342.7h1.4M643.2 343.9h1.4M643.4 345.3h1.4M643.2 346.3h1.4M643.2 347.6h1.4M643.6 349.1h1.4M643.3 351.7h1.4M643.6 355.0h1.4M644.3 324.5h1.4M644.4 329.4h1.4M644.3 330.4h1.4M644.5 331.7h1.4M644.7 337.1h1.4M644.4 338.2h1.4M644.4 339.3h1.4M644.6 340.4h1.4M644.4 341.6h1.4M644.4 343.4h1.4M644.6 344.4h1.4M644.7 345.4h1.4M644.4 346.7h1.4M644.7 348.4h1.4M644.4 349.2h1.4M644.5 350.9h1.4M644.5 355.6h1.4M644.4 356.9h1.4M644.6 360.4h1.4M644.8 362.0h1.4M645.8 329.9h1.4M646.0 331.0h1.4M645.8 332.5h1.4M645.6 333.6h1.4M645.8 334.6h1.4M645.7 336.3h1.4M645.7 337.4h1.4M645.5 338.5h1.4M646.0 340.1h1.4M645.8 341.0h1.4M646.0 342.3h1.4M646.0 343.8h1.4M645.8 344.6h1.4M645.6 346.2h1.4M645.6 347.4h1.4M645.7 351.1h1.4M646.1 352.5h1.4M646.1 356.0h1.4M647.1 331.6h1.4M647.0 332.7h1.4M647.2 335.3h1.4M646.9 336.8h1.4M647.1 337.8h1.4M647.1 339.1h1.4M646.8 340.4h1.4M647.1 341.4h1.4M646.9 342.5h1.4M646.9 344.2h1.4M647.2 345.6h1.4M646.8 346.7h1.4M647.1 347.6h1.4M646.9 349.2h1.4M647.1 351.7h1.4M646.9 354.2h1.4M647.0 355.4h1.4M648.6 324.8h1.4M648.4 327.1h1.4M648.3 328.0h1.4M648.4 329.7h1.4M648.1 330.7h1.4M648.3 331.9h1.4M648.1 334.6h1.4M648.0 335.8h1.4M648.5 336.9h1.4M648.4 338.3h1.4M648.3 339.3h1.4M648.6 340.6h1.4M648.1 341.8h1.4M648.5 343.6h1.4M648.2 344.5h1.4M648.2 345.8h1.4M648.2 346.9h1.4M648.4 348.0h1.4M648.5 349.6h1.4M648.6 350.6h1.4M648.1 352.3h1.4M649.3 331.4h1.4M649.6 333.8h1.4M649.3 334.8h1.4M649.4 337.6h1.4M649.6 338.8h1.4M649.7 340.2h1.4M649.7 342.6h1.4M649.3 343.7h1.4M649.3 344.8h1.4M649.3 346.4h1.4M649.6 347.5h1.4M649.5 348.7h1.4M649.3 351.5h1.4M649.7 352.7h1.4M650.7 325.3h1.4M650.9 328.0h1.4M650.5 333.1h1.4M651.0 334.0h1.4M650.6 335.5h1.4M650.6 338.0h1.4M650.8 339.1h1.4M650.5 340.5h1.4M650.7 341.7h1.4M650.5 342.8h1.4M650.8 344.3h1.4M650.9 345.4h1.4M650.8 347.0h1.4M651.0 348.0h1.4M651.0 351.9h1.4M650.8 353.3h1.4M650.8 354.3h1.4M651.0 355.3h1.4M650.8 357.9h1.4M652.3 332.1h1.4M652.2 333.8h1.4M652.3 334.8h1.4M652.1 335.9h1.4M652.1 337.5h1.4M652.2 341.3h1.4M652.0 342.6h1.4M651.9 343.4h1.4M652.1 344.8h1.4M651.9 346.0h1.4M652.2 347.4h1.4M651.9 348.6h1.4M651.9 350.0h1.4M651.9 351.3h1.4M652.3 352.4h1.4M652.0 353.6h1.4M652.0 354.8h1.4M653.6 330.0h1.4M653.4 335.3h1.4M653.1 336.3h1.4M653.2 338.1h1.4M653.4 340.4h1.4M653.2 341.7h1.4M653.1 342.7h1.4M653.2 344.1h1.4M653.2 345.4h1.4M653.5 346.5h1.4M653.0 348.1h1.4M653.5 348.8h1.4M653.2 350.5h1.4M653.1 351.9h1.4M653.1 352.9h1.4M653.6 353.8h1.4M653.1 357.9h1.4M653.2 358.8h1.4M654.7 331.9h1.4M654.3 333.5h1.4M654.5 335.7h1.4M654.3 336.9h1.4M654.7 339.6h1.4M654.6 340.9h1.4M654.7 342.0h1.4M654.5 343.5h1.4M654.3 344.5h1.4M654.4 345.9h1.4M654.6 347.2h1.4M654.4 348.3h1.4M654.4 350.7h1.4M654.7 352.1h1.4M654.4 353.3h1.4M654.3 356.1h1.4M654.8 362.2h1.4M654.4 364.5h1.4M655.7 332.8h1.4M655.7 339.9h1.4M656.1 341.6h1.4M655.9 344.1h1.4M656.0 345.3h1.4M656.0 346.2h1.4M655.8 347.4h1.4M656.0 348.9h1.4M655.7 350.3h1.4M655.9 351.5h1.4M656.0 352.8h1.4M655.5 354.0h1.4M655.8 355.3h1.4M655.8 356.1h1.4M656.0 362.8h1.4M655.7 365.2h1.4M657.0 326.8h1.4M656.9 330.3h1.4M657.3 333.2h1.4M657.2 335.5h1.4M657.1 339.2h1.4M656.8 341.7h1.4M657.2 344.3h1.4M657.0 345.6h1.4M657.2 347.1h1.4M657.2 347.9h1.4M657.3 349.1h1.4M656.9 350.6h1.4M657.3 351.6h1.4M657.2 355.6h1.4M657.1 356.6h1.4M656.8 357.9h1.4M658.1 334.6h1.4M658.5 336.3h1.4M658.3 337.4h1.4M658.6 339.5h1.4M658.4 341.0h1.4M658.3 342.3h1.4M658.5 343.5h1.4M658.4 345.1h1.4M658.2 345.8h1.4M658.3 347.3h1.4M658.1 348.4h1.4M658.3 349.8h1.4M658.3 351.1h1.4M658.6 352.4h1.4M658.5 353.3h1.4M658.1 354.6h1.4M658.2 356.3h1.4M658.4 363.8h1.4M659.5 336.7h1.4M659.7 340.3h1.4M659.8 343.1h1.4M659.4 344.0h1.4M659.8 345.1h1.4M659.5 346.6h1.4M659.3 347.7h1.4M659.5 349.2h1.4M659.7 350.1h1.4M659.4 352.9h1.4M659.5 354.2h1.4M659.4 355.2h1.4M659.3 356.7h1.4M659.6 358.1h1.4M659.7 361.3h1.4M659.4 362.9h1.4M660.9 336.5h1.4M660.8 337.8h1.4M661.1 339.0h1.4M660.6 340.1h1.4M660.5 341.6h1.4M661.0 342.7h1.4M660.9 343.8h1.4M660.6 345.5h1.4M660.5 346.4h1.4M660.9 347.8h1.4M661.0 348.9h1.4M660.8 350.3h1.4M660.6 351.8h1.4M660.7 353.1h1.4M661.0 354.3h1.4M661.0 358.0h1.4M660.8 359.3h1.4M661.0 361.3h1.4M660.8 366.6h1.4M662.2 332.0h1.4M662.1 333.3h1.4M661.8 337.0h1.4M661.8 340.8h1.4M661.9 343.0h1.4M661.9 345.6h1.4M661.8 347.2h1.4M661.9 348.1h1.4M661.9 349.6h1.4M661.9 350.9h1.4M662.3 351.8h1.4M662.2 353.1h1.4M662.3 354.3h1.4M662.1 355.6h1.4M661.9 357.1h1.4M662.2 359.7h1.4M662.2 360.6h1.4M663.0 332.1h1.4M663.4 337.2h1.4M663.6 342.5h1.4M663.4 345.1h1.4M663.2 347.6h1.4M663.1 348.7h1.4M663.5 349.7h1.4M663.2 350.9h1.4M663.5 352.7h1.4M663.5 355.0h1.4M663.0 356.3h1.4M663.1 357.4h1.4M663.6 358.9h1.4M663.3 362.7h1.4M664.8 339.1h1.4M664.5 342.9h1.4M664.4 343.8h1.4M664.8 345.4h1.4M664.8 346.5h1.4M664.7 348.0h1.4M664.6 349.1h1.4M664.5 350.1h1.4M664.7 351.5h1.4M664.7 352.9h1.4M664.5 354.1h1.4M664.3 356.4h1.4M664.6 358.9h1.4M665.7 337.1h1.4M665.8 344.4h1.4M665.6 346.0h1.4M665.8 348.0h1.4M665.7 349.7h1.4M665.8 350.8h1.4M666.0 352.1h1.4M665.7 353.2h1.4M666.0 354.2h1.4M665.9 355.5h1.4M666.0 358.1h1.4" stroke="#f87272" stroke-width="1.5" fill="none"/>
<rect x="582.00" y="253.20" width="4.30" height="4.30" fill="#0e9ef6" stroke="none" stroke-width="1" />
<rect x="582.00" y="265.80" width="4.30" height="4.30" fill="#f87272" stroke="none" stroke-width="1" />
<text x="591.30" y="259.00" font-size="10.9" text-anchor="start" fill="#000" >11-bit devices</text>
<text x="591.30" y="272.20" font-size="10.9" text-anchor="start" fill="#000" >After 10<tspan font-size="8" dy="-4.6">5</tspan><tspan dy="4.6"> cycles</tspan></text>
<rect x="495.30" y="241.10" width="177.80" height="140.00" fill="none" stroke="#5a5a5a" stroke-width="1" />
<path d="M495.30 381.10v-3 M501.99 381.10v-1.5 M505.90 381.10v-1.5 M508.68 381.10v-1.5 M510.83 381.10v-1.5 M512.59 381.10v-1.5 M514.08 381.10v-1.5 M515.37 381.10v-1.5 M516.50 381.10v-1.5 M517.52 381.10v-3 M524.21 381.10v-1.5 M528.12 381.10v-1.5 M530.90 381.10v-1.5 M533.05 381.10v-1.5 M534.81 381.10v-1.5 M536.30 381.10v-1.5 M537.59 381.10v-1.5 M538.72 381.10v-1.5 M539.74 381.10v-3 M546.43 381.10v-1.5 M550.34 381.10v-1.5 M553.12 381.10v-1.5 M555.27 381.10v-1.5 M557.03 381.10v-1.5 M558.52 381.10v-1.5 M559.81 381.10v-1.5 M560.94 381.10v-1.5 M561.96 381.10v-3 M568.65 381.10v-1.5 M572.56 381.10v-1.5 M575.34 381.10v-1.5 M577.49 381.10v-1.5 M579.25 381.10v-1.5 M580.74 381.10v-1.5 M582.03 381.10v-1.5 M583.16 381.10v-1.5 M584.18 381.10v-3 M590.87 381.10v-1.5 M594.78 381.10v-1.5 M597.56 381.10v-1.5 M599.71 381.10v-1.5 M601.47 381.10v-1.5 M602.96 381.10v-1.5 M604.25 381.10v-1.5 M605.38 381.10v-1.5 M606.40 381.10v-3 M613.09 381.10v-1.5 M617.00 381.10v-1.5 M619.78 381.10v-1.5 M621.93 381.10v-1.5 M623.69 381.10v-1.5 M625.18 381.10v-1.5 M626.47 381.10v-1.5 M627.60 381.10v-1.5 M628.62 381.10v-3 M635.31 381.10v-1.5 M639.22 381.10v-1.5 M642.00 381.10v-1.5 M644.15 381.10v-1.5 M645.91 381.10v-1.5 M647.40 381.10v-1.5 M648.69 381.10v-1.5 M649.82 381.10v-1.5 M650.84 381.10v-3 M657.53 381.10v-1.5 M661.44 381.10v-1.5 M664.22 381.10v-1.5 M666.37 381.10v-1.5 M668.13 381.10v-1.5 M669.62 381.10v-1.5 M670.91 381.10v-1.5 M672.04 381.10v-1.5 M673.06 381.10v-3 M495.30 363.50h3 M495.30 321.90h3 M495.30 280.30h3 M495.30 380.05h1.5 M495.30 376.02h1.5 M495.30 372.73h1.5 M495.30 369.94h1.5 M495.30 367.53h1.5 M495.30 365.40h1.5 M495.30 350.98h1.5 M495.30 343.65h1.5 M495.30 338.45h1.5 M495.30 334.42h1.5 M495.30 331.13h1.5 M495.30 328.34h1.5 M495.30 325.93h1.5 M495.30 323.80h1.5 M495.30 309.38h1.5 M495.30 302.05h1.5 M495.30 296.85h1.5 M495.30 292.82h1.5 M495.30 289.53h1.5 M495.30 286.74h1.5 M495.30 284.33h1.5 M495.30 282.20h1.5 M495.30 267.78h1.5 M495.30 260.45h1.5 M495.30 255.25h1.5 M495.30 251.22h1.5 M495.30 247.93h1.5 M495.30 245.14h1.5 M495.30 242.73h1.5" stroke="#555" stroke-width="0.7"/>
<text x="492" y="285.20" font-size="12" font-weight="bold" text-anchor="end">10<tspan font-size="8.8" dy="-5.3">−2</tspan></text>
<text x="492" y="326.80" font-size="12" font-weight="bold" text-anchor="end">10<tspan font-size="8.8" dy="-5.3">−3</tspan></text>
<text x="492" y="368.40" font-size="12" font-weight="bold" text-anchor="end">10<tspan font-size="8.8" dy="-5.3">−4</tspan></text>
<text x="495.60" y="396" font-size="12.2" font-weight="bold" text-anchor="middle">10<tspan font-size="8.8" dy="-5.5">−12</tspan></text>
<text x="540.04" y="396" font-size="12.2" font-weight="bold" text-anchor="middle">10<tspan font-size="8.8" dy="-5.5">−10</tspan></text>
<text x="584.48" y="396" font-size="12.2" font-weight="bold" text-anchor="middle">10<tspan font-size="8.8" dy="-5.5">−8</tspan></text>
<text x="628.92" y="396" font-size="12.2" font-weight="bold" text-anchor="middle">10<tspan font-size="8.8" dy="-5.5">−6</tspan></text>
<text x="673.36" y="396" font-size="12.2" font-weight="bold" text-anchor="middle">10<tspan font-size="8.8" dy="-5.5">−4</tspan></text>
<text x="584.50" y="415.00" font-size="13" font-weight="bold" text-anchor="middle" fill="#000" ><tspan font-style="italic">I</tspan><tspan font-size="9" dy="3">DS</tspan><tspan dy="-3"> (A)</tspan></text>
<text transform="translate(461.6,307.9) rotate(-90)" font-size="13.5" font-weight="bold" text-anchor="middle">S<tspan font-size="9" dy="2.5" font-style="italic">I</tspan><tspan dy="-2.5">/</tspan><tspan font-style="italic">I</tspan><tspan font-size="9" dy="2.5">DS</tspan><tspan dy="-2.5"> (Hz</tspan><tspan font-size="9" dy="-5.5">-1/2</tspan><tspan dy="5.5">)</tspan></text>
<text transform="translate(505.5,325.5) rotate(22.8)" font-size="12" >Measure accuracy limit</text>
<path d="M560.4 338 L571 333.8" stroke="#000" stroke-width="1"/><path d="M574 332.6 L568.6 332.6 L570.4 336.6 Z" fill="#000"/></svg></body></html>
